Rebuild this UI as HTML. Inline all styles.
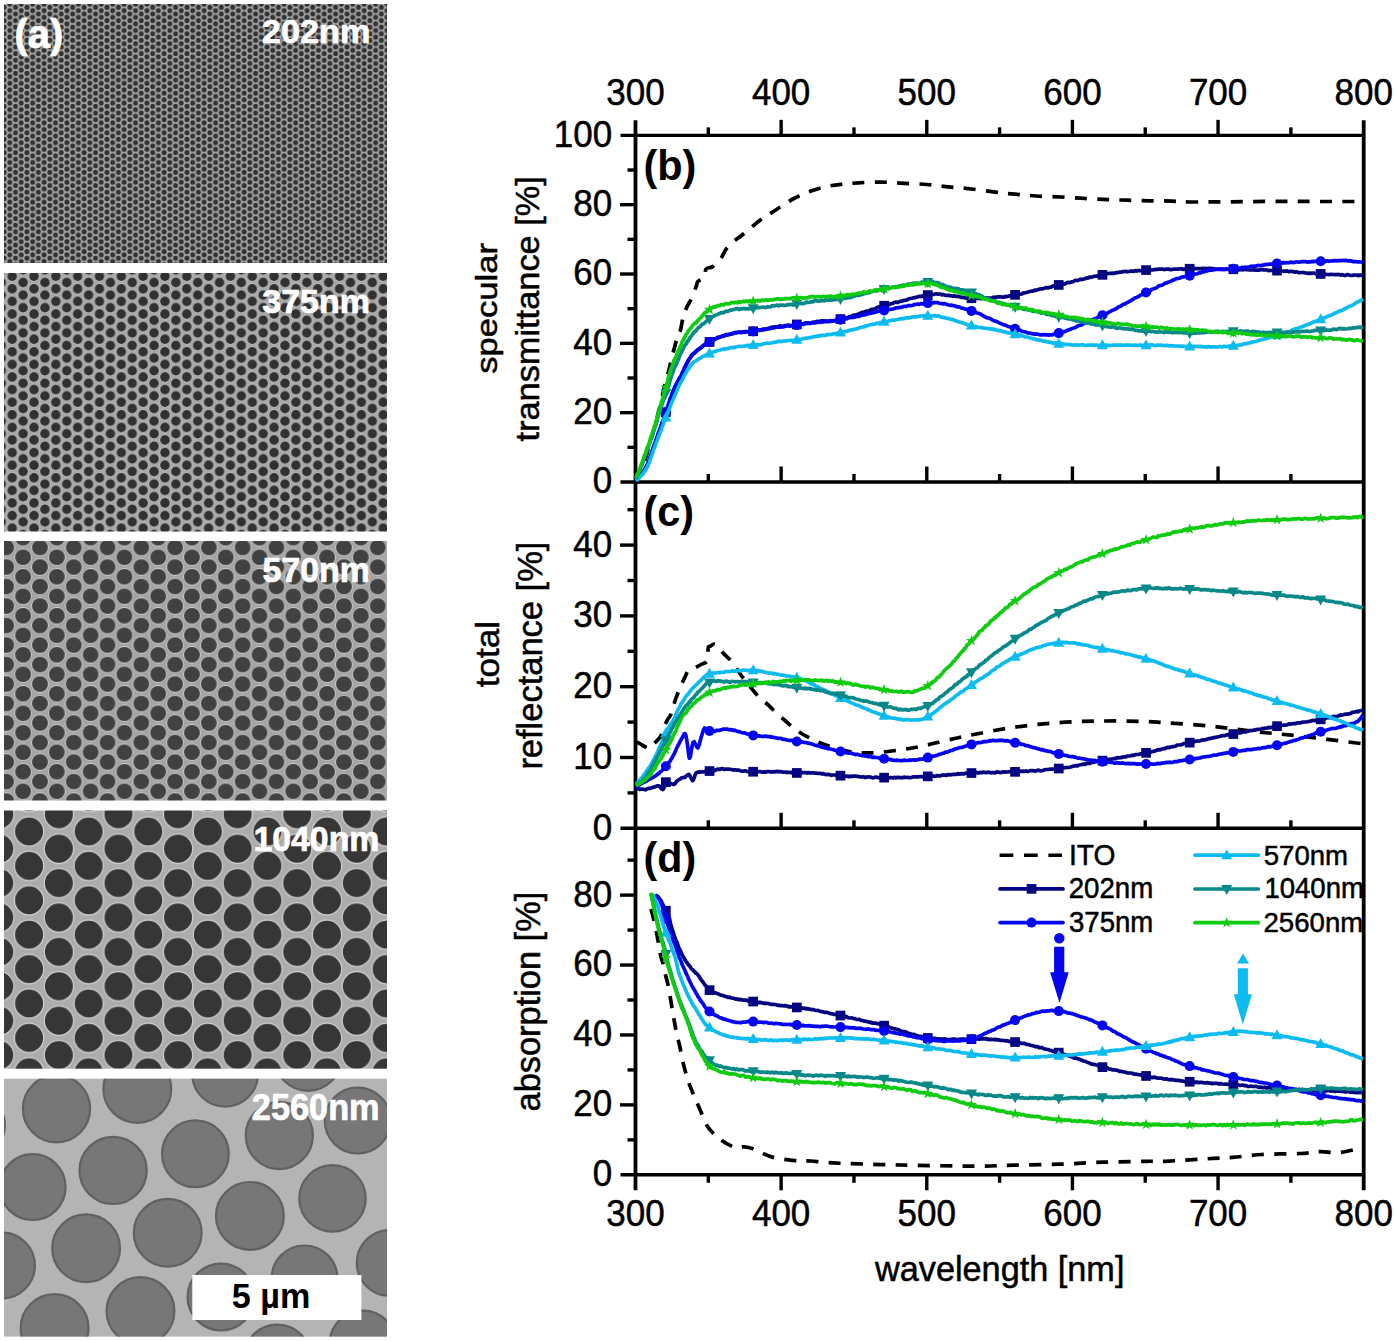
<!DOCTYPE html><html><head><meta charset="utf-8"><style>
html,body{margin:0;padding:0;background:#fff;overflow:hidden;}
svg{display:block;}
</style></head><body>
<svg width="1395" height="1341" viewBox="0 0 1395 1341">
<defs><pattern id="p0" patternUnits="userSpaceOnUse" x="9.80" y="10.70" width="11.432" height="6.600"><rect width="11.432" height="6.600" fill="#a6a6a6"/><circle cx="0.00" cy="0.00" r="2.5" fill="#323232"/><circle cx="0.00" cy="6.60" r="2.5" fill="#323232"/><circle cx="11.43" cy="0.00" r="2.5" fill="#323232"/><circle cx="11.43" cy="6.60" r="2.5" fill="#323232"/><circle cx="5.72" cy="3.30" r="2.5" fill="#323232"/></pattern><pattern id="p1" patternUnits="userSpaceOnUse" x="12.20" y="276.20" width="21.824" height="12.600"><rect width="21.824" height="12.600" fill="#a8a8a8"/><circle cx="0.00" cy="0.00" r="5.02" fill="none" stroke="#d2d2d2" stroke-width="0.6"/><circle cx="0.00" cy="12.60" r="5.02" fill="none" stroke="#d2d2d2" stroke-width="0.6"/><circle cx="21.82" cy="0.00" r="5.02" fill="none" stroke="#d2d2d2" stroke-width="0.6"/><circle cx="21.82" cy="12.60" r="5.02" fill="none" stroke="#d2d2d2" stroke-width="0.6"/><circle cx="10.91" cy="6.30" r="5.02" fill="none" stroke="#d2d2d2" stroke-width="0.6"/><circle cx="0.00" cy="0.00" r="4.75" fill="#313131"/><circle cx="0.00" cy="12.60" r="4.75" fill="#313131"/><circle cx="21.82" cy="0.00" r="4.75" fill="#313131"/><circle cx="21.82" cy="12.60" r="4.75" fill="#313131"/><circle cx="10.91" cy="6.30" r="4.75" fill="#313131"/></pattern><pattern id="p2" patternUnits="userSpaceOnUse" x="23.10" y="557.30" width="33.775" height="19.500"><rect width="33.775" height="19.500" fill="#a4a4a4"/><circle cx="0.00" cy="0.00" r="8.30" fill="none" stroke="#d2d2d2" stroke-width="0.9"/><circle cx="0.00" cy="19.50" r="8.30" fill="none" stroke="#d2d2d2" stroke-width="0.9"/><circle cx="33.77" cy="0.00" r="8.30" fill="none" stroke="#d2d2d2" stroke-width="0.9"/><circle cx="33.77" cy="19.50" r="8.30" fill="none" stroke="#d2d2d2" stroke-width="0.9"/><circle cx="16.89" cy="9.75" r="8.30" fill="none" stroke="#d2d2d2" stroke-width="0.9"/><circle cx="0.00" cy="0.00" r="7.9" fill="#414141"/><circle cx="0.00" cy="19.50" r="7.9" fill="#414141"/><circle cx="33.77" cy="0.00" r="7.9" fill="#414141"/><circle cx="33.77" cy="19.50" r="7.9" fill="#414141"/><circle cx="16.89" cy="9.75" r="7.9" fill="#414141"/></pattern><pattern id="p3" patternUnits="userSpaceOnUse" x="29.10" y="831.50" width="59.583" height="34.400"><rect width="59.583" height="34.400" fill="#acacac"/><circle cx="0.00" cy="0.00" r="14.54" fill="none" stroke="#d2d2d2" stroke-width="1.2"/><circle cx="0.00" cy="34.40" r="14.54" fill="none" stroke="#d2d2d2" stroke-width="1.2"/><circle cx="59.58" cy="0.00" r="14.54" fill="none" stroke="#d2d2d2" stroke-width="1.2"/><circle cx="59.58" cy="34.40" r="14.54" fill="none" stroke="#d2d2d2" stroke-width="1.2"/><circle cx="29.79" cy="17.20" r="14.54" fill="none" stroke="#d2d2d2" stroke-width="1.2"/><circle cx="0.00" cy="0.00" r="14.0" fill="#363636"/><circle cx="0.00" cy="34.40" r="14.0" fill="#363636"/><circle cx="59.58" cy="0.00" r="14.0" fill="#363636"/><circle cx="59.58" cy="34.40" r="14.0" fill="#363636"/><circle cx="29.79" cy="17.20" r="14.0" fill="#363636"/></pattern><clipPath id="c5"><rect x="4" y="1078.7" width="383" height="257.89999999999986"/></clipPath></defs>
<rect width="1395" height="1341" fill="#fff"/>
<rect x="4" y="4" width="383" height="259" fill="url(#p0)"/><rect x="4" y="273" width="383" height="258.5" fill="url(#p1)"/><rect x="4" y="541" width="383" height="259.5" fill="url(#p2)"/><rect x="4" y="810.5" width="383" height="258.20000000000005" fill="url(#p3)"/><rect x="4" y="1078.7" width="383" height="257.89999999999986" fill="#b4b4b4"/><g clip-path="url(#c5)" fill="#777777" stroke="#616161" stroke-width="2.2"><circle cx="56.5" cy="1108.7" r="33.6"/><circle cx="137.3" cy="1088.9" r="33.9"/><circle cx="195.4" cy="1153.8" r="33.4"/><circle cx="32.7" cy="1187.1" r="32.9"/><circle cx="113.1" cy="1170.4" r="33.6"/><circle cx="167.7" cy="1232.7" r="33.9"/><circle cx="2" cy="1265.5" r="32.9"/><circle cx="86.1" cy="1248.2" r="33.9"/><circle cx="54.6" cy="1328" r="33.9"/><circle cx="140.5" cy="1311.1" r="33.9"/><circle cx="221" cy="1297" r="33.4"/><circle cx="225.1" cy="1073.7" r="32.9"/><circle cx="308" cy="1057.4" r="33.4"/><circle cx="357.7" cy="1120.6" r="32.9"/><circle cx="279.3" cy="1135.5" r="33.6"/><circle cx="332.5" cy="1198.4" r="33.199999999999996"/><circle cx="249.9" cy="1215.9" r="33.9"/><circle cx="389.7" cy="1262.9" r="32.9"/><circle cx="304.5" cy="1278.4" r="32.9"/><circle cx="363" cy="1344" r="33.4"/><circle cx="277.3" cy="1358" r="33.4"/><circle cx="-28" cy="1125" r="32.9"/></g><text transform="matrix(0.39911,0,0,0.40319,14.50,47.93)" font-family="'Liberation Sans', sans-serif" font-weight="bold" font-size="100" fill="#fff" stroke="#fff" stroke-width="1.75" stroke-linejoin="round">(a)</text><text transform="matrix(0.34221,0,0,0.32817,261.97,43.27)" font-family="'Liberation Sans', sans-serif" font-weight="bold" font-size="100" fill="#fff" stroke="#fff" stroke-width="2.05" stroke-linejoin="round">202nm</text><text transform="matrix(0.33948,0,0,0.34085,262.32,312.76)" font-family="'Liberation Sans', sans-serif" font-weight="bold" font-size="100" fill="#fff" stroke="#fff" stroke-width="2.06" stroke-linejoin="round">375nm</text><text transform="matrix(0.33896,0,0,0.35352,262.58,582.25)" font-family="'Liberation Sans', sans-serif" font-weight="bold" font-size="100" fill="#fff" stroke="#fff" stroke-width="2.07" stroke-linejoin="round">570nm</text><text transform="matrix(0.33750,0,0,0.35493,253.57,850.65)" font-family="'Liberation Sans', sans-serif" font-weight="bold" font-size="100" fill="#fff" stroke="#fff" stroke-width="2.07" stroke-linejoin="round">1040nm</text><text transform="matrix(0.34298,0,0,0.36479,251.87,1119.64)" font-family="'Liberation Sans', sans-serif" font-weight="bold" font-size="100" fill="#fff" stroke="#fff" stroke-width="2.04" stroke-linejoin="round">2560nm</text><rect x="192.3" y="1275" width="169.1" height="45" fill="#fff"/><text transform="matrix(0.34208,0,0,0.34333,231.67,1307.89)" font-family="'Liberation Sans', sans-serif" font-weight="bold" font-size="100" fill="#000">5 µm</text><line x1="620.50" y1="135.35" x2="1363.70" y2="135.35" stroke="#000" stroke-width="3.4"/><line x1="635.50" y1="120.35" x2="635.50" y2="1190.30" stroke="#000" stroke-width="3.8"/><line x1="1363.70" y1="120.35" x2="1363.70" y2="1190.30" stroke="#000" stroke-width="3.8"/><line x1="620.50" y1="482.00" x2="1363.70" y2="482.00" stroke="#000" stroke-width="3.4"/><line x1="620.50" y1="828.30" x2="1363.70" y2="828.30" stroke="#000" stroke-width="3.4"/><line x1="620.50" y1="1174.80" x2="1363.70" y2="1174.80" stroke="#000" stroke-width="3.4"/><line x1="708.32" y1="135.35" x2="708.32" y2="127.35" stroke="#000" stroke-width="3.4"/><line x1="708.32" y1="1174.80" x2="708.32" y2="1182.80" stroke="#000" stroke-width="3.4"/><line x1="708.32" y1="482.00" x2="708.32" y2="474.00" stroke="#000" stroke-width="3.4"/><line x1="708.32" y1="828.30" x2="708.32" y2="820.30" stroke="#000" stroke-width="3.4"/><line x1="781.14" y1="135.35" x2="781.14" y2="119.85" stroke="#000" stroke-width="3.4"/><line x1="781.14" y1="1174.80" x2="781.14" y2="1190.30" stroke="#000" stroke-width="3.4"/><line x1="781.14" y1="482.00" x2="781.14" y2="466.50" stroke="#000" stroke-width="3.4"/><line x1="781.14" y1="828.30" x2="781.14" y2="812.80" stroke="#000" stroke-width="3.4"/><line x1="853.96" y1="135.35" x2="853.96" y2="127.35" stroke="#000" stroke-width="3.4"/><line x1="853.96" y1="1174.80" x2="853.96" y2="1182.80" stroke="#000" stroke-width="3.4"/><line x1="853.96" y1="482.00" x2="853.96" y2="474.00" stroke="#000" stroke-width="3.4"/><line x1="853.96" y1="828.30" x2="853.96" y2="820.30" stroke="#000" stroke-width="3.4"/><line x1="926.78" y1="135.35" x2="926.78" y2="119.85" stroke="#000" stroke-width="3.4"/><line x1="926.78" y1="1174.80" x2="926.78" y2="1190.30" stroke="#000" stroke-width="3.4"/><line x1="926.78" y1="482.00" x2="926.78" y2="466.50" stroke="#000" stroke-width="3.4"/><line x1="926.78" y1="828.30" x2="926.78" y2="812.80" stroke="#000" stroke-width="3.4"/><line x1="999.60" y1="135.35" x2="999.60" y2="127.35" stroke="#000" stroke-width="3.4"/><line x1="999.60" y1="1174.80" x2="999.60" y2="1182.80" stroke="#000" stroke-width="3.4"/><line x1="999.60" y1="482.00" x2="999.60" y2="474.00" stroke="#000" stroke-width="3.4"/><line x1="999.60" y1="828.30" x2="999.60" y2="820.30" stroke="#000" stroke-width="3.4"/><line x1="1072.42" y1="135.35" x2="1072.42" y2="119.85" stroke="#000" stroke-width="3.4"/><line x1="1072.42" y1="1174.80" x2="1072.42" y2="1190.30" stroke="#000" stroke-width="3.4"/><line x1="1072.42" y1="482.00" x2="1072.42" y2="466.50" stroke="#000" stroke-width="3.4"/><line x1="1072.42" y1="828.30" x2="1072.42" y2="812.80" stroke="#000" stroke-width="3.4"/><line x1="1145.24" y1="135.35" x2="1145.24" y2="127.35" stroke="#000" stroke-width="3.4"/><line x1="1145.24" y1="1174.80" x2="1145.24" y2="1182.80" stroke="#000" stroke-width="3.4"/><line x1="1145.24" y1="482.00" x2="1145.24" y2="474.00" stroke="#000" stroke-width="3.4"/><line x1="1145.24" y1="828.30" x2="1145.24" y2="820.30" stroke="#000" stroke-width="3.4"/><line x1="1218.06" y1="135.35" x2="1218.06" y2="119.85" stroke="#000" stroke-width="3.4"/><line x1="1218.06" y1="1174.80" x2="1218.06" y2="1190.30" stroke="#000" stroke-width="3.4"/><line x1="1218.06" y1="482.00" x2="1218.06" y2="466.50" stroke="#000" stroke-width="3.4"/><line x1="1218.06" y1="828.30" x2="1218.06" y2="812.80" stroke="#000" stroke-width="3.4"/><line x1="1290.88" y1="135.35" x2="1290.88" y2="127.35" stroke="#000" stroke-width="3.4"/><line x1="1290.88" y1="1174.80" x2="1290.88" y2="1182.80" stroke="#000" stroke-width="3.4"/><line x1="1290.88" y1="482.00" x2="1290.88" y2="474.00" stroke="#000" stroke-width="3.4"/><line x1="1290.88" y1="828.30" x2="1290.88" y2="820.30" stroke="#000" stroke-width="3.4"/><line x1="627.50" y1="447.33" x2="635.50" y2="447.33" stroke="#000" stroke-width="3.4"/><line x1="620.00" y1="412.67" x2="635.50" y2="412.67" stroke="#000" stroke-width="3.4"/><line x1="627.50" y1="378.00" x2="635.50" y2="378.00" stroke="#000" stroke-width="3.4"/><line x1="620.00" y1="343.34" x2="635.50" y2="343.34" stroke="#000" stroke-width="3.4"/><line x1="627.50" y1="308.68" x2="635.50" y2="308.68" stroke="#000" stroke-width="3.4"/><line x1="620.00" y1="274.01" x2="635.50" y2="274.01" stroke="#000" stroke-width="3.4"/><line x1="627.50" y1="239.34" x2="635.50" y2="239.34" stroke="#000" stroke-width="3.4"/><line x1="620.00" y1="204.68" x2="635.50" y2="204.68" stroke="#000" stroke-width="3.4"/><line x1="627.50" y1="170.01" x2="635.50" y2="170.01" stroke="#000" stroke-width="3.4"/><line x1="627.50" y1="792.90" x2="635.50" y2="792.90" stroke="#000" stroke-width="3.4"/><line x1="620.00" y1="757.50" x2="635.50" y2="757.50" stroke="#000" stroke-width="3.4"/><line x1="627.50" y1="722.10" x2="635.50" y2="722.10" stroke="#000" stroke-width="3.4"/><line x1="620.00" y1="686.70" x2="635.50" y2="686.70" stroke="#000" stroke-width="3.4"/><line x1="627.50" y1="651.30" x2="635.50" y2="651.30" stroke="#000" stroke-width="3.4"/><line x1="620.00" y1="615.90" x2="635.50" y2="615.90" stroke="#000" stroke-width="3.4"/><line x1="627.50" y1="580.50" x2="635.50" y2="580.50" stroke="#000" stroke-width="3.4"/><line x1="620.00" y1="545.10" x2="635.50" y2="545.10" stroke="#000" stroke-width="3.4"/><line x1="627.50" y1="509.70" x2="635.50" y2="509.70" stroke="#000" stroke-width="3.4"/><line x1="627.50" y1="1139.84" x2="635.50" y2="1139.84" stroke="#000" stroke-width="3.4"/><line x1="620.00" y1="1104.88" x2="635.50" y2="1104.88" stroke="#000" stroke-width="3.4"/><line x1="627.50" y1="1069.92" x2="635.50" y2="1069.92" stroke="#000" stroke-width="3.4"/><line x1="620.00" y1="1034.96" x2="635.50" y2="1034.96" stroke="#000" stroke-width="3.4"/><line x1="627.50" y1="1000.00" x2="635.50" y2="1000.00" stroke="#000" stroke-width="3.4"/><line x1="620.00" y1="965.04" x2="635.50" y2="965.04" stroke="#000" stroke-width="3.4"/><line x1="627.50" y1="930.08" x2="635.50" y2="930.08" stroke="#000" stroke-width="3.4"/><line x1="620.00" y1="895.12" x2="635.50" y2="895.12" stroke="#000" stroke-width="3.4"/><line x1="627.50" y1="860.16" x2="635.50" y2="860.16" stroke="#000" stroke-width="3.4"/><text transform="matrix(0.35,0,0,0.377,635.50,105.20)" text-anchor="middle" font-family="'Liberation Sans', sans-serif" font-size="100" stroke="#000" stroke-width="1.4">300</text><text transform="matrix(0.35,0,0,0.377,635.50,1225.90)" text-anchor="middle" font-family="'Liberation Sans', sans-serif" font-size="100" stroke="#000" stroke-width="1.4">300</text><text transform="matrix(0.35,0,0,0.377,781.14,105.20)" text-anchor="middle" font-family="'Liberation Sans', sans-serif" font-size="100" stroke="#000" stroke-width="1.4">400</text><text transform="matrix(0.35,0,0,0.377,781.14,1225.90)" text-anchor="middle" font-family="'Liberation Sans', sans-serif" font-size="100" stroke="#000" stroke-width="1.4">400</text><text transform="matrix(0.35,0,0,0.377,926.78,105.20)" text-anchor="middle" font-family="'Liberation Sans', sans-serif" font-size="100" stroke="#000" stroke-width="1.4">500</text><text transform="matrix(0.35,0,0,0.377,926.78,1225.90)" text-anchor="middle" font-family="'Liberation Sans', sans-serif" font-size="100" stroke="#000" stroke-width="1.4">500</text><text transform="matrix(0.35,0,0,0.377,1072.42,105.20)" text-anchor="middle" font-family="'Liberation Sans', sans-serif" font-size="100" stroke="#000" stroke-width="1.4">600</text><text transform="matrix(0.35,0,0,0.377,1072.42,1225.90)" text-anchor="middle" font-family="'Liberation Sans', sans-serif" font-size="100" stroke="#000" stroke-width="1.4">600</text><text transform="matrix(0.35,0,0,0.377,1218.06,105.20)" text-anchor="middle" font-family="'Liberation Sans', sans-serif" font-size="100" stroke="#000" stroke-width="1.4">700</text><text transform="matrix(0.35,0,0,0.377,1218.06,1225.90)" text-anchor="middle" font-family="'Liberation Sans', sans-serif" font-size="100" stroke="#000" stroke-width="1.4">700</text><text transform="matrix(0.35,0,0,0.377,1363.70,105.20)" text-anchor="middle" font-family="'Liberation Sans', sans-serif" font-size="100" stroke="#000" stroke-width="1.4">800</text><text transform="matrix(0.35,0,0,0.377,1363.70,1225.90)" text-anchor="middle" font-family="'Liberation Sans', sans-serif" font-size="100" stroke="#000" stroke-width="1.4">800</text><text transform="matrix(0.35,0,0,0.377,612.20,493.40)" text-anchor="end" font-family="'Liberation Sans', sans-serif" font-size="100" stroke="#000" stroke-width="1.4">0</text><text transform="matrix(0.35,0,0,0.377,612.20,424.07)" text-anchor="end" font-family="'Liberation Sans', sans-serif" font-size="100" stroke="#000" stroke-width="1.4">20</text><text transform="matrix(0.35,0,0,0.377,612.20,354.74)" text-anchor="end" font-family="'Liberation Sans', sans-serif" font-size="100" stroke="#000" stroke-width="1.4">40</text><text transform="matrix(0.35,0,0,0.377,612.20,285.41)" text-anchor="end" font-family="'Liberation Sans', sans-serif" font-size="100" stroke="#000" stroke-width="1.4">60</text><text transform="matrix(0.35,0,0,0.377,612.20,216.08)" text-anchor="end" font-family="'Liberation Sans', sans-serif" font-size="100" stroke="#000" stroke-width="1.4">80</text><text transform="matrix(0.35,0,0,0.377,612.20,146.75)" text-anchor="end" font-family="'Liberation Sans', sans-serif" font-size="100" stroke="#000" stroke-width="1.4">100</text><text transform="matrix(0.35,0,0,0.377,612.20,839.70)" text-anchor="end" font-family="'Liberation Sans', sans-serif" font-size="100" stroke="#000" stroke-width="1.4">0</text><text transform="matrix(0.35,0,0,0.377,612.20,768.90)" text-anchor="end" font-family="'Liberation Sans', sans-serif" font-size="100" stroke="#000" stroke-width="1.4">10</text><text transform="matrix(0.35,0,0,0.377,612.20,698.10)" text-anchor="end" font-family="'Liberation Sans', sans-serif" font-size="100" stroke="#000" stroke-width="1.4">20</text><text transform="matrix(0.35,0,0,0.377,612.20,627.30)" text-anchor="end" font-family="'Liberation Sans', sans-serif" font-size="100" stroke="#000" stroke-width="1.4">30</text><text transform="matrix(0.35,0,0,0.377,612.20,556.50)" text-anchor="end" font-family="'Liberation Sans', sans-serif" font-size="100" stroke="#000" stroke-width="1.4">40</text><text transform="matrix(0.35,0,0,0.377,612.20,1186.20)" text-anchor="end" font-family="'Liberation Sans', sans-serif" font-size="100" stroke="#000" stroke-width="1.4">0</text><text transform="matrix(0.35,0,0,0.377,612.20,1116.28)" text-anchor="end" font-family="'Liberation Sans', sans-serif" font-size="100" stroke="#000" stroke-width="1.4">20</text><text transform="matrix(0.35,0,0,0.377,612.20,1046.36)" text-anchor="end" font-family="'Liberation Sans', sans-serif" font-size="100" stroke="#000" stroke-width="1.4">40</text><text transform="matrix(0.35,0,0,0.377,612.20,976.44)" text-anchor="end" font-family="'Liberation Sans', sans-serif" font-size="100" stroke="#000" stroke-width="1.4">60</text><text transform="matrix(0.35,0,0,0.377,612.20,906.52)" text-anchor="end" font-family="'Liberation Sans', sans-serif" font-size="100" stroke="#000" stroke-width="1.4">80</text><text transform="matrix(0.41441,0,0,0.41596,643.43,179.66)" font-family="'Liberation Sans', sans-serif" font-weight="bold" font-size="100" fill="#000">(b)</text><text transform="matrix(0.41429,0,0,0.42128,643.43,526.05)" font-family="'Liberation Sans', sans-serif" font-weight="bold" font-size="100" fill="#000">(c)</text><text transform="matrix(0.41271,0,0,0.42128,643.44,872.05)" font-family="'Liberation Sans', sans-serif" font-weight="bold" font-size="100" fill="#000">(d)</text><text transform="matrix(0,-0.34665,0.28617,0,497.29,373.84)" font-family="'Liberation Sans', sans-serif" font-weight="normal" font-size="100" fill="#000" stroke="#000" stroke-width="1.75">specular</text><text transform="matrix(0,-0.34377,0.33830,0,539.40,441.59)" font-family="'Liberation Sans', sans-serif" font-weight="normal" font-size="100" fill="#000" stroke="#000" stroke-width="1.48">transmittance [%]</text><text transform="matrix(0,-0.35056,0.33649,0,498.96,687.30)" font-family="'Liberation Sans', sans-serif" font-weight="normal" font-size="100" fill="#000" stroke="#000" stroke-width="1.49">total</text><text transform="matrix(0,-0.34482,0.34468,0,542.46,769.61)" font-family="'Liberation Sans', sans-serif" font-weight="normal" font-size="100" fill="#000" stroke="#000" stroke-width="1.45">reflectance [%]</text><text transform="matrix(0,-0.34395,0.34362,0,540.48,1111.48)" font-family="'Liberation Sans', sans-serif" font-weight="normal" font-size="100" fill="#000" stroke="#000" stroke-width="1.46">absorption [%]</text><text transform="matrix(0.34258,0,0,0.34255,875.00,1281.01)" font-family="'Liberation Sans', sans-serif" font-weight="normal" font-size="100" fill="#000" stroke="#000" stroke-width="1.46">wavelength [nm]</text><text transform="matrix(0.28146,0,0,0.29718,1068.97,865.20)" font-family="'Liberation Sans', sans-serif" font-weight="normal" font-size="100" fill="#000" stroke="#000" stroke-width="1.78">ITO</text><text transform="matrix(0.27653,0,0,0.28873,1068.72,898.31)" font-family="'Liberation Sans', sans-serif" font-weight="normal" font-size="100" fill="#000" stroke="#000" stroke-width="1.81">202nm</text><text transform="matrix(0.27559,0,0,0.28873,1069.00,932.31)" font-family="'Liberation Sans', sans-serif" font-weight="normal" font-size="100" fill="#000" stroke="#000" stroke-width="1.81">375nm</text><text transform="matrix(0.27559,0,0,0.28451,1263.80,864.82)" font-family="'Liberation Sans', sans-serif" font-weight="normal" font-size="100" fill="#000" stroke="#000" stroke-width="1.81">570nm</text><text transform="matrix(0.27550,0,0,0.28592,1264.40,898.41)" font-family="'Liberation Sans', sans-serif" font-weight="normal" font-size="100" fill="#000" stroke="#000" stroke-width="1.81">1040nm</text><text transform="matrix(0.27600,0,0,0.28451,1263.52,932.32)" font-family="'Liberation Sans', sans-serif" font-weight="normal" font-size="100" fill="#000" stroke="#000" stroke-width="1.81">2560nm</text><path d="M636.0,481.0 C636.8,479.3 639.5,474.5 641.0,471.0 C642.5,467.5 643.5,464.7 645.0,460.0 C646.5,455.3 648.4,448.5 650.0,443.0 C651.6,437.5 653.3,431.8 654.6,427.0 C655.9,422.2 656.9,418.5 658.0,414.0 C659.1,409.5 660.3,405.2 661.5,400.0 C662.7,394.8 664.0,388.0 665.2,383.0 C666.5,378.0 667.9,374.1 669.0,369.8 C670.1,365.5 670.9,361.1 671.9,357.1 C672.9,353.1 674.0,349.2 674.9,345.9 C675.8,342.5 676.6,339.6 677.5,337.0 C678.4,334.4 679.6,333.3 680.5,330.0 C681.4,326.7 682.2,320.5 683.1,317.0 C684.0,313.5 685.1,311.2 686.0,309.0 C686.9,306.8 687.6,305.7 688.5,304.0 C689.4,302.3 690.3,301.0 691.2,299.0 C692.1,297.0 693.1,294.3 694.0,292.0 C694.9,289.7 695.9,287.2 696.6,285.4 C697.3,283.6 696.6,282.7 698.0,281.4 C699.4,280.1 703.4,279.5 704.7,277.4 C706.0,275.3 704.7,270.8 706.0,269.0 C707.3,267.2 710.2,268.3 712.7,266.6 C715.2,264.9 718.6,261.5 720.8,258.6 C723.0,255.7 723.9,252.1 726.1,249.2 C728.3,246.3 731.5,243.5 734.2,241.1 C736.9,238.7 738.0,238.4 742.2,235.0 C746.5,231.6 754.0,224.8 759.7,220.5 C765.4,216.2 770.8,213.2 776.5,209.5 C782.2,205.8 788.2,201.6 794.0,198.5 C799.8,195.4 805.5,193.0 811.0,191.0 C816.5,189.0 821.8,187.6 826.8,186.5 C831.8,185.4 835.8,184.9 841.1,184.3 C846.4,183.7 851.9,183.2 858.6,182.8 C865.3,182.4 873.8,182.0 881.4,182.1 C889.0,182.2 896.6,182.9 904.2,183.3 C911.8,183.7 919.6,183.9 927.0,184.5 C934.4,185.1 941.1,186.1 948.5,186.8 C955.9,187.6 963.5,188.1 971.3,189.0 C979.1,189.9 988.2,191.3 995.5,192.2 C1002.8,193.1 1008.2,193.6 1015.1,194.2 C1022.0,194.8 1029.0,195.5 1036.6,196.0 C1044.2,196.5 1052.8,196.6 1060.8,197.0 C1068.8,197.4 1077.1,198.1 1084.9,198.5 C1092.7,198.9 1100.6,199.3 1107.8,199.6 C1115.0,199.9 1120.8,200.0 1127.9,200.2 C1135.1,200.4 1143.3,200.7 1150.7,200.8 C1158.1,201.0 1165.8,200.9 1172.2,201.1 C1178.6,201.3 1179.4,201.9 1189.0,202.0 C1198.6,202.1 1215.0,201.9 1230.0,201.8 C1245.0,201.7 1264.0,201.4 1279.0,201.3 C1294.0,201.2 1306.0,201.5 1320.0,201.5 C1334.0,201.5 1355.8,201.5 1363.0,201.5" fill="none" stroke="#000000" stroke-width="3.7" stroke-linejoin="round" stroke-dasharray="12 10.3"/><path d="M636.0,480.0 636.6,479.2 637.3,478.2 638.1,477.8 639.1,476.2 640.1,475.5 641.2,474.1 642.3,472.5 643.4,471.6 644.4,469.7 645.4,468.5 646.3,466.6 646.9,465.4 647.5,464.5 648.0,463.5 648.6,461.5 649.1,460.2 649.6,459.1 650.1,457.9 650.6,456.1 651.1,454.4 651.6,453.3 652.2,450.9 652.7,450.1 653.2,448.0 653.7,446.3 654.3,444.7 654.8,443.4 655.3,442.5 655.9,440.4 656.4,439.3 656.9,437.8 657.5,436.1 658.0,434.7 658.6,432.7 659.2,431.2 659.7,429.8 660.3,428.7 660.8,427.0 661.3,425.4 661.8,424.2 662.3,422.7 662.8,421.2 663.3,420.3 663.9,418.6 664.4,416.6 664.9,415.3 665.4,413.7 665.9,412.5 666.4,410.9 666.9,409.1 667.4,408.3 667.8,406.1 668.3,405.0 668.7,404.0 669.2,402.1 669.6,401.2 670.0,399.6 670.6,398.4 671.2,396.8 671.7,395.1 672.2,394.0 672.7,392.1 673.3,391.1 673.8,389.7 674.3,388.4 674.9,387.0 675.6,385.8 676.3,384.5 677.1,382.7 677.9,381.5 678.7,379.6 679.4,378.9 680.2,377.5 680.9,376.4 681.6,374.9 682.3,373.0 682.9,371.7 683.6,370.5 684.2,368.5 684.8,367.6 685.5,366.0 686.1,364.7 686.8,363.2 687.6,362.4 688.3,360.5 689.0,359.3 689.8,358.2 690.5,357.4 691.3,355.6 692.2,354.8 693.1,354.0 694.1,353.4 695.1,352.5 696.1,351.7 697.3,350.2 698.4,349.4 699.6,348.4 700.9,347.9 702.2,346.9 703.5,345.2 704.9,344.3 706.2,343.5 707.5,342.6 708.9,342.1 710.2,341.4 711.6,340.3 713.0,339.4 714.4,339.1 715.9,338.4 717.2,338.0 718.6,337.8 720.0,337.1 721.4,336.4 722.8,336.1 724.3,335.7 725.7,334.7 727.1,335.1 728.5,334.6 729.8,334.4 731.1,334.0 732.5,333.3 733.8,333.1 735.2,332.6 736.7,332.8 738.3,332.1 739.6,332.0 740.9,332.0 742.3,331.9 743.6,332.0 745.0,331.6 746.5,331.5 748.0,331.5 749.7,331.4 751.4,331.4 753.2,330.9 754.5,331.4 755.8,331.0 757.2,330.3 758.7,330.1 760.2,329.9 761.7,329.6 763.3,329.1 764.9,329.4 766.5,329.2 768.1,328.4 769.7,328.1 771.2,327.4 772.8,327.2 774.3,327.1 775.8,326.8 777.4,327.1 779.0,326.2 780.5,325.9 782.1,326.5 783.7,326.0 785.2,325.5 786.8,325.6 788.3,325.0 789.9,325.3 791.4,325.5 792.9,325.3 794.4,324.9 795.9,324.4 797.3,324.3 798.9,323.9 800.5,324.2 802.0,323.8 803.5,323.8 805.0,323.1 806.5,322.8 808.0,323.1 809.5,323.0 811.0,322.7 812.6,322.4 814.3,322.2 816.1,321.9 817.5,321.3 818.8,321.5 820.1,321.2 821.5,320.9 822.8,320.8 824.2,321.0 825.6,320.9 827.1,321.2 828.5,321.3 830.1,320.7 831.7,321.0 833.4,320.9 835.2,320.6 837.0,319.7 839.0,319.2 841.1,318.8 842.3,318.4 843.6,318.1 844.8,318.2 846.2,318.0 847.5,317.6 848.9,316.9 850.3,316.6 851.8,316.3 853.3,315.2 854.8,315.2 856.3,314.9 857.8,314.3 859.4,313.8 860.9,313.0 862.5,312.3 864.1,312.3 865.7,311.3 867.3,311.2 868.9,310.9 870.5,309.8 872.2,309.3 873.8,309.3 875.4,308.6 876.9,307.6 878.5,307.1 880.1,306.6 881.6,306.8 883.2,306.3 884.7,305.3 886.2,305.5 887.8,305.2 889.3,304.5 890.9,303.8 892.5,303.5 894.1,302.7 895.7,302.1 897.4,302.6 899.0,301.8 900.6,301.3 902.3,301.2 903.9,300.3 905.5,300.3 907.1,299.9 908.7,298.9 910.3,298.5 911.9,298.2 913.4,297.8 915.0,297.7 916.5,297.1 918.0,296.9 919.4,296.3 920.8,296.7 922.2,295.9 923.5,295.7 924.8,295.6 926.1,295.7 927.3,295.0 928.4,295.3 930.6,294.6 932.6,294.4 934.4,294.3 936.1,293.8 937.7,294.2 939.1,294.0 940.4,294.0 941.7,294.8 943.0,294.4 944.3,294.9 945.6,295.3 946.9,295.3 948.3,295.3 949.8,295.6 951.4,295.8 952.9,296.2 954.5,295.8 956.1,296.4 957.6,296.3 959.2,296.6 960.8,297.3 962.4,297.3 964.0,297.6 965.6,298.0 967.2,298.3 968.8,298.0 970.4,298.3 972.0,298.3 973.5,298.4 975.0,298.6 976.6,298.4 978.1,298.4 979.7,298.3 981.2,298.7 982.8,298.4 984.4,298.5 985.9,298.5 987.5,297.8 989.0,298.0 990.5,298.2 992.0,298.0 993.5,297.3 995.0,297.2 996.5,297.3 997.9,296.9 999.2,296.9 1000.4,296.7 1001.7,297.1 1002.9,297.1 1004.1,297.1 1005.4,296.3 1006.8,296.6 1008.3,296.3 1009.9,295.6 1011.7,295.9 1013.6,295.6 1015.8,294.5 1017.0,295.0 1018.2,294.2 1019.5,294.0 1020.8,294.2 1022.2,293.8 1023.6,292.8 1025.1,292.8 1026.6,292.5 1028.1,292.0 1029.7,291.5 1031.3,291.2 1032.9,291.2 1034.5,290.2 1036.2,290.3 1037.8,289.8 1039.5,289.0 1041.2,288.9 1042.9,288.8 1044.6,288.3 1046.3,287.5 1048.0,287.9 1049.6,287.3 1051.3,287.1 1053.0,285.9 1054.6,285.7 1056.2,285.1 1057.8,285.4 1059.4,284.6 1060.9,284.1 1062.4,284.0 1063.9,284.1 1065.4,283.7 1066.9,282.8 1068.4,282.3 1069.9,282.6 1071.5,281.9 1073.0,281.7 1074.5,280.7 1076.0,280.3 1077.5,280.5 1079.0,279.9 1080.5,279.2 1082.0,279.6 1083.5,279.0 1085.0,278.8 1086.5,277.8 1088.0,278.1 1089.5,277.0 1091.0,277.4 1092.6,276.7 1094.1,276.3 1095.6,276.2 1097.1,276.2 1098.6,275.3 1100.1,274.9 1101.6,275.0 1103.1,274.5 1104.7,274.1 1106.3,273.9 1107.9,273.5 1109.5,273.4 1111.1,273.3 1112.7,273.1 1114.4,273.3 1116.0,272.7 1117.7,272.6 1119.3,272.2 1121.0,272.1 1122.6,271.7 1124.2,271.7 1125.9,271.3 1127.5,271.8 1129.1,271.5 1130.7,271.0 1132.3,271.1 1133.8,271.4 1135.4,270.5 1136.9,271.1 1138.4,270.6 1139.8,270.5 1141.3,270.7 1142.7,270.2 1144.1,270.2 1145.4,270.3 1146.7,270.4 1148.7,269.7 1150.6,270.0 1152.5,269.8 1154.3,269.7 1156.0,269.4 1157.7,269.3 1159.4,269.0 1161.0,269.1 1162.6,269.0 1164.1,269.6 1165.6,269.2 1167.1,269.1 1168.5,269.0 1169.9,269.7 1171.2,269.7 1172.5,269.5 1173.8,269.1 1175.0,269.1 1176.9,269.0 1178.5,269.1 1179.7,268.8 1180.7,268.9 1181.7,268.7 1182.8,269.3 1184.1,269.2 1185.7,268.8 1187.8,268.5 1190.4,269.1 1191.5,268.5 1192.6,268.6 1193.9,268.3 1195.1,268.6 1196.5,268.7 1197.9,268.7 1199.3,268.5 1200.8,268.8 1202.3,268.3 1203.9,268.6 1205.5,268.4 1207.1,268.7 1208.8,268.4 1210.4,268.4 1212.1,268.7 1213.8,268.7 1215.6,269.0 1217.3,269.0 1219.0,269.2 1220.7,269.2 1222.4,269.3 1224.1,269.4 1225.8,269.0 1227.5,269.0 1229.2,269.6 1230.8,268.9 1232.4,269.5 1234.0,269.4 1235.6,268.9 1237.1,269.7 1238.7,269.8 1240.2,269.6 1241.8,269.7 1243.3,269.8 1244.9,269.2 1246.5,269.6 1248.0,269.6 1249.6,270.0 1251.1,270.0 1252.7,270.0 1254.2,269.9 1255.8,270.2 1257.4,270.0 1258.9,270.1 1260.5,269.7 1262.0,269.6 1263.6,269.8 1265.1,270.0 1266.7,269.8 1268.3,270.6 1269.8,270.4 1271.4,270.5 1272.9,270.6 1274.5,270.7 1276.0,270.6 1277.6,270.3 1279.2,271.1 1280.7,271.1 1282.3,271.0 1283.8,271.1 1285.4,271.3 1287.0,270.9 1288.5,271.6 1290.1,271.3 1291.7,271.3 1293.2,271.6 1294.8,272.2 1296.4,271.8 1297.9,272.4 1299.5,272.8 1301.1,272.5 1302.6,272.5 1304.2,272.7 1305.8,273.0 1307.3,273.3 1308.9,273.2 1310.4,273.4 1312.0,273.0 1313.5,273.2 1315.1,273.4 1316.6,273.9 1318.1,273.6 1319.7,274.0 1321.2,273.6 1322.8,273.7 1324.5,274.0 1326.2,274.4 1327.9,274.5 1329.6,274.6 1331.4,274.3 1333.2,274.5 1335.0,274.6 1336.8,274.6 1338.6,274.4 1340.4,275.1 1342.2,274.6 1344.0,275.3 1345.7,275.3 1347.4,274.5 1349.0,275.0 1350.7,275.4 1352.2,275.5 1353.7,275.1 1355.2,275.0 1356.6,275.0 1357.9,275.7 1359.1,275.0 1360.2,275.4 1361.2,275.0 1362.2,275.4 1363.0,275.4" fill="none" stroke="#050582" stroke-width="3.7" stroke-linejoin="round"/><rect x="661.0" y="407.4" width="9.7" height="9.7" fill="#050582"/><rect x="704.7" y="337.1" width="9.7" height="9.7" fill="#050582"/><rect x="748.3" y="326.4" width="9.7" height="9.7" fill="#050582"/><rect x="792.0" y="319.6" width="9.7" height="9.7" fill="#050582"/><rect x="835.6" y="314.2" width="9.7" height="9.7" fill="#050582"/><rect x="879.3" y="300.9" width="9.7" height="9.7" fill="#050582"/><rect x="922.9" y="290.2" width="9.7" height="9.7" fill="#050582"/><rect x="966.6" y="293.4" width="9.7" height="9.7" fill="#050582"/><rect x="1010.2" y="290.0" width="9.7" height="9.7" fill="#050582"/><rect x="1053.9" y="280.1" width="9.7" height="9.7" fill="#050582"/><rect x="1097.6" y="270.0" width="9.7" height="9.7" fill="#050582"/><rect x="1141.2" y="265.2" width="9.7" height="9.7" fill="#050582"/><rect x="1184.8" y="263.9" width="9.7" height="9.7" fill="#050582"/><rect x="1228.5" y="264.4" width="9.7" height="9.7" fill="#050582"/><rect x="1272.2" y="265.8" width="9.7" height="9.7" fill="#050582"/><rect x="1315.8" y="269.1" width="9.7" height="9.7" fill="#050582"/><path d="M636.0,480.0 636.6,479.7 637.3,478.3 638.1,477.9 639.1,476.6 640.1,475.7 641.2,474.4 642.3,472.7 643.4,471.8 644.4,470.1 645.4,468.2 646.3,466.7 646.9,465.8 647.5,464.5 648.0,463.1 648.6,461.6 649.1,460.3 649.6,458.9 650.1,457.7 650.6,455.6 651.1,454.6 651.6,453.1 652.2,451.1 652.7,450.0 653.2,448.3 653.7,446.9 654.3,444.9 654.8,443.5 655.3,442.1 655.9,441.1 656.4,439.3 656.9,437.6 657.5,436.1 658.0,434.5 658.6,432.8 659.2,431.3 659.7,430.3 660.3,428.4 660.8,427.4 661.3,425.4 661.8,424.0 662.3,422.7 662.8,421.1 663.3,419.9 663.9,418.7 664.4,417.1 664.9,415.5 665.4,413.8 665.9,412.5 666.4,411.0 666.9,409.3 667.4,408.0 667.8,406.1 668.3,405.2 668.7,403.7 669.2,402.6 669.6,401.3 670.0,399.9 670.6,397.9 671.2,396.9 671.7,394.8 672.2,393.6 672.7,392.1 673.3,390.8 673.8,389.8 674.3,388.7 674.9,386.8 675.6,385.6 676.3,384.0 677.1,382.8 677.9,381.3 678.7,379.8 679.4,378.5 680.2,377.2 680.9,376.3 681.6,374.6 682.3,373.0 682.9,372.1 683.6,370.7 684.2,368.9 684.8,367.4 685.5,366.1 686.1,364.7 686.8,363.5 687.6,361.9 688.3,360.6 689.0,359.3 689.8,358.3 690.5,357.4 691.3,356.2 692.2,354.8 693.1,353.9 694.1,353.1 695.1,352.1 696.1,351.2 697.3,350.1 698.4,349.3 699.6,348.8 700.9,347.3 702.2,346.5 703.5,345.6 704.9,344.8 706.2,343.5 707.5,342.7 708.9,341.9 710.2,341.2 711.6,340.5 713.0,340.2 714.4,339.4 715.9,338.8 717.2,337.6 718.6,337.1 720.0,337.0 721.4,336.7 722.8,335.9 724.3,335.6 725.7,334.7 727.1,334.6 728.5,334.6 729.8,334.2 731.1,334.0 732.5,333.8 733.8,333.0 735.2,332.7 736.7,332.5 738.3,332.5 739.6,332.5 740.9,332.6 742.3,332.4 743.6,332.3 745.0,332.3 746.5,332.0 748.0,332.0 749.7,331.6 751.4,331.9 753.2,331.3 754.5,331.6 755.8,331.2 757.2,330.7 758.7,330.3 760.2,330.2 761.7,330.1 763.3,329.9 764.9,329.2 766.5,328.8 768.1,328.9 769.7,328.6 771.2,328.2 772.8,327.8 774.3,327.8 775.8,327.2 777.4,327.1 779.0,327.0 780.5,327.2 782.1,326.8 783.7,326.8 785.2,326.3 786.8,326.0 788.3,325.8 789.9,326.2 791.4,325.8 792.9,325.4 794.4,325.0 795.9,325.2 797.3,325.1 798.9,324.7 800.5,324.4 802.0,324.5 803.5,324.5 805.0,323.8 806.5,323.4 808.0,323.4 809.5,323.3 811.0,323.3 812.6,322.7 814.3,322.9 816.1,322.7 817.5,322.3 818.8,322.0 820.1,322.4 821.5,321.8 822.8,322.1 824.2,321.6 825.6,321.5 827.1,321.7 828.5,321.3 830.1,321.6 831.7,321.1 833.4,320.7 835.2,320.4 837.0,320.3 839.0,320.2 841.1,320.0 842.3,319.2 843.6,319.2 845.0,318.8 846.4,319.0 847.8,318.1 849.2,317.8 850.7,317.5 852.2,317.4 853.7,317.4 855.3,317.0 856.9,316.5 858.5,316.4 860.1,316.0 861.7,315.2 863.4,314.7 865.0,314.8 866.7,314.3 868.4,313.4 870.0,313.5 871.7,312.9 873.4,312.6 875.0,312.2 876.7,311.7 878.3,311.2 879.9,311.1 881.5,310.8 883.1,310.9 884.7,310.0 886.3,310.3 887.9,309.5 889.5,309.3 891.1,309.3 892.8,309.0 894.5,308.4 896.1,307.8 897.8,307.8 899.5,307.4 901.2,307.5 902.9,306.6 904.6,306.4 906.3,306.5 907.9,305.6 909.6,305.6 911.2,305.6 912.8,305.3 914.4,304.5 916.0,304.3 917.5,304.0 919.0,304.4 920.5,303.7 921.9,303.9 923.3,303.8 924.7,303.3 926.0,303.1 927.2,303.4 928.4,303.1 930.6,302.7 932.6,302.9 934.4,302.6 936.1,302.6 937.7,302.5 939.1,303.2 940.4,303.5 941.7,303.5 943.0,303.9 944.3,303.5 945.6,304.0 946.9,304.4 948.3,305.0 949.8,305.3 951.3,305.2 952.8,305.4 954.3,305.9 955.9,306.3 957.4,307.0 959.0,306.9 960.6,307.7 962.1,308.1 963.7,308.6 965.2,309.0 966.6,309.4 968.1,309.6 969.4,310.0 970.8,310.5 972.0,311.2 973.8,311.3 975.4,312.0 977.0,313.0 978.4,313.3 979.8,313.8 981.2,314.4 982.4,315.4 983.7,315.8 984.8,316.8 986.0,317.3 987.4,318.0 988.6,318.0 989.6,318.3 990.6,318.8 991.7,319.6 993.1,320.4 995.0,321.0 996.1,321.3 997.4,321.9 998.7,322.6 1000.1,323.2 1001.6,323.9 1003.2,324.6 1004.7,325.1 1006.4,325.4 1008.0,326.5 1009.6,326.8 1011.2,327.5 1012.8,328.0 1014.3,328.8 1015.8,328.9 1017.3,329.4 1018.8,329.9 1020.3,330.3 1021.7,331.3 1023.2,331.5 1024.6,331.8 1026.1,332.2 1027.5,333.0 1029.0,333.0 1030.5,333.1 1032.1,333.8 1033.7,333.9 1035.3,334.3 1036.6,333.9 1038.0,334.3 1039.3,334.7 1040.5,334.8 1041.8,335.0 1043.1,334.5 1044.5,334.8 1045.8,334.7 1047.3,334.8 1048.7,335.3 1050.3,334.9 1051.9,335.0 1053.6,334.3 1055.4,334.3 1057.3,333.6 1059.4,332.9 1060.6,333.0 1061.7,332.7 1063.0,331.7 1064.2,331.7 1065.6,331.2 1066.9,330.5 1068.3,330.1 1069.7,329.4 1071.1,328.9 1072.5,328.3 1074.0,328.0 1075.5,327.4 1077.0,326.5 1078.5,325.7 1080.0,325.3 1081.6,324.9 1083.1,323.9 1084.7,323.3 1086.2,322.5 1087.8,322.2 1089.4,321.4 1090.9,320.3 1092.5,319.6 1094.1,319.1 1095.6,318.5 1097.1,317.9 1098.6,316.8 1100.1,316.1 1101.6,315.8 1103.1,314.9 1104.5,314.2 1105.9,313.5 1107.4,313.2 1108.8,312.1 1110.3,311.5 1111.8,310.6 1113.3,309.9 1114.7,309.4 1116.2,308.7 1117.7,307.5 1119.2,306.6 1120.7,306.2 1122.2,305.0 1123.7,304.1 1125.1,303.9 1126.6,302.8 1128.1,302.2 1129.5,301.2 1130.9,300.7 1132.4,299.6 1133.8,298.7 1135.2,297.8 1136.5,297.4 1137.9,296.8 1139.2,296.2 1140.5,295.0 1141.8,294.7 1143.1,293.8 1144.3,293.3 1145.5,292.4 1146.7,291.9 1148.5,291.2 1150.2,290.7 1151.9,289.3 1153.5,288.8 1155.2,288.2 1156.7,287.6 1158.2,286.3 1159.7,285.6 1161.2,285.5 1162.6,284.9 1164.0,283.9 1165.3,283.0 1166.7,283.1 1167.9,282.2 1169.2,282.0 1170.4,281.3 1171.6,281.0 1172.8,280.0 1173.9,280.0 1175.0,279.2 1177.0,278.6 1178.8,278.3 1180.4,277.9 1181.8,277.1 1183.1,276.8 1184.4,276.7 1185.7,276.5 1187.1,276.2 1188.7,275.7 1190.4,275.3 1191.7,275.3 1193.1,275.0 1194.6,274.0 1196.1,274.0 1197.6,273.7 1199.1,272.7 1200.7,272.8 1202.3,271.9 1203.9,271.8 1205.5,271.3 1207.1,271.0 1208.6,270.4 1210.2,270.2 1211.8,270.1 1213.3,269.7 1214.7,269.7 1216.1,269.5 1217.5,269.4 1218.8,269.1 1220.1,269.4 1221.5,269.3 1222.9,269.1 1224.5,269.5 1226.1,269.4 1227.8,269.1 1229.7,268.8 1231.8,268.9 1234.0,268.4 1235.2,268.3 1236.5,268.4 1237.8,268.0 1239.1,268.1 1240.5,267.9 1241.9,267.4 1243.4,267.7 1244.9,267.1 1246.4,267.3 1248.0,267.1 1249.6,266.7 1251.2,266.2 1252.8,266.3 1254.5,266.0 1256.1,266.1 1257.8,265.3 1259.5,265.6 1261.2,265.5 1262.8,265.1 1264.5,264.9 1266.2,264.3 1267.9,264.6 1269.5,264.1 1271.2,264.2 1272.8,264.0 1274.4,263.4 1276.0,263.6 1277.6,263.6 1279.2,262.9 1280.8,262.9 1282.4,263.1 1284.0,262.6 1285.6,263.0 1287.3,262.5 1288.9,262.8 1290.6,262.2 1292.3,262.4 1293.9,262.6 1295.6,262.0 1297.3,262.0 1298.9,262.1 1300.6,261.9 1302.2,261.6 1303.8,261.7 1305.4,261.6 1307.0,262.1 1308.6,261.9 1310.1,262.0 1311.6,261.4 1313.1,261.8 1314.5,261.3 1316.0,261.5 1317.3,261.5 1318.7,261.3 1320.0,261.6 1321.2,261.3 1323.3,261.3 1325.3,261.4 1327.1,260.8 1328.9,261.3 1330.6,261.0 1332.2,260.7 1333.8,261.0 1335.3,260.5 1336.7,261.0 1338.1,260.7 1339.5,260.5 1340.8,260.7 1342.1,260.5 1343.4,260.3 1344.7,260.7 1346.0,260.3 1347.9,260.9 1349.8,260.7 1351.7,261.1 1353.5,261.6 1355.2,261.5 1356.9,261.8 1358.4,261.8 1359.8,261.8 1361.0,262.0 1362.1,262.2 1363.0,262.6" fill="none" stroke="#0505f0" stroke-width="3.7" stroke-linejoin="round"/><circle cx="665.9" cy="412.2" r="5.0" fill="#0505f0"/><circle cx="709.5" cy="341.9" r="5.0" fill="#0505f0"/><circle cx="753.2" cy="331.5" r="5.0" fill="#0505f0"/><circle cx="796.8" cy="325.1" r="5.0" fill="#0505f0"/><circle cx="840.5" cy="319.8" r="5.0" fill="#0505f0"/><circle cx="884.1" cy="310.4" r="5.0" fill="#0505f0"/><circle cx="927.8" cy="303.1" r="5.0" fill="#0505f0"/><circle cx="971.5" cy="310.9" r="5.0" fill="#0505f0"/><circle cx="1015.1" cy="328.8" r="5.0" fill="#0505f0"/><circle cx="1058.8" cy="333.1" r="5.0" fill="#0505f0"/><circle cx="1102.4" cy="315.3" r="5.0" fill="#0505f0"/><circle cx="1146.0" cy="292.4" r="5.0" fill="#0505f0"/><circle cx="1189.7" cy="275.7" r="5.0" fill="#0505f0"/><circle cx="1233.3" cy="268.7" r="5.0" fill="#0505f0"/><circle cx="1277.0" cy="263.4" r="5.0" fill="#0505f0"/><circle cx="1320.7" cy="261.3" r="5.0" fill="#0505f0"/><path d="M636.0,481.0 636.6,480.4 637.4,479.5 638.4,478.6 639.5,477.8 640.6,476.1 641.9,474.8 643.1,473.7 644.2,471.8 645.3,470.3 646.3,468.9 646.9,467.6 647.5,466.6 648.0,465.2 648.6,464.2 649.1,462.8 649.6,461.2 650.1,460.1 650.6,458.5 651.1,456.8 651.6,455.9 652.2,453.9 652.7,452.3 653.2,450.7 653.7,449.6 654.3,448.3 654.8,446.9 655.3,445.2 655.8,443.8 656.3,442.2 656.9,441.2 657.4,439.8 657.9,438.2 658.5,436.9 659.0,435.4 659.5,434.3 660.1,432.7 660.6,430.9 661.2,429.9 661.7,427.9 662.2,426.8 662.8,425.3 663.3,423.8 663.9,422.2 664.5,421.2 665.0,419.2 665.6,418.0 666.2,416.7 666.8,414.7 667.4,413.2 668.0,412.0 668.6,410.4 669.2,409.0 669.8,407.7 670.3,405.9 670.9,404.6 671.4,403.3 671.9,401.9 672.4,401.3 673.1,399.4 673.8,397.8 674.4,395.8 675.0,395.0 675.6,393.6 676.2,392.2 676.7,391.1 677.3,389.7 677.9,388.2 678.6,386.7 679.2,385.5 679.9,384.0 680.6,382.8 681.2,381.7 681.9,380.3 682.6,379.1 683.3,377.6 684.0,376.0 684.7,374.9 685.4,373.6 686.1,372.7 687.0,371.0 687.9,369.4 688.8,368.4 689.6,367.4 690.5,365.6 691.5,364.9 692.5,363.2 693.6,362.3 694.7,361.4 695.8,360.9 697.0,360.2 698.3,359.3 699.6,358.2 700.9,357.9 702.2,356.8 703.4,356.1 704.7,355.9 706.1,355.0 707.4,354.4 708.7,353.8 710.1,353.4 711.4,352.5 712.8,352.2 714.3,351.6 715.9,351.3 717.2,350.6 718.6,350.4 720.1,350.0 721.6,349.5 723.1,349.1 724.7,349.2 726.2,348.5 727.8,348.8 729.3,348.0 730.8,347.7 732.3,347.5 733.8,347.8 735.3,347.1 736.8,346.8 738.3,346.5 739.9,346.3 741.4,346.5 742.8,346.3 744.3,346.1 745.8,346.0 747.4,345.3 749.0,345.5 750.5,345.2 752.1,345.4 753.6,345.3 755.2,345.3 756.8,344.5 758.4,344.9 760.0,344.8 761.5,344.6 763.0,343.8 764.4,343.6 765.9,343.3 767.4,343.0 769.0,343.3 770.6,343.0 772.2,342.6 774.0,342.5 775.8,342.1 777.2,341.7 778.6,341.4 780.1,341.2 781.6,341.6 783.2,341.0 784.8,341.0 786.4,340.9 788.0,340.5 789.6,340.5 791.2,340.4 792.8,340.5 794.3,340.1 795.8,339.9 797.3,340.1 798.9,339.6 800.5,339.6 802.0,339.1 803.5,338.4 805.0,338.4 806.5,338.2 808.0,338.1 809.5,337.5 811.0,337.5 812.6,337.0 814.3,336.5 816.1,336.7 817.5,335.9 818.8,336.2 820.1,335.6 821.5,335.3 822.8,335.2 824.2,335.5 825.6,335.4 827.1,334.6 828.5,334.7 830.1,334.5 831.7,334.5 833.4,333.8 835.2,333.7 837.0,333.2 839.0,333.2 841.1,332.3 842.3,332.5 843.6,331.8 844.8,331.4 846.2,331.5 847.5,331.0 848.9,330.4 850.3,330.4 851.8,329.6 853.3,329.7 854.8,329.2 856.3,328.9 857.8,328.4 859.4,327.8 860.9,327.4 862.5,326.9 864.1,326.9 865.7,325.9 867.3,326.0 868.9,325.0 870.5,324.7 872.2,324.4 873.8,324.4 875.4,323.7 876.9,323.3 878.5,323.3 880.1,322.5 881.6,322.3 883.2,322.0 884.7,321.9 886.3,321.6 887.9,321.2 889.5,320.7 891.1,320.4 892.8,320.0 894.5,320.2 896.1,319.8 897.8,319.5 899.5,318.9 901.2,318.8 902.9,318.7 904.6,318.4 906.3,317.8 907.9,317.8 909.6,317.9 911.2,317.2 912.8,316.9 914.4,316.8 916.0,316.9 917.5,316.8 919.0,316.2 920.5,316.0 921.9,316.0 923.3,315.9 924.7,315.9 926.0,315.6 927.2,315.6 928.4,315.5 930.6,316.0 932.6,315.8 934.4,315.5 936.1,316.2 937.7,315.8 939.1,316.2 940.4,316.9 941.7,317.1 943.0,317.4 944.3,317.6 945.6,317.8 946.9,318.5 948.3,318.5 949.8,318.9 951.3,319.4 952.7,319.5 954.2,320.2 955.6,320.9 957.1,321.3 958.6,321.7 960.1,322.3 961.5,322.6 963.0,322.9 964.5,323.7 966.0,324.1 967.5,324.8 969.0,325.3 970.5,325.4 972.0,325.9 973.5,326.3 975.0,326.4 976.6,326.6 978.1,327.2 979.7,327.5 981.2,327.7 982.8,327.9 984.4,328.2 985.9,328.3 987.5,328.5 989.0,328.6 990.5,328.8 992.0,329.3 993.5,329.1 995.0,329.6 996.5,330.2 997.9,330.4 999.2,330.7 1000.4,330.7 1001.7,331.1 1002.9,331.4 1004.1,331.8 1005.4,332.0 1006.8,332.5 1008.3,333.0 1009.9,332.8 1011.7,333.6 1013.6,334.1 1015.8,334.3 1017.0,334.7 1018.2,335.3 1019.5,334.9 1020.8,335.6 1022.2,335.7 1023.6,336.4 1025.1,336.9 1026.6,337.0 1028.1,337.1 1029.7,337.8 1031.3,338.2 1032.9,338.7 1034.5,338.9 1036.2,339.4 1037.8,339.9 1039.5,340.1 1041.2,340.4 1042.9,341.2 1044.6,341.0 1046.3,341.7 1048.0,341.8 1049.6,342.4 1051.3,342.3 1053.0,343.2 1054.6,343.0 1056.2,343.1 1057.8,343.4 1059.4,343.7 1061.0,343.6 1062.5,344.1 1064.1,344.2 1065.6,344.6 1067.2,344.4 1068.8,344.5 1070.3,344.6 1071.9,345.0 1073.4,345.2 1075.0,345.0 1076.6,344.8 1078.1,345.2 1079.7,345.0 1081.2,344.9 1082.8,344.8 1084.4,345.3 1085.9,345.3 1087.5,345.2 1089.1,345.1 1090.6,345.2 1092.2,344.9 1093.7,345.5 1095.3,345.0 1096.9,345.2 1098.4,345.4 1100.0,345.4 1101.5,345.2 1103.1,345.1 1104.7,345.3 1106.3,345.0 1107.9,345.5 1109.5,345.2 1111.1,345.5 1112.7,345.1 1114.4,345.2 1116.0,345.1 1117.7,345.2 1119.3,345.1 1121.0,344.9 1122.6,345.4 1124.2,345.1 1125.9,345.1 1127.5,345.1 1129.1,345.2 1130.7,345.2 1132.3,345.3 1133.8,345.3 1135.4,345.1 1136.9,345.5 1138.4,345.4 1139.8,344.9 1141.3,345.4 1142.7,345.5 1144.1,345.4 1145.4,344.9 1146.7,345.4 1148.7,345.3 1150.6,344.9 1152.5,344.9 1154.3,345.6 1156.0,345.4 1157.7,345.2 1159.4,345.1 1161.0,345.2 1162.6,345.3 1164.1,345.7 1165.6,345.4 1167.1,345.3 1168.5,345.9 1169.9,345.9 1171.2,345.5 1172.5,346.0 1173.8,345.8 1175.0,346.0 1176.9,346.0 1178.5,346.2 1179.7,346.2 1180.7,346.4 1181.7,346.0 1182.8,346.5 1184.1,346.4 1185.7,346.6 1187.8,346.4 1190.4,346.8 1191.5,346.5 1192.6,346.4 1193.9,346.3 1195.1,346.3 1196.5,346.6 1197.9,346.3 1199.3,346.6 1200.8,346.4 1202.3,346.7 1203.9,346.8 1205.5,346.8 1207.1,347.1 1208.8,346.5 1210.4,347.1 1212.1,346.8 1213.8,346.9 1215.6,347.0 1217.3,347.1 1219.0,346.7 1220.7,346.7 1222.4,347.0 1224.1,346.3 1225.8,346.6 1227.5,346.5 1229.2,346.0 1230.8,346.2 1232.4,346.1 1234.0,346.1 1235.5,345.5 1237.1,345.7 1238.6,345.1 1240.2,344.8 1241.8,344.8 1243.4,343.9 1245.0,344.0 1246.6,343.6 1248.3,343.0 1249.9,343.0 1251.5,342.2 1253.2,341.9 1254.8,341.5 1256.4,341.3 1258.0,340.5 1259.6,340.2 1261.1,339.7 1262.7,339.4 1264.2,339.2 1265.7,338.4 1267.2,338.3 1268.6,337.6 1270.0,337.3 1271.4,336.7 1272.7,336.5 1274.0,336.5 1275.3,335.9 1276.5,335.6 1277.6,335.0 1279.7,334.4 1281.6,333.8 1283.3,333.5 1284.9,333.0 1286.3,332.6 1287.7,331.6 1289.0,331.7 1290.2,331.3 1291.4,330.6 1292.6,329.8 1293.8,329.5 1295.0,328.9 1296.3,328.5 1297.6,328.5 1299.0,327.8 1300.5,327.3 1301.9,326.8 1303.3,326.4 1304.8,325.6 1306.2,325.1 1307.7,324.5 1309.2,324.0 1310.6,323.3 1312.1,322.8 1313.6,321.9 1315.1,321.6 1316.6,320.9 1318.1,320.5 1319.6,319.4 1321.2,318.8 1322.6,318.1 1324.0,318.0 1325.5,317.5 1327.0,316.7 1328.5,315.9 1330.1,315.5 1331.6,314.9 1333.2,314.1 1334.7,313.2 1336.2,312.6 1337.7,312.0 1339.2,311.3 1340.6,310.7 1342.1,310.2 1343.4,309.8 1344.7,308.6 1346.0,308.3 1347.6,307.2 1349.2,306.4 1350.8,306.1 1352.4,305.1 1353.9,304.5 1355.3,303.3 1356.7,302.2 1358.1,301.8 1359.3,301.2 1360.4,300.8 1361.4,300.2 1362.3,299.4 1363.0,299.0" fill="none" stroke="#0cbcf0" stroke-width="3.7" stroke-linejoin="round"/><path d="M665.9,411.4 L671.4,421.4 L660.4,421.4Z" fill="#0cbcf0"/><path d="M709.5,347.6 L715.0,357.6 L704.0,357.6Z" fill="#0cbcf0"/><path d="M753.2,339.1 L758.7,349.1 L747.7,349.1Z" fill="#0cbcf0"/><path d="M796.8,333.8 L802.3,343.8 L791.3,343.8Z" fill="#0cbcf0"/><path d="M840.5,326.6 L846.0,336.6 L835.0,336.6Z" fill="#0cbcf0"/><path d="M884.1,315.8 L889.6,325.8 L878.6,325.8Z" fill="#0cbcf0"/><path d="M927.8,309.8 L933.3,319.8 L922.3,319.8Z" fill="#0cbcf0"/><path d="M971.5,319.6 L977.0,329.6 L966.0,329.6Z" fill="#0cbcf0"/><path d="M1015.1,328.2 L1020.6,338.2 L1009.6,338.2Z" fill="#0cbcf0"/><path d="M1058.8,337.7 L1064.2,347.7 L1053.2,347.7Z" fill="#0cbcf0"/><path d="M1102.4,339.2 L1107.9,349.2 L1096.9,349.2Z" fill="#0cbcf0"/><path d="M1146.0,339.2 L1151.5,349.2 L1140.5,349.2Z" fill="#0cbcf0"/><path d="M1189.7,340.5 L1195.2,350.5 L1184.2,350.5Z" fill="#0cbcf0"/><path d="M1233.3,339.8 L1238.8,349.8 L1227.8,349.8Z" fill="#0cbcf0"/><path d="M1277.0,329.2 L1282.5,339.2 L1271.5,339.2Z" fill="#0cbcf0"/><path d="M1320.7,313.2 L1326.2,323.2 L1315.2,323.2Z" fill="#0cbcf0"/><path d="M636.0,479.0 636.3,478.1 636.8,476.7 637.3,476.1 637.9,474.3 638.5,472.8 639.1,471.1 639.8,469.5 640.5,468.5 641.2,466.2 641.8,465.5 642.3,463.3 642.8,462.8 643.3,460.6 643.8,459.0 644.3,458.3 644.9,456.3 645.4,455.4 645.9,453.3 646.5,451.6 647.0,450.9 647.5,449.3 648.1,447.9 648.6,446.3 649.1,444.1 649.6,443.3 650.1,442.0 650.6,440.3 651.1,439.4 651.6,437.2 652.1,436.5 652.6,434.8 653.1,432.6 653.5,431.1 654.0,430.4 654.5,429.2 655.0,426.9 655.4,425.8 655.9,424.8 656.3,422.6 656.8,421.9 657.2,420.0 657.6,418.0 658.0,416.9 658.5,415.7 658.9,414.0 659.3,412.9 659.7,410.8 660.1,410.1 660.6,408.2 661.0,407.2 661.5,405.7 662.0,404.0 662.5,402.5 663.0,401.5 663.5,400.3 664.0,398.7 664.5,397.1 665.0,395.4 665.5,393.7 666.0,393.3 666.5,391.6 667.0,390.4 667.5,388.4 668.0,387.2 668.4,386.2 668.9,384.5 669.4,382.8 669.8,381.0 670.3,379.7 670.7,378.7 671.2,376.8 671.6,375.7 672.1,374.4 672.5,373.4 673.1,371.8 673.6,369.7 674.2,368.0 674.8,367.0 675.3,365.9 675.9,364.8 676.4,363.9 677.0,362.7 677.5,360.5 678.1,360.0 678.7,358.5 679.2,357.2 679.8,355.6 680.4,353.9 681.0,353.2 681.7,351.8 682.4,350.2 683.1,349.1 683.9,347.2 684.7,345.5 685.5,344.6 686.4,343.5 687.2,341.5 688.1,340.8 689.0,339.7 689.8,337.7 690.7,336.8 691.6,335.7 692.5,334.3 693.5,332.9 694.4,331.9 695.3,331.4 696.3,330.4 697.3,329.0 698.4,327.5 699.5,327.3 700.6,326.2 701.7,324.6 702.9,324.0 704.0,323.5 705.1,322.6 706.2,321.3 707.5,320.2 708.7,319.4 709.9,318.1 711.1,317.3 712.3,316.5 713.7,316.3 715.0,315.3 716.3,315.0 717.6,314.3 719.0,313.9 720.5,313.0 721.9,312.4 723.4,312.9 724.7,311.8 726.1,311.1 727.5,311.3 728.9,311.0 730.3,310.0 731.8,310.1 733.2,309.5 734.6,309.4 736.0,308.7 737.3,308.5 738.7,309.5 740.0,309.3 741.4,308.8 742.8,308.8 744.3,308.4 745.8,308.9 747.2,308.4 748.7,309.0 750.3,308.7 751.8,308.7 753.4,308.8 755.0,308.0 756.7,307.7 758.3,307.7 760.0,307.5 761.5,307.3 763.0,307.0 764.5,307.4 766.0,307.5 767.5,306.7 769.1,307.0 770.7,306.7 772.3,305.5 774.0,305.9 775.8,305.5 777.2,305.0 778.7,305.9 780.2,305.0 781.7,305.2 783.3,305.2 784.8,305.5 786.4,305.1 788.0,304.7 789.6,304.7 791.3,304.3 792.9,305.0 794.4,304.9 796.0,303.9 797.5,303.5 799.0,303.5 800.5,303.4 802.0,303.8 803.5,303.5 805.0,303.1 806.5,302.0 808.0,302.5 809.6,302.2 811.1,301.9 812.7,302.0 814.4,300.7 816.1,300.6 817.5,301.1 818.9,301.2 820.2,300.9 821.6,300.4 822.9,300.7 824.3,300.8 825.7,300.0 827.1,300.2 828.6,300.1 830.1,299.9 831.7,300.2 833.4,299.7 835.2,299.6 837.1,299.2 839.0,299.5 841.1,298.5 842.3,299.0 843.6,298.2 845.0,297.7 846.4,298.4 847.8,297.3 849.2,297.8 850.7,297.4 852.2,297.1 853.7,295.9 855.3,295.8 856.9,295.1 858.5,295.6 860.1,295.1 861.7,294.5 863.4,293.9 865.0,293.3 866.7,293.4 868.4,292.7 870.0,292.4 871.7,291.5 873.4,291.2 875.0,290.6 876.7,290.9 878.3,290.4 879.9,289.6 881.5,290.0 883.1,289.1 884.7,288.9 886.3,288.3 887.9,288.1 889.5,288.4 891.1,287.6 892.8,287.0 894.5,287.1 896.1,286.5 897.8,286.9 899.5,285.7 901.2,286.3 902.9,285.0 904.6,285.6 906.3,285.0 907.9,284.2 909.6,284.2 911.2,283.7 912.8,283.4 914.4,283.1 916.0,283.1 917.5,283.5 919.0,283.3 920.5,283.1 921.9,282.0 923.3,282.1 924.7,282.6 926.0,281.6 927.2,282.3 928.4,281.8 930.6,282.5 932.6,281.6 934.4,282.7 936.1,282.5 937.7,282.7 939.1,283.0 940.4,284.4 941.7,284.6 943.0,284.7 944.3,285.5 945.6,286.6 946.9,286.3 948.3,287.2 949.8,287.1 951.3,287.5 952.7,288.5 954.2,288.7 955.6,288.4 957.1,288.6 958.6,288.9 960.1,289.8 961.5,289.9 963.0,290.0 964.5,290.2 966.0,291.0 967.5,291.5 969.0,292.0 970.5,292.1 972.0,292.2 973.4,292.5 974.9,293.7 976.3,293.9 977.7,294.8 979.2,294.6 980.7,296.1 982.1,296.2 983.6,297.4 985.0,298.0 986.5,298.2 987.9,298.3 989.4,299.9 990.8,300.0 992.2,300.9 993.6,300.8 995.0,301.2 996.5,302.4 997.9,302.3 999.2,302.4 1000.4,303.0 1001.7,303.6 1002.9,303.3 1004.1,304.2 1005.4,304.4 1006.8,304.8 1008.3,304.7 1009.9,305.7 1011.7,306.3 1013.6,306.8 1015.8,306.7 1017.0,307.4 1018.2,307.3 1019.5,308.1 1020.8,307.6 1022.2,308.8 1023.6,309.3 1025.1,309.1 1026.6,309.5 1028.1,309.9 1029.7,310.3 1031.3,310.1 1032.9,311.5 1034.5,311.1 1036.2,311.4 1037.8,311.7 1039.5,312.2 1041.2,313.3 1042.9,312.8 1044.6,313.2 1046.3,314.3 1048.0,314.1 1049.6,314.3 1051.3,315.3 1053.0,315.7 1054.6,316.0 1056.2,316.5 1057.8,316.2 1059.4,317.4 1061.0,317.6 1062.5,317.2 1064.1,317.6 1065.6,318.3 1067.2,318.7 1068.8,318.8 1070.3,318.9 1071.9,319.6 1073.4,319.6 1075.0,320.4 1076.6,321.1 1078.1,320.6 1079.7,321.4 1081.2,321.9 1082.8,321.6 1084.4,322.6 1085.9,323.1 1087.5,322.8 1089.1,323.1 1090.6,323.9 1092.2,323.8 1093.7,324.0 1095.3,324.8 1096.9,324.9 1098.4,324.7 1100.0,324.9 1101.5,325.3 1103.1,325.6 1104.7,326.5 1106.3,326.5 1107.9,326.9 1109.5,327.0 1111.1,327.3 1112.7,326.7 1114.4,327.4 1116.0,328.1 1117.7,328.3 1119.3,327.8 1121.0,328.2 1122.6,328.6 1124.2,328.5 1125.9,328.9 1127.5,328.6 1129.1,329.2 1130.7,329.4 1132.3,329.1 1133.8,329.4 1135.4,330.5 1136.9,330.4 1138.4,330.8 1139.8,330.6 1141.3,330.9 1142.7,331.1 1144.1,331.3 1145.4,330.5 1146.7,331.3 1148.7,331.0 1150.6,331.6 1152.5,331.3 1154.3,331.7 1156.0,332.2 1157.7,332.0 1159.4,331.7 1161.0,332.0 1162.6,332.0 1164.1,332.6 1165.6,331.9 1167.1,331.9 1168.5,332.4 1169.9,331.8 1171.2,332.4 1172.5,332.8 1173.8,332.4 1175.0,332.1 1176.9,332.5 1178.5,332.7 1179.7,332.3 1180.7,332.4 1181.7,332.5 1182.8,332.8 1184.1,333.0 1185.7,332.9 1187.8,332.9 1190.4,332.6 1191.5,333.1 1192.6,333.4 1193.9,333.1 1195.1,333.0 1196.5,333.1 1197.9,332.5 1199.3,333.0 1200.8,332.6 1202.3,332.7 1203.9,332.6 1205.5,332.4 1207.1,332.1 1208.8,332.0 1210.4,331.9 1212.1,332.1 1213.8,331.9 1215.6,332.0 1217.3,331.3 1219.0,331.6 1220.7,332.1 1222.4,331.3 1224.1,331.6 1225.8,331.5 1227.5,331.2 1229.2,331.9 1230.8,331.1 1232.4,331.6 1234.0,330.9 1235.6,330.8 1237.1,331.7 1238.7,331.2 1240.2,330.9 1241.8,331.2 1243.3,331.3 1244.9,331.7 1246.5,331.1 1248.0,331.2 1249.6,332.1 1251.1,331.9 1252.7,331.4 1254.2,331.6 1255.8,331.7 1257.4,332.1 1258.9,332.1 1260.5,332.4 1262.0,332.5 1263.6,332.2 1265.1,332.5 1266.7,332.5 1268.3,332.6 1269.8,332.3 1271.4,332.7 1272.9,332.6 1274.5,332.9 1276.0,332.0 1277.6,332.8 1279.2,331.8 1280.7,332.6 1282.3,332.4 1283.8,332.3 1285.4,332.8 1287.0,332.3 1288.5,332.1 1290.1,332.4 1291.7,332.4 1293.2,332.1 1294.8,331.8 1296.4,331.8 1297.9,331.7 1299.5,331.9 1301.1,331.4 1302.6,331.4 1304.2,331.5 1305.8,331.2 1307.3,331.1 1308.9,331.5 1310.4,331.5 1312.0,331.0 1313.5,330.8 1315.1,330.4 1316.6,330.5 1318.1,330.2 1319.7,330.6 1321.2,330.5 1322.8,329.8 1324.5,330.6 1326.2,329.9 1327.9,330.3 1329.6,330.2 1331.4,330.2 1333.2,329.2 1335.0,329.3 1336.8,329.7 1338.6,328.6 1340.4,328.4 1342.2,328.9 1344.0,328.6 1345.7,329.0 1347.4,328.7 1349.0,328.3 1350.7,328.6 1352.2,328.0 1353.7,327.8 1355.2,327.9 1356.6,327.4 1357.9,327.3 1359.1,327.4 1360.2,327.1 1361.2,327.6 1362.2,327.3 1363.0,327.0" fill="none" stroke="#088888" stroke-width="3.7" stroke-linejoin="round"/><path d="M665.9,399.1 L671.4,389.1 L660.4,389.1Z" fill="#088888"/><path d="M709.5,325.0 L715.0,315.0 L704.0,315.0Z" fill="#088888"/><path d="M753.2,314.2 L758.7,304.2 L747.7,304.2Z" fill="#088888"/><path d="M796.8,310.1 L802.3,300.1 L791.3,300.1Z" fill="#088888"/><path d="M840.5,305.0 L846.0,295.0 L835.0,295.0Z" fill="#088888"/><path d="M884.1,295.1 L889.6,285.1 L878.6,285.1Z" fill="#088888"/><path d="M927.8,288.1 L933.3,278.1 L922.3,278.1Z" fill="#088888"/><path d="M971.5,298.4 L977.0,288.4 L966.0,288.4Z" fill="#088888"/><path d="M1015.1,312.7 L1020.6,302.7 L1009.6,302.7Z" fill="#088888"/><path d="M1058.8,322.8 L1064.2,312.8 L1053.2,312.8Z" fill="#088888"/><path d="M1102.4,331.6 L1107.9,321.6 L1096.9,321.6Z" fill="#088888"/><path d="M1146.0,337.0 L1151.5,327.0 L1140.5,327.0Z" fill="#088888"/><path d="M1189.7,339.1 L1195.2,329.1 L1184.2,329.1Z" fill="#088888"/><path d="M1233.3,337.3 L1238.8,327.3 L1227.8,327.3Z" fill="#088888"/><path d="M1277.0,338.4 L1282.5,328.4 L1271.5,328.4Z" fill="#088888"/><path d="M1320.7,336.4 L1326.2,326.4 L1315.2,326.4Z" fill="#088888"/><path d="M636.0,478.0 636.3,477.3 636.7,475.7 637.1,474.9 637.6,473.7 638.2,472.5 638.8,471.0 639.4,469.9 640.0,468.4 640.6,466.2 641.2,464.5 641.8,463.2 642.3,462.4 642.8,460.1 643.3,459.0 643.8,457.9 644.3,455.6 644.9,454.3 645.4,453.8 645.9,452.1 646.5,450.1 647.0,448.0 647.5,447.6 648.1,445.8 648.6,444.4 649.1,443.3 649.6,441.7 650.1,439.6 650.6,437.7 651.1,436.5 651.6,435.3 652.1,433.8 652.6,431.9 653.1,430.4 653.5,429.5 654.0,428.0 654.5,426.2 655.0,425.6 655.4,423.7 655.9,421.3 656.3,420.3 656.8,419.3 657.2,417.1 657.7,416.1 658.1,413.6 658.5,412.5 658.9,411.8 659.4,409.9 659.8,408.5 660.2,406.4 660.6,405.4 661.0,404.1 661.4,402.2 661.9,401.2 662.3,399.7 662.7,398.9 663.1,396.9 663.5,395.3 663.9,393.5 664.3,392.2 664.8,391.7 665.2,389.3 665.6,387.9 666.0,386.5 666.4,385.6 666.8,384.7 667.2,382.9 667.6,381.7 667.9,379.2 668.3,377.7 668.7,377.3 669.1,375.2 669.5,374.3 669.9,372.4 670.4,370.7 670.8,369.5 671.2,367.9 671.7,367.6 672.2,365.7 672.8,363.9 673.3,362.7 673.8,361.2 674.4,359.4 674.9,359.3 675.5,357.5 676.1,356.7 676.6,354.7 677.2,353.6 677.8,351.7 678.4,350.0 679.0,349.8 679.6,348.3 680.2,346.1 680.8,345.6 681.4,344.1 682.0,342.0 682.6,341.1 683.3,340.4 683.9,338.5 684.7,337.7 685.5,335.3 686.3,334.2 687.1,333.4 687.9,331.5 688.7,330.4 689.6,330.0 690.4,328.4 691.3,327.7 692.3,325.8 693.3,324.6 694.3,323.8 695.3,322.6 696.3,322.8 697.4,320.8 698.4,320.2 699.5,318.6 700.6,318.0 701.6,316.6 702.7,315.4 703.8,313.7 704.9,312.6 706.1,312.4 707.3,310.7 708.5,309.6 709.8,308.8 711.1,308.2 712.4,307.5 713.7,306.7 715.1,307.1 716.6,306.2 718.1,305.5 719.7,305.8 721.0,304.6 722.4,304.5 723.9,304.9 725.4,303.6 726.9,303.7 728.4,304.0 730.0,303.6 731.5,302.5 733.1,302.5 734.6,302.8 736.1,302.1 737.5,302.8 738.9,301.6 740.2,302.6 741.6,301.8 743.1,301.4 744.6,301.6 746.2,301.0 748.0,301.7 750.0,301.0 751.3,301.8 752.6,301.2 754.0,300.8 755.5,300.6 757.0,301.0 758.6,300.3 760.2,301.1 761.8,299.9 763.4,300.4 765.1,300.3 766.7,299.8 768.3,300.4 769.9,299.7 771.4,300.0 773.0,299.8 774.4,299.3 775.8,299.3 777.5,298.8 779.2,298.8 780.8,299.7 782.4,298.8 784.0,299.2 785.5,298.3 787.0,298.9 788.5,298.5 790.0,298.6 791.5,298.2 793.0,297.8 794.5,298.0 796.0,297.8 797.5,297.6 799.0,298.3 800.5,297.6 802.0,297.6 803.5,298.2 805.0,297.9 806.5,297.9 808.0,297.8 809.6,296.7 811.1,296.8 812.7,296.3 814.4,297.1 816.1,297.0 817.5,296.5 819.0,296.6 820.5,296.9 822.0,296.9 823.5,296.3 825.1,297.1 826.7,296.4 828.3,296.7 829.9,296.1 831.5,296.0 833.1,297.0 834.7,296.7 836.3,296.6 837.9,295.6 839.5,295.5 841.0,295.5 842.5,295.4 844.1,295.4 845.7,295.3 847.2,294.6 848.8,294.8 850.4,295.0 851.9,294.1 853.5,294.7 855.0,294.1 856.6,294.0 858.1,293.1 859.6,293.1 861.1,293.2 862.5,292.5 863.9,291.7 865.3,292.7 866.9,292.3 868.5,291.4 870.1,290.8 871.6,291.6 873.1,291.0 874.5,290.0 875.9,290.0 877.4,289.6 878.8,290.3 880.2,289.3 881.7,290.0 883.2,289.5 884.7,288.3 886.1,288.9 887.6,288.3 889.0,288.5 890.5,288.4 891.9,287.3 893.4,286.8 894.9,287.7 896.4,286.8 897.9,287.2 899.4,286.6 900.9,286.5 902.4,286.4 903.9,285.9 905.5,285.4 907.0,284.7 908.5,285.4 910.0,284.8 911.5,284.7 913.0,285.0 914.6,283.7 916.1,284.3 917.7,283.1 919.2,283.9 920.8,283.9 922.3,283.1 923.9,283.4 925.4,284.0 926.9,283.6 928.4,283.6 930.0,283.4 931.5,283.4 933.1,284.1 934.6,284.6 936.1,284.8 937.6,285.5 939.1,285.8 940.7,287.1 942.2,287.6 943.7,287.6 945.2,288.2 946.7,289.1 948.3,289.5 949.8,290.6 951.3,290.2 952.7,290.5 954.2,291.7 955.6,291.0 957.1,292.0 958.6,292.0 960.1,293.1 961.5,293.1 963.0,293.7 964.5,293.2 966.0,294.3 967.5,294.6 969.0,294.8 970.5,295.6 972.0,296.1 973.5,295.5 975.0,296.1 976.6,296.7 978.1,296.9 979.7,297.1 981.2,297.9 982.8,298.2 984.4,299.3 985.9,299.4 987.5,299.4 989.0,300.1 990.5,300.8 992.0,301.0 993.5,301.2 995.0,301.4 996.5,301.7 997.9,303.4 999.2,303.4 1000.4,302.8 1001.7,304.0 1002.9,304.7 1004.1,304.4 1005.4,304.1 1006.8,305.0 1008.3,305.2 1009.9,305.2 1011.7,306.1 1013.6,305.8 1015.8,307.5 1017.0,307.3 1018.2,307.6 1019.5,308.2 1020.8,308.1 1022.2,307.8 1023.6,308.1 1025.1,308.2 1026.6,308.3 1028.1,309.7 1029.7,310.1 1031.3,309.6 1032.9,309.7 1034.5,310.7 1036.2,311.3 1037.8,311.7 1039.5,311.0 1041.2,312.1 1042.9,312.5 1044.6,312.7 1046.3,312.4 1048.0,312.5 1049.6,313.7 1051.3,313.3 1053.0,313.7 1054.6,314.2 1056.2,314.3 1057.8,315.2 1059.4,314.6 1061.0,314.6 1062.5,315.6 1064.1,316.0 1065.6,316.6 1067.2,316.7 1068.8,317.2 1070.3,317.6 1071.9,317.2 1073.4,317.5 1075.0,317.3 1076.6,317.8 1078.1,318.5 1079.7,318.0 1081.2,319.2 1082.8,318.7 1084.4,319.4 1085.9,320.4 1087.5,319.4 1089.1,319.6 1090.6,320.4 1092.2,320.3 1093.7,321.3 1095.3,320.5 1096.9,321.9 1098.4,322.2 1100.0,322.3 1101.5,322.0 1103.1,322.0 1104.7,322.7 1106.3,322.7 1107.9,322.8 1109.5,322.8 1111.1,323.2 1112.7,323.6 1114.4,324.0 1116.0,324.3 1117.7,323.4 1119.3,323.8 1121.0,324.1 1122.6,324.4 1124.2,324.3 1125.9,324.2 1127.5,324.2 1129.1,324.7 1130.7,325.0 1132.3,325.8 1133.8,325.9 1135.4,325.9 1136.9,326.2 1138.4,326.3 1139.8,326.0 1141.3,326.4 1142.7,325.4 1144.1,326.4 1145.4,326.4 1146.7,326.1 1148.7,326.7 1150.6,327.4 1152.5,326.9 1154.3,327.3 1156.0,327.0 1157.7,327.3 1159.4,328.2 1161.0,327.2 1162.6,327.5 1164.1,328.4 1165.6,328.2 1167.1,327.8 1168.5,328.8 1169.9,328.5 1171.2,328.9 1172.5,328.8 1173.8,329.0 1175.0,329.2 1176.9,329.1 1178.5,328.8 1179.7,328.9 1180.7,329.9 1181.7,329.4 1182.8,328.8 1184.1,329.9 1185.7,329.1 1187.8,329.0 1190.4,329.7 1191.5,329.4 1192.6,329.8 1193.9,330.0 1195.1,329.7 1196.5,330.2 1197.9,329.7 1199.3,330.4 1200.8,330.6 1202.3,330.0 1203.9,330.6 1205.5,330.3 1207.1,330.9 1208.8,331.6 1210.4,331.3 1212.1,331.7 1213.8,331.9 1215.6,331.1 1217.3,332.5 1219.0,332.3 1220.7,331.5 1222.4,332.7 1224.1,332.2 1225.8,332.0 1227.5,333.3 1229.2,332.8 1230.8,333.3 1232.4,332.5 1234.0,333.5 1235.6,332.6 1237.1,332.9 1238.7,333.2 1240.2,332.8 1241.8,333.8 1243.3,333.3 1244.9,333.6 1246.5,334.2 1248.0,333.9 1249.6,334.7 1251.1,334.4 1252.7,334.9 1254.2,334.5 1255.8,335.1 1257.4,335.2 1258.9,334.3 1260.5,335.2 1262.0,334.7 1263.6,335.4 1265.1,335.4 1266.7,335.6 1268.3,334.8 1269.8,335.2 1271.4,335.8 1272.9,336.2 1274.5,335.9 1276.0,335.1 1277.6,335.9 1279.2,335.3 1280.7,336.0 1282.3,336.5 1283.8,335.6 1285.4,336.8 1287.0,336.5 1288.5,336.0 1290.1,336.0 1291.7,336.4 1293.2,337.0 1294.8,336.7 1296.4,336.1 1297.9,336.0 1299.5,336.2 1301.1,337.3 1302.6,336.5 1304.2,337.0 1305.8,336.7 1307.3,337.4 1308.9,337.0 1310.4,336.7 1312.0,337.8 1313.5,337.4 1315.1,337.7 1316.6,338.0 1318.1,338.3 1319.7,337.0 1321.2,337.6 1322.8,337.4 1324.5,338.0 1326.2,338.6 1327.9,338.7 1329.6,337.7 1331.4,338.0 1333.2,339.1 1335.0,339.0 1336.8,338.7 1338.6,339.0 1340.4,338.7 1342.2,339.8 1344.0,339.3 1345.7,340.1 1347.4,339.9 1349.0,339.3 1350.7,339.8 1352.2,339.7 1353.7,340.8 1355.2,340.5 1356.6,339.8 1357.9,340.1 1359.1,340.5 1360.2,340.7 1361.2,341.0 1362.2,340.8 1363.0,341.0" fill="none" stroke="#10cc10" stroke-width="3.7" stroke-linejoin="round"/><path d="M665.9,381.5 L667.3,385.5 L671.4,385.5 L668.1,388.1 L669.3,392.0 L665.9,389.6 L662.5,392.0 L663.7,388.1 L660.4,385.5 L664.5,385.5Z" fill="#10cc10"/><path d="M709.5,303.8 L710.9,307.7 L715.1,307.8 L711.7,310.3 L713.0,314.3 L709.5,311.9 L706.1,314.3 L707.4,310.3 L704.0,307.8 L708.2,307.7Z" fill="#10cc10"/><path d="M753.2,295.3 L754.6,299.2 L758.7,299.3 L755.4,301.8 L756.6,305.8 L753.2,303.4 L749.8,305.8 L751.0,301.8 L747.7,299.3 L751.8,299.2Z" fill="#10cc10"/><path d="M796.8,292.3 L798.2,296.3 L802.4,296.3 L799.0,298.9 L800.3,302.8 L796.8,300.4 L793.4,302.8 L794.7,298.9 L791.3,296.3 L795.5,296.3Z" fill="#10cc10"/><path d="M840.5,290.2 L841.9,294.2 L846.0,294.2 L842.7,296.7 L843.9,300.7 L840.5,298.3 L837.1,300.7 L838.3,296.7 L835.0,294.2 L839.1,294.2Z" fill="#10cc10"/><path d="M884.1,283.2 L885.5,287.1 L889.7,287.2 L886.3,289.7 L887.6,293.7 L884.1,291.3 L880.7,293.7 L882.0,289.7 L878.6,287.2 L882.8,287.1Z" fill="#10cc10"/><path d="M927.8,277.8 L929.2,281.7 L933.3,281.8 L930.0,284.3 L931.2,288.2 L927.8,285.9 L924.4,288.2 L925.6,284.3 L922.3,281.8 L926.4,281.7Z" fill="#10cc10"/><path d="M971.5,289.7 L972.8,293.6 L977.0,293.7 L973.6,296.2 L974.9,300.2 L971.5,297.8 L968.0,300.2 L969.3,296.2 L965.9,293.7 L970.1,293.6Z" fill="#10cc10"/><path d="M1015.1,300.9 L1016.5,304.9 L1020.6,304.9 L1017.3,307.4 L1018.5,311.4 L1015.1,309.0 L1011.7,311.4 L1012.9,307.4 L1009.6,304.9 L1013.7,304.9Z" fill="#10cc10"/><path d="M1058.8,309.1 L1060.1,313.0 L1064.3,313.1 L1060.9,315.6 L1062.2,319.6 L1058.8,317.2 L1055.3,319.6 L1056.6,315.6 L1053.2,313.1 L1057.4,313.0Z" fill="#10cc10"/><path d="M1102.4,316.4 L1103.8,320.3 L1107.9,320.4 L1104.6,322.9 L1105.8,326.9 L1102.4,324.5 L1099.0,326.9 L1100.2,322.9 L1096.9,320.4 L1101.0,320.3Z" fill="#10cc10"/><path d="M1146.0,320.5 L1147.4,324.5 L1151.6,324.5 L1148.2,327.0 L1149.5,331.0 L1146.0,328.6 L1142.6,331.0 L1143.9,327.0 L1140.5,324.5 L1144.7,324.5Z" fill="#10cc10"/><path d="M1189.7,323.9 L1191.1,327.8 L1195.2,327.9 L1191.9,330.4 L1193.1,334.4 L1189.7,332.0 L1186.3,334.4 L1187.5,330.4 L1184.2,327.9 L1188.3,327.8Z" fill="#10cc10"/><path d="M1233.3,327.2 L1234.7,331.2 L1238.9,331.3 L1235.5,333.8 L1236.8,337.7 L1233.3,335.3 L1229.9,337.7 L1231.2,333.8 L1227.8,331.3 L1232.0,331.2Z" fill="#10cc10"/><path d="M1277.0,330.0 L1278.4,333.9 L1282.5,334.0 L1279.2,336.5 L1280.4,340.5 L1277.0,338.1 L1273.6,340.5 L1274.8,336.5 L1271.5,334.0 L1275.6,333.9Z" fill="#10cc10"/><path d="M1320.7,332.0 L1322.0,335.9 L1326.2,336.0 L1322.8,338.5 L1324.1,342.5 L1320.7,340.1 L1317.2,342.5 L1318.5,338.5 L1315.1,336.0 L1319.3,335.9Z" fill="#10cc10"/><path d="M636.0,742.0 C636.8,742.3 639.1,743.2 640.5,744.0 C641.9,744.8 643.1,745.8 644.5,746.5 C645.9,747.2 647.5,748.6 648.7,748.5 C650.0,748.4 651.0,746.9 652.0,746.0 C653.0,745.1 653.6,744.4 654.6,743.3 C655.6,742.2 656.9,740.9 658.0,739.5 C659.1,738.1 660.1,737.5 661.3,735.0 C662.5,732.5 664.0,727.3 665.1,724.6 C666.2,721.9 667.0,720.7 668.0,719.0 C669.0,717.3 669.8,717.4 671.0,714.2 C672.2,711.0 673.8,704.4 675.3,700.0 C676.8,695.6 678.4,691.7 680.0,688.0 C681.6,684.3 683.2,680.7 684.7,677.7 C686.2,674.7 686.9,671.7 688.7,670.0 C690.5,668.3 693.2,668.5 695.4,667.5 C697.6,666.5 700.0,665.2 702.0,664.0 C704.0,662.8 706.5,663.0 707.5,660.3 C708.5,657.6 707.8,650.4 708.2,648.0 C708.7,645.6 709.2,646.8 710.2,646.2 C711.2,645.6 712.9,644.1 714.2,644.2 C715.5,644.3 716.4,645.4 718.0,647.0 C719.6,648.6 721.3,651.2 723.6,653.6 C725.9,656.0 728.7,658.0 731.6,661.6 C734.5,665.2 737.9,670.8 741.0,675.0 C744.1,679.2 747.5,683.5 750.4,687.1 C753.3,690.7 755.4,693.4 758.5,696.5 C761.6,699.6 766.3,703.2 769.2,705.9 C772.1,708.6 773.0,709.9 775.9,712.6 C778.8,715.3 783.6,719.3 786.7,722.0 C789.8,724.7 791.8,726.5 794.7,728.7 C797.6,730.9 801.1,733.2 804.1,735.0 C807.1,736.8 809.5,737.9 813.0,739.5 C816.5,741.1 819.1,742.8 825.1,744.8 C831.1,746.8 841.5,750.1 849.3,751.5 C857.1,752.9 864.0,753.1 872.1,752.9 C880.2,752.7 889.3,751.3 897.6,750.2 C905.9,749.1 914.0,747.8 921.8,746.2 C929.6,744.6 936.7,742.6 944.6,740.8 C952.5,739.0 957.6,737.7 969.4,735.4 C981.2,733.1 1000.4,729.2 1015.3,727.1 C1030.2,725.0 1044.4,723.6 1058.9,722.6 C1073.4,721.6 1088.0,721.2 1102.5,721.0 C1117.0,720.8 1135.6,721.2 1146.1,721.5 C1156.5,721.8 1154.6,722.0 1165.2,722.8 C1175.8,723.5 1194.8,724.5 1209.7,726.0 C1224.6,727.5 1239.6,729.8 1254.5,731.5 C1269.4,733.2 1281.1,734.0 1299.2,736.0 C1317.3,738.0 1352.4,742.5 1363.0,743.8" fill="none" stroke="#000000" stroke-width="3.7" stroke-linejoin="round" stroke-dasharray="12 10.3"/><path d="M636.0,788.7 636.9,788.7 638.2,788.5 639.6,789.3 641.2,789.2 642.8,789.1 644.2,789.5 645.7,789.8 647.2,788.7 648.7,788.4 650.1,788.5 651.6,787.8 653.2,787.3 654.8,786.9 656.4,786.1 657.8,785.9 659.1,785.8 660.3,787.0 661.2,788.5 662.0,788.9 662.8,789.6 663.3,789.0 663.9,787.9 664.4,786.2 665.0,784.3 665.5,782.7 666.1,781.2 666.6,780.3 667.7,780.8 668.8,782.2 670.0,783.4 671.3,783.9 672.7,784.1 674.0,784.5 675.0,783.7 675.9,782.2 677.0,781.1 678.0,780.1 679.2,779.6 680.4,778.8 681.5,777.9 682.7,777.7 683.8,777.3 685.0,777.4 686.3,776.0 687.6,774.7 688.9,774.4 689.7,775.2 690.4,776.9 691.2,778.4 691.9,779.6 692.7,780.8 693.3,779.9 693.8,778.8 694.3,777.3 694.9,775.4 695.6,773.8 696.4,772.7 697.6,772.2 699.0,771.9 700.5,772.1 702.1,771.8 703.8,772.0 705.2,771.3 706.7,771.7 708.3,771.3 709.9,770.7 711.4,770.7 713.0,770.9 714.3,770.9 715.3,770.0 716.2,769.9 717.5,769.2 719.4,769.4 722.2,768.6 723.3,769.0 724.4,769.5 725.7,769.0 727.1,769.1 728.6,769.0 730.1,769.3 731.7,769.5 733.4,770.1 735.1,769.8 736.8,770.1 738.5,770.1 740.3,770.7 742.0,771.1 743.7,771.1 745.4,770.8 747.1,771.5 748.7,771.8 750.2,771.6 751.7,771.2 753.1,772.0 754.9,772.1 756.6,771.7 758.2,771.5 759.8,771.6 761.4,771.9 762.9,772.2 764.4,771.9 765.9,772.2 767.3,771.5 768.7,771.5 770.2,771.9 771.6,771.8 773.0,771.6 774.5,771.8 775.9,771.6 777.5,771.4 779.0,771.8 780.5,771.5 782.1,772.1 783.6,772.0 785.1,772.2 786.6,772.4 788.1,772.2 789.5,772.5 791.0,772.2 792.4,773.2 793.9,772.9 795.3,773.4 796.7,772.6 798.3,773.1 799.8,773.2 801.3,772.9 802.7,772.6 804.1,772.6 805.6,772.6 807.0,773.1 808.5,772.5 810.0,773.1 811.6,772.8 813.2,772.9 815.0,773.1 816.3,773.1 817.6,773.3 818.8,773.4 820.1,773.3 821.4,773.8 822.7,773.6 824.1,774.1 825.5,774.4 826.9,774.6 828.4,774.3 829.9,774.9 831.5,775.3 833.1,775.0 834.9,775.0 836.7,775.4 838.6,776.0 840.6,775.4 841.9,775.3 843.2,775.9 844.6,776.1 846.0,776.3 847.4,776.0 848.9,776.7 850.4,776.1 851.9,776.6 853.5,776.1 855.1,776.2 856.7,776.4 858.4,776.4 860.0,776.9 861.7,777.0 863.3,776.7 865.0,777.5 866.7,777.1 868.4,776.9 870.1,777.0 871.8,777.6 873.5,777.8 875.2,777.2 876.8,777.1 878.5,777.8 880.1,777.4 881.7,778.1 883.3,777.7 884.9,777.8 886.5,777.6 888.1,778.0 889.7,777.7 891.3,777.5 892.9,778.1 894.5,777.3 896.1,777.9 897.7,777.2 899.3,777.7 900.8,777.5 902.4,777.8 904.0,777.1 905.6,777.5 907.1,777.3 908.7,777.7 910.3,777.6 911.9,777.3 913.4,776.9 915.0,776.8 916.6,776.8 918.2,776.8 919.8,776.6 921.4,776.5 923.0,776.9 924.6,776.7 926.2,776.3 927.8,776.8 929.4,776.1 930.9,776.3 932.5,775.8 934.1,776.3 935.6,776.2 937.2,775.6 938.8,775.9 940.4,775.8 942.0,775.2 943.6,775.1 945.2,775.1 946.7,775.3 948.3,774.5 949.9,774.9 951.5,774.6 953.1,774.4 954.7,774.3 956.3,774.5 957.9,773.7 959.5,774.2 961.1,773.6 962.7,773.9 964.2,773.8 965.8,773.1 967.4,773.6 969.0,773.6 970.5,772.9 972.1,772.6 973.7,772.6 975.2,773.3 976.8,772.3 978.3,773.1 979.9,772.4 981.4,772.8 983.0,772.2 984.5,772.3 986.1,772.7 987.6,772.1 989.1,772.3 990.7,772.8 992.2,772.6 993.7,772.7 995.3,772.8 996.8,771.9 998.4,772.1 999.9,772.6 1001.4,772.4 1003.0,771.8 1004.5,772.2 1006.0,771.9 1007.6,772.0 1009.1,771.7 1010.7,771.6 1012.2,772.4 1013.8,771.7 1015.3,772.1 1016.9,771.4 1018.4,771.6 1020.0,771.2 1021.5,771.4 1023.1,771.1 1024.6,771.5 1026.2,770.9 1027.7,771.4 1029.3,771.1 1030.8,770.6 1032.4,770.7 1034.0,770.8 1035.5,771.1 1037.1,770.4 1038.6,770.2 1040.2,770.8 1041.8,770.6 1043.3,770.3 1044.9,769.8 1046.4,769.5 1048.0,769.5 1049.5,769.2 1051.1,769.0 1052.7,769.2 1054.2,769.0 1055.8,768.9 1057.3,768.6 1058.9,768.1 1060.5,768.5 1062.0,768.2 1063.6,767.9 1065.1,767.7 1066.7,767.5 1068.2,767.5 1069.8,767.2 1071.4,766.8 1072.9,766.2 1074.5,765.9 1076.0,765.7 1077.6,765.9 1079.1,765.0 1080.7,764.7 1082.3,764.4 1083.8,763.9 1085.4,764.4 1086.9,763.2 1088.5,763.4 1090.0,763.4 1091.6,762.5 1093.2,762.5 1094.7,762.0 1096.3,761.5 1097.8,761.2 1099.4,760.8 1100.9,761.2 1102.5,760.9 1104.1,760.7 1105.7,759.6 1107.3,759.9 1108.9,759.3 1110.6,759.3 1112.3,758.9 1114.0,758.4 1115.7,758.7 1117.4,757.5 1119.1,757.9 1120.8,757.7 1122.5,757.1 1124.2,756.9 1125.8,756.9 1127.5,756.0 1129.1,756.0 1130.8,755.8 1132.4,755.2 1133.9,755.3 1135.4,754.7 1136.9,754.5 1138.4,754.4 1139.8,754.2 1141.2,753.6 1142.5,753.6 1143.7,753.3 1145.0,752.8 1146.1,752.9 1148.3,752.1 1150.3,752.3 1152.0,751.5 1153.5,751.4 1154.9,750.9 1156.1,750.5 1157.3,750.0 1158.4,749.6 1159.6,750.0 1160.8,749.4 1162.0,749.0 1163.4,748.7 1165.0,748.6 1166.3,747.8 1167.7,747.4 1169.0,747.7 1170.3,747.0 1171.6,746.9 1172.9,746.7 1174.3,746.5 1175.7,746.1 1177.1,745.0 1178.6,745.0 1180.2,745.0 1181.9,744.6 1183.7,743.6 1185.5,743.3 1187.5,742.9 1189.6,742.3 1190.8,742.3 1192.1,742.5 1193.4,741.9 1194.8,741.6 1196.1,741.0 1197.6,741.0 1199.0,741.2 1200.5,740.6 1202.1,740.1 1203.6,739.8 1205.2,739.8 1206.8,739.4 1208.4,738.6 1210.0,738.7 1211.6,738.1 1213.3,737.9 1214.9,737.3 1216.6,737.1 1218.3,736.8 1219.9,736.5 1221.6,735.8 1223.2,735.7 1224.9,735.7 1226.5,734.9 1228.1,734.7 1229.7,734.9 1231.3,734.2 1232.9,733.9 1234.4,733.6 1236.0,733.8 1237.6,732.8 1239.1,733.0 1240.7,732.9 1242.3,732.1 1243.8,732.0 1245.4,732.0 1246.9,731.6 1248.5,731.1 1250.1,730.5 1251.6,730.6 1253.2,730.2 1254.7,730.2 1256.3,729.6 1257.8,729.4 1259.4,729.3 1260.9,729.2 1262.5,728.5 1264.0,728.3 1265.6,728.2 1267.1,728.2 1268.7,727.3 1270.2,727.7 1271.8,727.2 1273.3,726.7 1274.9,726.7 1276.4,726.1 1278.0,725.6 1279.6,726.0 1281.1,725.4 1282.7,725.3 1284.2,725.0 1285.8,725.1 1287.4,724.7 1289.0,723.9 1290.5,724.1 1292.1,723.8 1293.7,723.5 1295.2,723.7 1296.8,723.0 1298.4,722.9 1299.9,723.0 1301.5,722.4 1303.1,722.2 1304.6,722.0 1306.2,722.0 1307.7,721.7 1309.3,721.5 1310.9,720.9 1312.4,720.4 1313.9,720.7 1315.5,720.3 1317.0,720.3 1318.6,720.0 1320.1,719.1 1321.6,718.9 1323.2,718.5 1324.8,718.9 1326.5,717.9 1328.2,717.5 1330.0,717.8 1331.7,717.3 1333.5,716.4 1335.3,716.6 1337.1,716.2 1338.9,715.7 1340.7,714.9 1342.4,715.1 1344.2,714.4 1345.9,714.2 1347.6,714.2 1349.2,713.7 1350.8,713.4 1352.3,712.4 1353.8,712.2 1355.3,712.0 1356.6,711.3 1357.9,711.9 1359.1,711.0 1360.2,710.7 1361.3,710.5 1362.2,710.3 1363.0,710.3" fill="none" stroke="#050582" stroke-width="3.7" stroke-linejoin="round"/><rect x="661.0" y="777.3" width="9.7" height="9.7" fill="#050582"/><rect x="704.7" y="766.2" width="9.7" height="9.7" fill="#050582"/><rect x="748.3" y="766.9" width="9.7" height="9.7" fill="#050582"/><rect x="792.0" y="768.1" width="9.7" height="9.7" fill="#050582"/><rect x="835.6" y="770.8" width="9.7" height="9.7" fill="#050582"/><rect x="879.3" y="772.8" width="9.7" height="9.7" fill="#050582"/><rect x="922.9" y="771.5" width="9.7" height="9.7" fill="#050582"/><rect x="966.6" y="768.2" width="9.7" height="9.7" fill="#050582"/><rect x="1010.2" y="767.0" width="9.7" height="9.7" fill="#050582"/><rect x="1053.9" y="763.7" width="9.7" height="9.7" fill="#050582"/><rect x="1097.6" y="755.8" width="9.7" height="9.7" fill="#050582"/><rect x="1141.2" y="748.0" width="9.7" height="9.7" fill="#050582"/><rect x="1184.8" y="737.8" width="9.7" height="9.7" fill="#050582"/><rect x="1228.5" y="729.2" width="9.7" height="9.7" fill="#050582"/><rect x="1272.2" y="721.3" width="9.7" height="9.7" fill="#050582"/><rect x="1315.8" y="714.5" width="9.7" height="9.7" fill="#050582"/><path d="M636.0,787.2 636.7,787.0 637.8,786.1 639.0,785.3 640.3,784.3 641.7,783.2 643.0,782.6 644.2,782.3 645.5,781.5 646.7,781.0 647.9,780.0 649.2,779.4 650.4,778.7 651.6,778.3 652.8,777.5 654.1,776.7 655.3,775.9 656.6,775.1 657.8,774.0 659.1,773.3 660.2,771.9 661.3,771.4 662.4,770.1 663.5,768.6 664.6,767.7 665.6,766.7 666.6,765.5 667.6,764.5 668.5,763.2 669.3,762.0 670.1,761.2 670.9,759.6 671.8,758.3 672.4,757.3 673.1,755.8 673.8,754.4 674.5,753.3 675.1,751.5 675.8,750.4 676.5,748.4 677.1,747.3 677.7,746.3 678.5,744.3 679.3,743.3 680.0,741.3 680.7,740.4 681.4,738.9 682.0,738.3 682.9,736.3 683.7,734.8 684.5,733.5 685.2,733.7 685.5,734.4 685.8,735.2 686.1,736.4 686.4,738.4 686.7,739.7 687.0,741.9 687.2,743.2 687.5,744.7 687.7,746.3 688.0,748.6 688.2,750.7 688.4,752.3 688.6,754.4 688.9,755.8 689.1,757.5 689.4,758.2 689.7,758.0 690.0,757.4 690.3,756.9 690.6,754.9 690.9,753.7 691.2,751.3 691.6,749.2 691.9,747.4 692.3,745.3 692.7,743.9 693.0,742.3 693.4,742.1 694.3,741.7 695.2,743.6 696.1,745.3 697.0,747.5 697.9,748.0 698.4,747.0 698.9,745.5 699.4,744.3 699.8,742.7 700.3,740.5 700.7,738.9 701.2,736.9 701.6,735.8 702.1,734.3 702.6,732.5 703.0,731.3 703.5,729.6 704.0,729.1 704.6,728.0 705.7,728.6 707.0,729.5 708.3,730.6 709.5,731.0 710.3,731.2 711.0,731.3 713.0,731.5 714.0,731.2 715.0,731.3 716.2,730.4 717.6,730.4 719.0,730.4 720.5,729.9 722.1,729.6 723.7,729.1 725.4,729.0 727.2,729.1 729.0,729.7 730.3,729.8 731.7,729.6 733.1,730.4 734.6,730.1 736.2,730.9 737.8,731.6 739.4,731.6 741.0,732.5 742.7,732.8 744.3,732.8 745.9,733.5 747.4,734.0 749.0,734.3 750.4,735.0 751.8,734.9 753.1,735.6 754.8,735.5 756.4,735.6 757.8,736.1 759.1,735.8 760.3,736.2 761.6,736.4 762.8,736.3 764.2,736.3 765.7,736.1 767.3,736.6 769.2,736.5 770.5,737.1 771.9,736.9 773.3,737.5 774.9,737.6 776.5,737.9 778.2,738.4 780.0,738.3 781.7,738.6 783.4,739.5 785.2,739.4 786.9,740.0 788.5,740.3 790.1,740.4 791.7,740.4 793.1,740.6 794.4,741.4 795.6,741.1 796.7,741.5 799.2,741.9 800.8,741.8 801.9,742.1 802.8,742.0 803.7,742.3 805.0,742.5 806.2,742.7 807.3,742.8 808.3,743.2 809.5,743.4 811.0,743.7 812.7,744.2 815.0,745.3 816.1,745.3 817.2,745.8 818.3,745.6 819.6,746.5 820.8,746.6 822.1,747.2 823.5,747.4 824.9,747.9 826.4,748.0 827.9,748.7 829.6,748.7 831.2,749.2 833.0,749.5 834.8,750.2 836.6,750.7 838.6,750.9 840.6,751.8 841.8,751.5 843.1,752.1 844.5,752.1 845.9,752.6 847.4,753.0 848.9,753.2 850.5,753.0 852.1,753.5 853.7,754.0 855.4,754.6 857.1,754.2 858.8,754.9 860.5,755.2 862.2,755.6 863.9,755.6 865.6,756.2 867.3,756.2 869.0,756.8 870.6,756.4 872.3,757.3 873.9,757.2 875.4,757.4 876.9,757.5 878.4,757.8 879.8,758.3 881.2,758.5 882.5,758.3 883.7,758.6 884.9,758.6 887.1,759.0 889.1,759.3 890.9,759.6 892.5,760.2 894.0,760.4 895.4,760.3 896.7,760.2 897.9,760.3 899.1,760.5 900.3,760.7 901.6,760.6 902.9,760.5 904.2,760.1 905.7,760.4 907.2,760.5 908.6,760.4 909.9,759.9 911.3,760.3 912.6,760.0 913.9,759.8 915.3,760.2 916.7,759.8 918.2,759.7 919.8,759.0 921.6,759.2 923.5,758.9 925.5,758.4 927.8,757.8 929.0,757.5 930.2,757.2 931.6,756.7 932.9,756.2 934.4,756.0 935.8,755.6 937.4,755.2 938.9,754.3 940.5,754.2 942.2,753.4 943.8,753.2 945.5,752.1 947.2,752.1 948.9,751.4 950.6,750.5 952.3,750.4 954.0,749.4 955.7,748.8 957.4,748.5 959.0,747.8 960.6,747.5 962.2,747.3 963.8,746.7 965.3,746.2 966.8,745.6 968.2,745.4 969.6,745.1 970.9,744.6 972.1,744.5 974.2,743.9 976.2,743.2 978.1,742.5 979.9,742.6 981.7,742.4 983.3,741.7 984.9,741.7 986.4,741.6 987.9,741.4 989.3,740.7 990.7,740.9 992.0,740.4 993.4,740.4 994.7,740.8 996.1,740.5 997.4,740.6 999.1,740.4 1000.5,740.3 1001.8,740.2 1003.0,740.4 1004.1,740.8 1005.2,740.8 1006.4,740.7 1007.7,740.8 1009.2,741.2 1010.9,741.9 1012.9,742.1 1015.3,742.8 1016.4,743.2 1017.5,742.9 1018.7,743.6 1020.0,743.5 1021.3,744.4 1022.6,744.3 1024.0,744.7 1025.5,745.6 1026.9,745.5 1028.4,745.8 1030.0,746.7 1031.5,746.9 1033.1,747.6 1034.7,747.7 1036.3,748.2 1037.9,748.9 1039.6,749.1 1041.2,749.8 1042.9,749.7 1044.5,750.6 1046.2,750.6 1047.8,751.3 1049.4,751.3 1051.1,751.8 1052.7,752.8 1054.3,752.8 1055.8,753.4 1057.4,753.4 1058.9,753.8 1060.5,754.0 1062.0,754.6 1063.6,755.2 1065.1,755.3 1066.7,755.5 1068.2,756.2 1069.8,756.5 1071.4,756.7 1072.9,756.6 1074.5,757.2 1076.0,757.4 1077.6,758.1 1079.1,758.0 1080.7,758.5 1082.3,758.7 1083.8,758.8 1085.4,759.2 1086.9,759.6 1088.5,760.0 1090.0,760.0 1091.6,760.1 1093.2,760.8 1094.7,760.4 1096.3,761.1 1097.8,761.2 1099.4,761.4 1100.9,761.5 1102.5,761.9 1104.1,762.1 1105.7,762.2 1107.3,762.4 1108.9,762.0 1110.6,762.4 1112.3,762.4 1114.0,763.1 1115.7,763.1 1117.4,762.7 1119.1,763.1 1120.8,763.2 1122.5,762.9 1124.2,763.3 1125.8,763.6 1127.5,763.6 1129.1,763.4 1130.8,763.8 1132.4,763.5 1133.9,763.7 1135.4,763.7 1136.9,764.1 1138.4,763.9 1139.8,764.1 1141.2,764.0 1142.5,763.8 1143.7,764.3 1145.0,764.1 1146.1,764.1 1148.5,763.9 1150.6,763.8 1152.4,764.1 1154.0,764.2 1155.4,764.1 1156.7,763.7 1158.0,763.4 1159.2,763.6 1160.5,763.7 1161.8,763.0 1163.3,763.2 1165.0,762.7 1166.3,762.6 1167.7,762.3 1169.0,762.3 1170.3,762.2 1171.6,762.5 1172.9,762.3 1174.3,761.6 1175.7,761.5 1177.1,761.7 1178.6,761.0 1180.2,760.8 1181.9,760.7 1183.7,760.2 1185.5,760.0 1187.5,759.8 1189.6,759.4 1190.8,759.6 1192.1,758.9 1193.4,758.7 1194.8,758.9 1196.1,758.4 1197.6,758.4 1199.0,758.0 1200.5,757.8 1202.1,757.2 1203.6,756.8 1205.2,757.0 1206.8,756.5 1208.4,756.3 1210.0,756.1 1211.6,755.8 1213.3,755.2 1214.9,755.0 1216.6,755.1 1218.3,754.5 1219.9,754.0 1221.6,754.0 1223.2,753.4 1224.9,753.5 1226.5,752.7 1228.1,753.0 1229.7,752.5 1231.3,752.1 1232.9,752.3 1234.4,751.5 1236.0,751.3 1237.6,750.9 1239.1,751.0 1240.7,750.9 1242.3,750.7 1243.8,750.3 1245.4,750.3 1246.9,749.6 1248.5,749.6 1250.1,749.6 1251.6,749.6 1253.2,749.2 1254.7,749.0 1256.3,748.9 1257.8,748.4 1259.4,748.6 1260.9,748.2 1262.5,747.7 1264.0,747.5 1265.6,747.6 1267.1,747.0 1268.7,746.6 1270.2,746.9 1271.8,746.3 1273.3,746.0 1274.9,745.8 1276.4,745.6 1278.0,744.7 1279.5,744.5 1281.1,744.0 1282.6,743.8 1284.2,743.4 1285.8,743.2 1287.4,742.6 1289.0,742.1 1290.6,741.5 1292.2,741.1 1293.9,740.4 1295.5,740.3 1297.1,739.7 1298.7,739.2 1300.3,738.2 1301.9,738.0 1303.5,737.6 1305.1,736.9 1306.6,736.6 1308.1,736.1 1309.6,735.5 1311.1,735.1 1312.5,734.5 1314.0,734.2 1315.3,733.2 1316.7,733.2 1318.0,732.7 1319.2,732.3 1320.4,731.7 1321.6,731.2 1323.7,731.0 1325.7,730.6 1327.6,729.7 1329.3,729.2 1331.0,728.8 1332.5,728.4 1334.0,728.5 1335.4,728.4 1336.7,728.0 1338.0,727.4 1339.2,727.3 1340.4,726.6 1341.6,726.9 1342.8,726.2 1344.0,725.7 1345.9,725.6 1347.7,724.7 1349.4,724.3 1351.0,723.7 1352.5,723.6 1353.8,723.2 1355.1,722.8 1356.3,721.8 1357.4,721.7 1358.8,720.2 1360.1,719.0 1361.0,718.0 1361.8,716.5 1362.5,715.4 1363.0,714.8" fill="none" stroke="#0505f0" stroke-width="3.7" stroke-linejoin="round"/><circle cx="665.9" cy="766.3" r="5.0" fill="#0505f0"/><circle cx="709.5" cy="731.0" r="5.0" fill="#0505f0"/><circle cx="753.2" cy="735.4" r="5.0" fill="#0505f0"/><circle cx="796.8" cy="741.5" r="5.0" fill="#0505f0"/><circle cx="840.5" cy="751.5" r="5.0" fill="#0505f0"/><circle cx="884.1" cy="758.8" r="5.0" fill="#0505f0"/><circle cx="927.8" cy="757.6" r="5.0" fill="#0505f0"/><circle cx="971.5" cy="744.4" r="5.0" fill="#0505f0"/><circle cx="1015.1" cy="742.7" r="5.0" fill="#0505f0"/><circle cx="1058.8" cy="753.9" r="5.0" fill="#0505f0"/><circle cx="1102.4" cy="761.7" r="5.0" fill="#0505f0"/><circle cx="1146.0" cy="764.0" r="5.0" fill="#0505f0"/><circle cx="1189.7" cy="759.5" r="5.0" fill="#0505f0"/><circle cx="1233.3" cy="751.9" r="5.0" fill="#0505f0"/><circle cx="1277.0" cy="745.2" r="5.0" fill="#0505f0"/><circle cx="1320.7" cy="731.8" r="5.0" fill="#0505f0"/><path d="M636.0,784.3 636.6,783.6 637.5,782.4 638.5,781.6 639.6,779.9 640.8,779.0 642.0,777.6 643.2,776.0 644.2,774.3 645.1,773.6 645.9,772.0 646.7,771.1 647.5,769.9 648.3,768.4 649.2,767.6 650.0,766.3 650.8,764.9 651.6,763.3 652.3,762.2 653.0,761.0 653.6,759.5 654.3,758.6 655.0,757.4 655.7,755.8 656.4,754.6 657.1,752.7 657.7,751.7 658.4,749.7 659.1,748.5 659.7,746.9 660.4,745.7 661.0,744.4 661.6,742.9 662.2,741.2 662.9,739.7 663.5,738.0 664.1,736.7 664.7,735.2 665.4,733.7 666.0,732.7 666.6,731.3 667.4,729.8 668.1,728.2 668.9,727.3 669.7,725.6 670.4,724.4 671.2,723.4 671.9,722.3 672.7,721.3 673.3,720.0 674.0,718.9 674.8,717.4 675.5,715.8 676.1,714.3 676.8,712.4 677.4,711.1 678.0,709.6 678.6,709.0 679.2,707.7 680.0,706.2 680.6,704.7 681.3,703.6 682.0,702.3 682.8,701.5 683.7,700.3 684.5,698.7 685.3,697.3 686.2,696.2 687.2,695.0 688.2,694.1 689.2,692.7 690.3,691.1 691.4,689.5 692.4,688.5 693.4,687.4 694.5,686.7 695.6,685.3 696.8,684.5 697.9,683.3 699.0,682.1 700.1,680.9 701.2,680.2 702.1,678.8 703.5,677.6 704.6,676.8 705.7,675.8 706.8,674.8 708.0,674.1 709.5,673.4 710.8,673.6 712.3,673.2 713.8,673.2 715.5,673.1 717.1,672.6 718.8,672.7 720.5,672.4 722.2,672.5 723.6,672.4 725.1,671.7 726.5,671.5 727.9,671.5 729.4,671.6 730.9,671.3 732.4,670.9 734.0,671.3 735.7,671.2 737.1,670.9 738.6,670.5 740.2,670.9 741.8,670.6 743.4,670.1 745.1,670.2 746.7,670.4 748.3,670.5 750.0,670.2 751.6,670.3 753.1,670.1 754.6,670.2 756.0,670.8 757.3,670.7 758.6,670.7 759.9,671.2 761.2,671.2 762.6,671.5 764.0,672.0 765.6,672.4 767.3,672.8 769.2,673.1 770.5,673.2 771.8,673.1 773.3,673.8 774.8,673.6 776.4,674.1 778.0,674.3 779.7,674.8 781.4,675.1 783.1,675.0 784.8,675.6 786.5,675.9 788.2,676.0 789.8,676.0 791.3,676.9 792.8,676.9 794.2,676.8 795.5,677.2 796.7,678.0 798.7,678.0 800.3,678.6 801.5,679.3 802.6,679.7 803.7,680.0 804.8,680.7 806.2,680.8 807.8,681.7 810.0,683.3 811.0,683.7 812.1,683.7 813.2,684.2 814.3,684.9 815.5,686.0 816.7,686.1 818.0,687.0 819.3,687.9 820.6,688.3 822.0,689.2 823.4,689.5 824.8,690.1 826.2,690.8 827.7,692.0 829.3,692.3 830.8,693.7 832.4,694.3 834.0,694.6 835.6,695.8 837.2,696.2 838.9,697.2 840.6,697.6 841.9,698.7 843.2,699.3 844.6,699.9 846.0,699.9 847.4,701.1 848.9,701.6 850.3,702.4 851.9,702.9 853.4,703.6 855.0,704.3 856.6,705.1 858.1,705.3 859.7,706.0 861.3,707.0 862.9,707.5 864.5,708.2 866.1,708.6 867.7,709.8 869.3,709.9 870.9,711.1 872.4,711.7 873.9,712.1 875.4,712.4 876.9,713.3 878.3,713.6 879.7,714.2 881.1,714.5 882.4,715.5 883.7,715.6 884.9,715.9 886.9,716.3 888.8,717.3 890.6,717.8 892.4,718.2 894.1,718.1 895.8,718.6 897.4,718.8 898.9,719.3 900.5,719.1 901.9,719.6 903.4,720.0 904.8,719.9 906.1,719.5 907.4,719.6 908.7,719.7 910.0,720.1 911.2,720.1 912.4,720.0 914.4,720.0 916.2,719.9 917.8,719.9 919.3,719.8 920.7,719.7 922.0,719.2 923.4,718.8 924.7,718.3 926.2,717.6 927.8,716.8 928.9,715.7 930.0,715.5 931.1,714.9 932.2,713.8 933.3,713.3 934.5,712.0 935.6,711.6 936.8,710.3 938.0,709.6 939.2,708.3 940.4,707.3 941.7,706.3 943.1,705.2 944.5,704.0 945.9,703.2 947.0,702.7 948.1,701.7 949.3,701.0 950.6,700.0 951.8,699.1 953.2,698.3 954.5,697.2 955.8,695.8 957.2,694.8 958.6,694.0 960.0,692.7 961.3,691.9 962.7,691.4 964.0,690.5 965.3,689.1 966.5,688.6 967.7,687.7 968.9,687.0 970.0,686.1 971.0,685.2 972.0,684.2 973.8,683.5 975.2,682.2 976.3,681.6 977.3,680.8 978.2,680.3 979.2,680.0 980.2,678.8 981.5,678.3 983.1,677.4 985.0,676.0 986.0,675.7 987.0,674.6 988.0,674.3 989.1,673.3 990.2,672.7 991.3,671.3 992.5,670.5 993.7,669.7 995.0,669.2 996.3,667.7 997.6,666.9 998.9,666.3 1000.3,665.6 1001.7,664.1 1003.1,663.3 1004.5,662.6 1006.0,661.7 1007.5,660.8 1009.0,660.0 1010.6,658.8 1012.1,658.0 1013.7,657.0 1015.3,656.7 1016.6,655.8 1017.9,655.3 1019.3,655.2 1020.6,654.3 1022.0,653.7 1023.5,653.1 1024.9,652.5 1026.4,652.0 1027.8,651.1 1029.4,650.3 1030.9,649.7 1032.4,649.1 1033.9,648.8 1035.5,648.1 1037.1,647.5 1038.6,647.3 1040.2,647.1 1041.8,646.4 1043.3,645.6 1044.9,645.5 1046.5,644.7 1048.1,644.3 1049.7,644.0 1051.2,643.8 1052.8,643.7 1054.3,643.2 1055.9,643.2 1057.4,642.6 1058.9,643.0 1060.5,642.5 1062.0,642.7 1063.6,642.2 1065.1,642.7 1066.7,642.3 1068.2,642.9 1069.8,642.9 1071.4,643.0 1072.9,642.9 1074.5,642.9 1076.0,643.2 1077.6,644.0 1079.1,643.7 1080.7,644.4 1082.3,644.6 1083.8,645.0 1085.4,645.0 1086.9,645.3 1088.5,645.6 1090.0,646.5 1091.6,646.5 1093.2,647.0 1094.7,647.3 1096.3,647.4 1097.8,647.6 1099.4,647.9 1100.9,648.8 1102.5,648.5 1104.1,649.4 1105.7,649.3 1107.3,649.9 1108.9,649.8 1110.6,650.6 1112.3,650.6 1114.0,651.0 1115.7,651.5 1117.4,651.6 1119.1,652.0 1120.8,652.8 1122.5,652.8 1124.2,653.3 1125.8,653.9 1127.5,654.0 1129.1,654.3 1130.8,654.7 1132.4,655.2 1133.9,655.6 1135.4,656.2 1136.9,656.4 1138.4,657.1 1139.8,656.8 1141.2,657.6 1142.5,658.1 1143.7,658.0 1145.0,658.2 1146.1,658.8 1148.3,659.2 1150.3,660.0 1152.0,660.7 1153.5,660.8 1154.9,661.3 1156.1,662.0 1157.3,662.3 1158.4,662.8 1159.6,663.4 1160.8,663.7 1162.0,664.1 1163.4,664.9 1165.0,665.5 1166.3,666.2 1167.5,666.4 1168.7,666.4 1170.0,666.9 1171.2,667.7 1172.4,668.0 1173.7,668.6 1175.0,669.1 1176.4,669.4 1177.7,669.3 1179.2,670.4 1180.7,670.6 1182.3,670.9 1184.0,671.4 1185.7,672.4 1187.6,672.6 1189.6,673.1 1190.8,673.6 1192.0,674.5 1193.3,674.6 1194.6,675.2 1195.9,675.1 1197.3,675.9 1198.7,676.2 1200.1,676.6 1201.6,677.4 1203.1,677.7 1204.6,678.0 1206.1,679.1 1207.7,679.3 1209.2,679.6 1210.8,680.0 1212.4,680.9 1214.0,681.4 1215.6,681.5 1217.2,682.4 1218.8,683.1 1220.4,683.4 1222.0,683.8 1223.6,684.5 1225.2,685.0 1226.8,685.6 1228.3,685.7 1229.9,686.7 1231.4,687.3 1232.9,687.6 1234.4,688.2 1235.9,688.3 1237.4,689.1 1239.0,689.1 1240.5,689.6 1242.0,690.3 1243.5,691.0 1245.0,690.9 1246.5,691.5 1248.0,691.8 1249.5,692.6 1251.0,692.8 1252.5,693.3 1254.0,694.2 1255.5,694.5 1257.0,695.2 1258.5,695.3 1260.0,696.0 1261.5,696.0 1263.0,697.1 1264.5,697.0 1266.0,697.6 1267.5,698.1 1269.0,698.9 1270.5,699.0 1272.0,699.8 1273.5,700.0 1275.0,700.2 1276.5,701.1 1278.0,701.1 1279.5,702.1 1281.1,702.2 1282.6,702.5 1284.2,703.5 1285.8,703.5 1287.4,704.0 1289.0,704.5 1290.6,705.2 1292.2,705.2 1293.9,705.9 1295.5,706.2 1297.1,707.2 1298.7,707.1 1300.3,708.0 1301.9,708.2 1303.5,708.8 1305.1,709.3 1306.6,709.9 1308.1,709.9 1309.6,710.4 1311.1,710.8 1312.5,711.8 1314.0,711.7 1315.3,712.1 1316.7,712.8 1318.0,713.2 1319.2,713.8 1320.4,713.6 1321.6,714.1 1323.7,714.8 1325.7,715.7 1327.5,716.2 1329.2,716.8 1330.8,717.7 1332.2,718.1 1333.7,718.8 1335.0,719.4 1336.3,719.4 1337.6,720.4 1338.8,720.5 1340.1,720.7 1341.3,721.8 1342.6,721.8 1344.0,722.3 1345.6,723.1 1347.3,723.8 1349.0,724.9 1350.7,725.6 1352.4,725.9 1354.1,726.7 1355.7,727.6 1357.2,728.2 1358.7,728.7 1360.0,729.2 1361.2,729.4 1362.2,729.9 1363.0,730.4" fill="none" stroke="#0cbcf0" stroke-width="3.7" stroke-linejoin="round"/><path d="M665.9,726.9 L671.4,736.9 L660.4,736.9Z" fill="#0cbcf0"/><path d="M709.5,667.7 L715.0,677.7 L704.0,677.7Z" fill="#0cbcf0"/><path d="M753.2,664.3 L758.7,674.3 L747.7,674.3Z" fill="#0cbcf0"/><path d="M796.8,671.8 L802.3,681.8 L791.3,681.8Z" fill="#0cbcf0"/><path d="M840.5,691.9 L846.0,701.9 L835.0,701.9Z" fill="#0cbcf0"/><path d="M884.1,709.7 L889.6,719.7 L878.6,719.7Z" fill="#0cbcf0"/><path d="M927.8,710.6 L933.3,720.6 L922.3,720.6Z" fill="#0cbcf0"/><path d="M971.5,678.9 L977.0,688.9 L966.0,688.9Z" fill="#0cbcf0"/><path d="M1015.1,650.7 L1020.6,660.7 L1009.6,660.7Z" fill="#0cbcf0"/><path d="M1058.8,636.7 L1064.2,646.7 L1053.2,646.7Z" fill="#0cbcf0"/><path d="M1102.4,642.8 L1107.9,652.8 L1096.9,652.8Z" fill="#0cbcf0"/><path d="M1146.0,652.8 L1151.5,662.8 L1140.5,662.8Z" fill="#0cbcf0"/><path d="M1189.7,667.4 L1195.2,677.4 L1184.2,677.4Z" fill="#0cbcf0"/><path d="M1233.3,681.6 L1238.8,691.6 L1227.8,691.6Z" fill="#0cbcf0"/><path d="M1277.0,695.0 L1282.5,705.0 L1271.5,705.0Z" fill="#0cbcf0"/><path d="M1320.7,708.0 L1326.2,718.0 L1315.2,718.0Z" fill="#0cbcf0"/><path d="M636.0,785.0 636.7,784.7 637.8,784.0 639.0,783.5 640.3,782.7 641.7,781.8 643.0,779.9 644.2,778.5 645.0,778.5 645.8,777.1 646.6,775.6 647.3,775.0 648.1,773.3 648.9,772.0 649.7,770.7 650.6,769.3 651.6,767.7 652.2,765.9 652.9,765.4 653.6,764.1 654.3,762.6 655.1,761.4 655.8,760.1 656.6,757.8 657.4,756.9 658.1,755.6 658.9,754.1 659.7,752.5 660.5,750.5 661.3,749.9 662.0,748.2 662.8,746.2 663.5,745.1 664.2,744.3 664.9,742.1 665.7,740.9 666.4,740.0 667.1,738.5 667.9,736.4 668.6,735.5 669.3,733.7 670.0,732.6 670.7,731.4 671.4,729.4 672.1,728.2 672.8,727.0 673.4,725.9 674.0,724.5 674.9,722.9 675.9,721.6 676.8,720.2 677.6,718.4 678.5,717.6 679.2,716.8 680.0,715.2 680.7,713.9 681.4,713.2 682.0,711.9 683.0,710.1 683.6,709.3 684.2,707.9 684.9,707.6 686.0,705.6 686.8,704.9 687.6,704.5 688.6,703.1 689.5,702.0 690.6,700.6 691.7,699.3 692.9,698.1 694.1,697.0 695.4,694.9 696.4,694.5 697.4,692.8 698.5,691.6 699.6,691.0 700.7,689.5 701.8,688.6 703.0,687.4 704.2,685.9 705.5,684.5 706.8,683.3 708.1,683.1 709.5,682.6 710.8,681.7 712.2,681.1 713.5,680.8 715.0,680.9 716.4,681.4 717.9,680.6 719.4,680.9 720.9,681.1 722.5,681.6 724.1,682.1 725.7,681.1 727.3,681.3 729.0,682.2 730.4,682.2 731.8,681.3 733.3,681.5 734.7,681.8 736.2,681.6 737.8,681.7 739.3,681.8 740.8,681.6 742.4,681.4 744.0,681.5 745.5,681.7 747.1,681.7 748.6,682.3 750.1,682.5 751.6,682.1 753.1,682.7 754.7,682.7 756.2,682.4 757.8,682.7 759.3,682.5 760.9,683.4 762.4,683.1 763.9,682.7 765.5,682.9 767.0,683.6 768.5,683.5 770.0,684.0 771.5,683.6 773.0,684.4 774.4,684.6 775.9,684.0 777.5,684.7 779.0,684.5 780.5,685.3 782.1,685.7 783.6,685.9 785.1,685.6 786.6,685.7 788.1,686.6 789.5,686.7 791.0,686.5 792.4,686.8 793.9,687.5 795.3,687.2 796.7,687.9 798.3,687.7 799.8,687.9 801.3,688.2 802.7,688.4 804.1,688.7 805.6,688.0 807.0,688.8 808.5,688.4 810.0,688.6 811.6,689.2 813.2,689.4 815.0,689.6 816.3,690.2 817.6,689.6 818.8,690.0 820.1,690.6 821.4,690.5 822.7,690.6 824.1,691.0 825.5,691.9 826.9,692.3 828.4,692.5 829.9,693.2 831.5,693.4 833.1,693.2 834.9,693.6 836.7,694.5 838.6,694.2 840.6,695.3 841.8,695.0 843.1,695.3 844.5,696.1 845.9,696.1 847.4,697.3 848.9,697.6 850.5,697.5 852.1,697.6 853.7,698.0 855.4,698.8 857.1,699.2 858.8,699.5 860.5,700.3 862.2,700.5 863.9,701.2 865.6,700.9 867.3,701.2 869.0,702.0 870.6,702.5 872.3,702.6 873.9,703.5 875.4,703.4 876.9,703.8 878.4,704.4 879.8,705.0 881.2,705.3 882.5,705.2 883.7,705.6 884.9,706.4 887.1,706.9 889.1,707.0 890.9,706.9 892.5,707.7 894.0,708.3 895.4,708.3 896.7,708.3 897.9,709.6 899.1,709.8 900.3,709.1 901.6,709.7 902.9,709.9 904.2,709.7 905.7,709.4 907.1,710.2 908.6,710.1 910.1,709.7 911.6,709.2 913.1,709.4 914.6,708.9 916.2,709.6 917.7,708.4 919.2,708.3 920.7,708.5 922.2,707.4 923.6,707.0 925.0,706.5 926.4,706.1 927.8,705.9 929.1,705.7 930.4,704.3 931.5,703.6 932.7,703.5 933.8,702.3 934.9,701.4 936.0,700.3 937.1,699.5 938.3,699.4 939.4,697.4 940.6,696.6 941.8,696.1 943.1,695.2 944.5,694.1 945.9,692.5 947.0,692.2 948.1,690.9 949.3,689.6 950.6,688.8 951.9,688.1 953.2,687.1 954.5,685.3 955.9,684.3 957.3,684.1 958.6,682.0 960.0,681.7 961.4,680.1 962.7,678.9 964.1,677.9 965.3,677.1 966.6,676.7 967.8,674.8 969.0,674.6 970.1,673.1 971.1,672.1 972.1,672.0 973.7,670.2 975.0,669.0 976.1,668.3 977.0,667.9 977.9,667.2 978.7,666.2 979.6,664.8 980.6,664.8 981.8,663.6 983.2,662.8 985.0,661.5 985.9,660.1 986.9,659.9 987.9,659.1 988.9,657.7 989.9,657.0 991.0,656.2 992.2,655.3 993.3,654.4 994.5,653.2 995.7,652.4 997.0,652.2 998.2,650.7 999.5,650.0 1000.9,649.2 1002.2,648.1 1003.6,646.5 1005.0,646.3 1006.4,645.1 1007.8,644.3 1009.3,643.0 1010.8,642.0 1012.3,641.1 1013.8,639.4 1015.3,638.9 1016.5,637.8 1017.7,637.5 1018.9,636.0 1020.1,635.6 1021.4,634.6 1022.7,634.3 1023.9,633.0 1025.3,632.7 1026.6,631.9 1027.9,631.1 1029.3,629.4 1030.7,629.5 1032.1,628.4 1033.5,627.5 1034.9,626.6 1036.3,625.1 1037.7,625.1 1039.1,623.9 1040.5,623.0 1042.0,622.0 1043.4,621.7 1044.8,620.9 1046.3,620.2 1047.7,618.6 1049.1,618.0 1050.5,617.1 1052.0,616.2 1053.4,615.7 1054.8,614.6 1056.2,614.7 1057.5,613.4 1058.9,612.5 1060.4,611.8 1061.8,611.8 1063.3,610.5 1064.7,610.1 1066.2,609.3 1067.6,609.1 1069.1,608.6 1070.5,607.2 1072.0,606.8 1073.4,606.5 1074.9,605.4 1076.3,605.2 1077.8,604.4 1079.2,603.3 1080.7,603.3 1082.2,602.3 1083.6,601.2 1085.1,601.2 1086.5,600.9 1088.0,600.0 1089.4,599.4 1090.9,598.8 1092.3,598.8 1093.8,598.0 1095.2,597.0 1096.7,596.7 1098.1,596.3 1099.6,596.5 1101.0,595.7 1102.5,594.7 1104.1,595.1 1105.7,593.7 1107.3,594.0 1108.9,593.4 1110.6,593.4 1112.3,592.7 1114.0,592.0 1115.7,592.2 1117.4,592.2 1119.1,591.9 1120.8,591.2 1122.5,590.8 1124.2,591.1 1125.8,591.0 1127.5,590.1 1129.1,590.6 1130.8,590.6 1132.4,589.8 1133.9,589.5 1135.4,589.7 1136.9,589.8 1138.4,588.9 1139.8,588.8 1141.2,588.7 1142.5,589.0 1143.7,588.3 1145.0,588.6 1146.1,588.4 1148.5,588.3 1150.6,587.6 1152.4,588.4 1154.0,588.4 1155.4,588.0 1156.7,588.3 1158.0,587.7 1159.2,588.6 1160.5,588.3 1161.8,588.6 1163.3,588.8 1165.0,588.2 1166.3,588.9 1167.7,588.1 1169.0,587.9 1170.3,588.5 1171.6,588.9 1172.9,588.9 1174.3,589.0 1175.7,588.5 1177.1,589.0 1178.6,588.7 1180.2,588.2 1181.9,588.8 1183.7,589.1 1185.5,588.7 1187.5,589.0 1189.6,588.7 1190.8,588.8 1192.1,589.0 1193.4,589.2 1194.8,589.2 1196.1,588.9 1197.6,588.9 1199.0,589.3 1200.5,589.8 1202.1,589.9 1203.6,589.5 1205.2,589.6 1206.8,590.0 1208.4,589.7 1210.0,590.2 1211.6,590.7 1213.3,590.0 1214.9,590.5 1216.6,590.8 1218.3,590.9 1219.9,591.0 1221.6,591.1 1223.2,590.7 1224.9,591.4 1226.5,591.6 1228.1,590.8 1229.7,591.9 1231.3,591.4 1232.9,591.1 1234.4,591.2 1236.0,592.1 1237.6,592.1 1239.1,591.6 1240.7,592.1 1242.3,592.4 1243.8,592.9 1245.4,592.3 1246.9,592.9 1248.5,592.4 1250.1,592.5 1251.6,592.6 1253.2,593.0 1254.7,593.3 1256.3,593.1 1257.8,593.0 1259.4,593.2 1260.9,593.2 1262.5,593.4 1264.0,593.7 1265.6,594.0 1267.1,593.8 1268.7,594.3 1270.2,594.4 1271.8,595.1 1273.3,594.7 1274.9,595.3 1276.4,594.9 1278.0,594.8 1279.6,595.3 1281.1,595.0 1282.7,595.2 1284.2,595.2 1285.8,596.0 1287.4,596.4 1289.0,596.0 1290.5,596.0 1292.1,596.3 1293.7,596.3 1295.2,596.8 1296.8,596.6 1298.4,596.5 1299.9,597.5 1301.5,597.3 1303.1,596.8 1304.6,597.9 1306.2,597.9 1307.7,597.7 1309.3,598.2 1310.9,598.7 1312.4,598.3 1313.9,598.5 1315.5,598.5 1317.0,599.0 1318.6,599.3 1320.1,599.6 1321.6,600.1 1323.2,599.5 1324.8,600.0 1326.5,600.8 1328.2,601.0 1330.0,601.1 1331.7,601.5 1333.5,601.5 1335.3,602.5 1337.1,602.4 1338.9,602.6 1340.7,602.7 1342.4,603.0 1344.2,604.2 1345.9,604.5 1347.6,604.0 1349.2,604.7 1350.8,605.2 1352.3,605.5 1353.8,605.7 1355.3,606.6 1356.6,606.3 1357.9,606.8 1359.1,607.5 1360.2,607.4 1361.3,607.4 1362.2,607.5 1363.0,607.8" fill="none" stroke="#088888" stroke-width="3.7" stroke-linejoin="round"/><path d="M665.9,746.5 L671.4,736.5 L660.4,736.5Z" fill="#088888"/><path d="M709.5,688.4 L715.0,678.4 L704.0,678.4Z" fill="#088888"/><path d="M753.2,688.4 L758.7,678.4 L747.7,678.4Z" fill="#088888"/><path d="M796.8,693.8 L802.3,683.8 L791.3,683.8Z" fill="#088888"/><path d="M840.5,701.2 L846.0,691.2 L835.0,691.2Z" fill="#088888"/><path d="M884.1,711.7 L889.6,701.7 L878.6,701.7Z" fill="#088888"/><path d="M927.8,711.9 L933.3,701.9 L922.3,701.9Z" fill="#088888"/><path d="M971.5,678.2 L977.0,668.2 L966.0,668.2Z" fill="#088888"/><path d="M1015.1,644.8 L1020.6,634.8 L1009.6,634.8Z" fill="#088888"/><path d="M1058.8,619.1 L1064.2,609.1 L1053.2,609.1Z" fill="#088888"/><path d="M1102.4,601.1 L1107.9,591.1 L1096.9,591.1Z" fill="#088888"/><path d="M1146.0,594.4 L1151.5,584.4 L1140.5,584.4Z" fill="#088888"/><path d="M1189.7,595.0 L1195.2,585.0 L1184.2,585.0Z" fill="#088888"/><path d="M1233.3,597.6 L1238.8,587.6 L1227.8,587.6Z" fill="#088888"/><path d="M1277.0,601.0 L1282.5,591.0 L1271.5,591.0Z" fill="#088888"/><path d="M1320.7,605.5 L1326.2,595.5 L1315.2,595.5Z" fill="#088888"/><path d="M636.0,785.8 636.7,785.2 637.8,784.9 639.0,784.4 640.3,782.9 641.7,782.1 643.0,781.3 644.2,780.3 645.3,780.2 646.4,778.7 647.4,777.4 648.5,776.5 649.5,776.1 650.5,773.9 651.6,773.4 652.4,771.3 653.3,770.3 654.1,768.8 654.9,768.5 655.8,766.2 656.6,764.9 657.4,763.3 658.3,762.2 659.1,761.4 659.8,760.2 660.6,759.2 661.3,758.1 662.1,756.3 662.8,755.6 663.5,753.2 664.3,753.1 665.1,751.1 665.8,749.5 666.6,748.8 667.3,747.7 668.1,745.7 668.8,743.9 669.6,743.6 670.4,742.0 671.1,740.3 671.9,739.4 672.7,736.6 673.4,735.2 674.1,733.9 674.8,732.3 675.5,731.9 676.1,730.3 676.7,728.2 677.3,726.8 677.9,725.4 678.5,724.5 679.1,723.2 679.7,722.3 680.3,720.2 680.9,719.8 681.5,717.9 682.4,716.4 683.3,714.9 684.3,713.7 685.2,713.7 686.2,712.7 687.1,711.3 688.0,709.5 688.9,708.6 690.0,707.2 691.1,706.3 692.1,705.7 693.1,703.6 694.2,703.2 695.4,702.3 696.5,700.4 697.7,699.9 699.0,699.4 700.3,698.1 701.5,697.0 702.7,696.8 703.8,695.6 704.9,694.5 705.6,694.0 706.4,694.3 707.5,693.7 709.5,693.1 710.5,692.2 711.7,691.3 713.0,690.9 714.3,690.8 715.8,690.8 717.3,689.4 718.9,690.0 720.5,689.5 722.2,688.7 723.9,687.6 725.6,688.3 727.3,687.3 729.0,687.3 730.4,686.9 731.8,686.9 733.3,686.2 734.7,686.7 736.2,686.5 737.8,686.3 739.3,685.6 740.8,685.0 742.4,684.9 744.0,684.5 745.5,685.2 747.1,684.9 748.6,684.7 750.1,684.6 751.6,684.7 753.1,684.1 754.7,683.4 756.2,683.8 757.8,683.0 759.3,683.3 760.9,682.5 762.4,683.3 763.9,682.7 765.5,682.2 767.0,683.0 768.5,681.7 770.0,682.8 771.5,682.4 773.0,681.4 774.4,682.2 775.9,681.8 777.5,682.2 779.0,681.6 780.5,681.3 782.1,681.9 783.6,680.6 785.1,681.4 786.6,680.4 788.1,680.5 789.5,680.2 791.0,681.2 792.4,680.5 793.9,680.8 795.3,680.1 796.7,680.7 798.3,680.5 799.8,679.7 801.3,680.2 802.7,680.4 804.1,679.6 805.6,680.2 807.0,679.6 808.5,679.7 810.0,680.5 811.6,680.5 813.2,680.6 815.0,679.9 816.3,680.2 817.6,680.6 818.8,680.6 820.1,680.2 821.4,680.9 822.7,680.3 824.1,681.2 825.5,680.6 826.9,680.2 828.4,681.3 829.9,680.6 831.5,681.5 833.1,680.8 834.9,682.3 836.7,681.9 838.6,682.5 840.6,681.9 841.8,682.8 843.1,682.6 844.5,682.6 845.9,683.6 847.4,682.8 848.9,683.7 850.5,683.4 852.1,684.7 853.7,685.1 855.4,684.1 857.1,685.0 858.8,685.3 860.5,686.0 862.2,686.3 863.9,686.1 865.6,687.2 867.3,686.4 869.0,686.7 870.6,687.9 872.3,687.2 873.9,687.6 875.4,688.3 876.9,688.3 878.4,688.3 879.8,689.6 881.2,689.2 882.5,689.8 883.7,689.3 884.9,690.4 887.1,689.7 889.2,691.0 891.1,690.8 892.9,691.5 894.5,691.4 896.1,691.4 897.5,691.4 898.8,691.9 900.1,691.4 901.3,691.0 902.4,692.2 903.5,692.1 904.6,692.0 905.7,692.1 907.9,691.5 909.6,691.9 910.9,692.4 912.1,692.4 913.5,692.1 915.1,690.6 916.3,691.0 917.6,690.5 918.9,689.9 920.2,689.2 921.6,688.6 923.0,688.5 924.6,687.8 926.1,686.6 927.8,685.6 928.8,685.2 929.7,684.8 930.7,683.8 931.8,682.4 932.8,682.6 933.8,681.0 934.9,680.9 936.0,679.9 937.1,677.8 938.3,677.3 939.5,676.7 940.7,674.8 941.9,673.8 943.2,672.2 944.5,670.4 945.9,669.3 946.8,668.2 947.8,667.4 948.8,666.9 949.8,665.6 950.8,665.0 951.9,663.4 953.0,661.7 954.1,661.3 955.3,659.5 956.4,658.1 957.6,657.2 958.7,655.6 959.9,653.9 961.1,652.9 962.2,651.1 963.3,650.8 964.4,648.5 965.5,648.2 966.6,645.7 967.6,644.5 968.6,644.1 969.5,642.6 970.4,642.0 971.3,640.5 972.1,640.6 973.6,638.7 974.8,637.4 975.9,636.6 976.7,635.7 977.5,634.4 978.3,633.6 979.1,631.9 979.9,631.1 980.9,630.7 982.0,630.4 983.4,628.2 985.0,627.1 985.8,625.5 986.7,625.3 987.6,625.1 988.6,623.8 989.5,623.2 990.5,621.2 991.6,620.5 992.6,619.5 993.7,619.4 994.8,617.4 995.9,617.5 997.1,615.5 998.2,615.3 999.4,613.7 1000.6,612.4 1001.9,612.2 1003.1,610.3 1004.4,609.6 1005.7,607.6 1007.0,607.6 1008.4,606.7 1009.7,604.4 1011.1,604.2 1012.5,602.5 1013.9,601.3 1015.3,600.5 1016.4,600.1 1017.6,599.7 1018.8,598.9 1020.0,598.0 1021.2,596.6 1022.4,595.8 1023.7,594.2 1024.9,594.1 1026.2,593.0 1027.5,591.9 1028.8,591.7 1030.2,589.9 1031.5,588.9 1032.9,588.0 1034.2,587.1 1035.6,586.8 1037.0,586.2 1038.3,584.4 1039.7,584.0 1041.1,583.3 1042.5,582.4 1043.9,581.3 1045.3,580.6 1046.6,579.1 1048.0,578.3 1049.4,578.0 1050.8,576.9 1052.2,576.8 1053.5,575.3 1054.9,575.4 1056.2,573.8 1057.6,572.9 1058.9,572.7 1060.4,571.8 1061.8,570.9 1063.3,570.8 1064.7,569.3 1066.2,569.2 1067.6,568.7 1069.1,567.5 1070.5,566.9 1072.0,566.8 1073.4,565.7 1074.9,564.4 1076.3,563.6 1077.8,563.0 1079.2,562.7 1080.7,561.7 1082.2,561.9 1083.6,561.0 1085.1,560.2 1086.5,559.9 1088.0,559.9 1089.4,558.4 1090.9,557.7 1092.3,557.3 1093.8,556.8 1095.2,557.0 1096.7,556.2 1098.1,555.3 1099.6,554.3 1101.0,553.6 1102.5,553.2 1104.0,553.6 1105.6,552.8 1107.1,551.5 1108.7,551.6 1110.3,550.3 1111.9,550.4 1113.6,549.6 1115.2,548.7 1116.9,549.1 1118.5,548.5 1120.1,547.7 1121.8,546.7 1123.4,546.9 1125.0,546.0 1126.6,545.9 1128.2,544.6 1129.8,545.2 1131.4,543.5 1132.9,543.4 1134.4,543.2 1135.9,542.4 1137.3,541.9 1138.7,542.3 1140.0,542.3 1141.4,541.0 1142.6,540.5 1143.8,540.7 1145.0,539.7 1146.1,539.7 1148.3,539.4 1150.3,538.4 1152.0,537.6 1153.5,537.0 1154.9,537.3 1156.1,537.6 1157.3,537.2 1158.4,535.7 1159.6,536.0 1160.8,535.7 1162.0,535.0 1163.4,535.3 1165.0,534.7 1166.3,534.8 1167.7,533.7 1169.0,534.3 1170.3,533.8 1171.6,533.0 1172.9,532.2 1174.3,532.3 1175.7,531.5 1177.1,531.9 1178.6,531.6 1180.2,531.1 1181.9,531.3 1183.7,529.6 1185.5,530.2 1187.5,529.9 1189.6,528.6 1190.8,528.6 1192.1,528.0 1193.4,528.5 1194.8,528.5 1196.1,527.7 1197.6,528.0 1199.0,527.3 1200.5,527.5 1202.1,526.7 1203.6,527.4 1205.2,526.4 1206.8,525.5 1208.4,525.4 1210.0,526.0 1211.6,526.0 1213.3,525.4 1214.9,524.5 1216.6,525.2 1218.3,524.8 1219.9,523.7 1221.6,523.8 1223.2,524.0 1224.9,522.8 1226.5,522.7 1228.1,522.9 1229.7,523.5 1231.3,523.4 1232.9,522.3 1234.4,523.0 1236.0,522.6 1237.6,522.6 1239.1,522.1 1240.7,522.5 1242.3,521.9 1243.8,522.2 1245.4,521.5 1246.9,520.9 1248.5,521.2 1250.1,521.1 1251.6,520.8 1253.2,520.7 1254.7,520.8 1256.3,520.8 1257.8,520.2 1259.4,520.2 1260.9,520.5 1262.5,520.4 1264.0,520.2 1265.6,520.5 1267.1,519.7 1268.7,520.2 1270.2,519.7 1271.8,520.4 1273.3,520.2 1274.9,520.2 1276.4,519.8 1278.0,519.3 1279.6,520.2 1281.1,519.6 1282.7,519.3 1284.2,519.1 1285.8,519.2 1287.4,519.6 1289.0,519.7 1290.5,519.2 1292.1,519.5 1293.7,518.7 1295.2,519.0 1296.8,518.8 1298.4,518.7 1299.9,518.7 1301.5,519.2 1303.1,519.2 1304.6,518.4 1306.2,518.4 1307.7,519.1 1309.3,518.9 1310.9,518.9 1312.4,518.8 1313.9,518.8 1315.5,518.2 1317.0,517.8 1318.6,518.2 1320.1,517.7 1321.6,518.9 1323.3,518.3 1325.0,518.4 1326.7,518.8 1328.5,518.5 1330.3,517.6 1332.2,517.7 1334.0,517.3 1335.9,518.2 1337.7,518.1 1339.6,517.6 1341.4,517.4 1343.2,517.2 1345.0,517.4 1346.8,517.7 1348.5,517.9 1350.2,517.8 1351.8,517.7 1353.4,517.1 1354.9,517.0 1356.3,516.8 1357.7,517.7 1358.9,516.5 1360.1,516.4 1361.2,516.6 1362.1,517.4 1363.0,516.8" fill="none" stroke="#10cc10" stroke-width="3.7" stroke-linejoin="round"/><path d="M665.9,743.9 L667.3,747.8 L671.4,747.9 L668.1,750.4 L669.3,754.4 L665.9,752.0 L662.5,754.4 L663.7,750.4 L660.4,747.9 L664.5,747.8Z" fill="#10cc10"/><path d="M709.5,686.7 L710.9,690.6 L715.1,690.7 L711.7,693.2 L713.0,697.2 L709.5,694.8 L706.1,697.2 L707.4,693.2 L704.0,690.7 L708.2,690.6Z" fill="#10cc10"/><path d="M753.2,678.0 L754.6,681.9 L758.7,682.0 L755.4,684.5 L756.6,688.5 L753.2,686.1 L749.8,688.5 L751.0,684.5 L747.7,682.0 L751.8,681.9Z" fill="#10cc10"/><path d="M796.8,674.6 L798.2,678.5 L802.4,678.6 L799.0,681.1 L800.3,685.1 L796.8,682.7 L793.4,685.1 L794.7,681.1 L791.3,678.6 L795.5,678.5Z" fill="#10cc10"/><path d="M840.5,676.6 L841.9,680.5 L846.0,680.6 L842.7,683.1 L843.9,687.1 L840.5,684.7 L837.1,687.1 L838.3,683.1 L835.0,680.6 L839.1,680.5Z" fill="#10cc10"/><path d="M884.1,683.9 L885.5,687.8 L889.7,687.9 L886.3,690.4 L887.6,694.4 L884.1,692.0 L880.7,694.4 L882.0,690.4 L878.6,687.9 L882.8,687.8Z" fill="#10cc10"/><path d="M927.8,680.0 L929.2,683.9 L933.3,684.0 L930.0,686.5 L931.2,690.5 L927.8,688.1 L924.4,690.5 L925.6,686.5 L922.3,684.0 L926.4,683.9Z" fill="#10cc10"/><path d="M971.5,635.0 L972.8,639.0 L977.0,639.0 L973.6,641.5 L974.9,645.5 L971.5,643.1 L968.0,645.5 L969.3,641.5 L965.9,639.0 L970.1,639.0Z" fill="#10cc10"/><path d="M1015.1,595.1 L1016.5,599.0 L1020.6,599.1 L1017.3,601.6 L1018.5,605.6 L1015.1,603.2 L1011.7,605.6 L1012.9,601.6 L1009.6,599.1 L1013.7,599.0Z" fill="#10cc10"/><path d="M1058.8,567.0 L1060.1,570.9 L1064.3,571.0 L1060.9,573.5 L1062.2,577.5 L1058.8,575.1 L1055.3,577.5 L1056.6,573.5 L1053.2,571.0 L1057.4,570.9Z" fill="#10cc10"/><path d="M1102.4,547.9 L1103.8,551.9 L1107.9,552.0 L1104.6,554.5 L1105.8,558.4 L1102.4,556.0 L1099.0,558.4 L1100.2,554.5 L1096.9,552.0 L1101.0,551.9Z" fill="#10cc10"/><path d="M1146.0,534.0 L1147.4,538.0 L1151.6,538.0 L1148.2,540.5 L1149.5,544.5 L1146.0,542.1 L1142.6,544.5 L1143.9,540.5 L1140.5,538.0 L1144.7,538.0Z" fill="#10cc10"/><path d="M1189.7,523.3 L1191.1,527.2 L1195.2,527.3 L1191.9,529.8 L1193.1,533.8 L1189.7,531.4 L1186.3,533.8 L1187.5,529.8 L1184.2,527.3 L1188.3,527.2Z" fill="#10cc10"/><path d="M1233.3,516.8 L1234.7,520.7 L1238.9,520.8 L1235.5,523.3 L1236.8,527.2 L1233.3,524.9 L1229.9,527.2 L1231.2,523.3 L1227.8,520.8 L1232.0,520.7Z" fill="#10cc10"/><path d="M1277.0,514.0 L1278.4,517.9 L1282.5,518.0 L1279.2,520.5 L1280.4,524.5 L1277.0,522.1 L1273.6,524.5 L1274.8,520.5 L1271.5,518.0 L1275.6,517.9Z" fill="#10cc10"/><path d="M1320.7,512.5 L1322.0,516.5 L1326.2,516.5 L1322.8,519.0 L1324.1,523.0 L1320.7,520.6 L1317.2,523.0 L1318.5,519.0 L1315.1,516.5 L1319.3,516.5Z" fill="#10cc10"/><path d="M651.0,909.0 C651.6,911.5 653.9,919.6 654.9,924.2 C655.9,928.8 656.6,932.8 657.3,936.7 C658.0,940.6 658.5,944.0 659.1,947.4 C659.7,950.8 660.3,954.2 661.0,957.0 C661.7,959.8 662.5,961.0 663.2,964.0 C664.0,967.0 664.6,971.1 665.5,975.0 C666.4,978.9 667.4,981.3 668.6,987.4 C669.8,993.5 671.3,1003.9 672.6,1011.5 C673.9,1019.1 675.4,1027.4 676.5,1033.0 C677.6,1038.6 678.5,1040.5 679.5,1045.0 C680.5,1049.5 681.5,1055.5 682.5,1060.0 C683.5,1064.5 684.5,1068.4 685.5,1072.0 C686.5,1075.6 687.1,1077.8 688.4,1081.6 C689.7,1085.3 691.6,1089.9 693.5,1094.5 C695.4,1099.1 697.6,1104.0 700.0,1109.4 C702.4,1114.8 704.3,1121.8 707.7,1126.8 C711.1,1131.8 716.1,1136.3 720.6,1139.7 C725.1,1143.1 730.9,1146.2 734.8,1147.4 C738.7,1148.6 740.9,1146.6 743.9,1146.8 C746.9,1147.0 748.2,1147.0 752.9,1148.7 C757.6,1150.4 765.6,1155.2 772.3,1157.1 C779.0,1159.0 786.4,1159.6 792.9,1160.3 C799.4,1161.0 804.3,1160.6 811.0,1161.0 C817.7,1161.4 818.1,1162.2 832.9,1162.9 C847.7,1163.6 876.3,1164.5 900.0,1165.0 C923.7,1165.5 956.0,1166.1 975.0,1166.1 C994.0,1166.1 999.8,1165.5 1013.8,1165.2 C1027.8,1164.9 1044.4,1164.7 1059.3,1164.2 C1074.2,1163.7 1088.4,1162.7 1102.9,1162.2 C1117.4,1161.7 1136.2,1161.5 1146.5,1161.3 C1156.8,1161.1 1153.8,1161.8 1165.0,1161.3 C1176.2,1160.8 1202.1,1159.1 1213.4,1158.4 C1224.7,1157.8 1224.7,1158.1 1232.8,1157.4 C1240.9,1156.8 1250.6,1155.2 1261.9,1154.5 C1273.2,1153.8 1291.0,1154.0 1300.7,1153.5 C1310.4,1153.0 1313.5,1151.8 1320.0,1151.6 C1326.5,1151.4 1332.2,1153.3 1339.4,1152.6 C1346.6,1151.9 1359.1,1148.3 1363.0,1147.5" fill="none" stroke="#000000" stroke-width="3.7" stroke-linejoin="round" stroke-dasharray="12 10.3"/><path d="M656.0,895.0 656.7,895.9 657.8,896.4 658.9,898.0 660.0,899.4 660.6,900.0 661.3,901.0 661.9,902.8 662.5,903.9 663.2,905.0 663.9,907.2 664.5,907.9 665.2,909.1 665.9,910.5 666.7,911.5 667.4,912.6 668.0,914.3 668.6,915.7 669.0,916.7 669.4,918.5 669.8,920.3 670.1,921.4 670.5,923.3 670.8,924.8 671.2,925.9 671.6,927.3 672.1,929.4 672.6,930.8 673.1,932.0 673.6,933.4 674.1,935.5 674.7,937.1 675.2,938.0 675.8,939.8 676.3,941.1 676.8,942.2 677.4,943.4 677.9,945.0 678.4,946.7 679.0,948.0 679.5,949.2 680.1,950.1 680.6,951.3 681.3,952.9 682.0,954.3 682.7,955.6 683.4,957.3 684.1,957.8 684.8,959.8 685.5,960.3 686.4,962.2 687.2,962.9 688.1,964.4 689.0,965.5 690.0,966.4 691.0,968.3 691.9,969.3 692.8,969.7 693.7,971.0 694.7,971.6 695.7,973.1 696.8,973.5 698.1,975.2 698.9,976.1 699.7,977.6 700.6,978.9 701.5,980.3 702.5,981.5 703.5,982.7 704.4,984.5 705.4,985.2 706.5,986.7 707.5,988.3 708.5,989.1 709.5,990.5 710.8,990.7 712.2,991.9 713.6,992.4 715.0,992.8 716.4,993.3 717.9,993.8 719.3,994.4 720.7,994.9 722.2,995.4 723.6,995.7 725.1,996.5 726.5,996.7 727.9,997.5 729.4,997.1 730.9,997.8 732.4,998.1 734.0,998.3 735.7,999.1 737.0,998.8 738.3,999.6 739.6,999.4 741.0,999.6 742.4,1000.0 743.8,1000.2 745.3,1000.2 746.8,1000.2 748.3,1001.2 749.8,1000.9 751.4,1000.9 753.1,1001.6 754.5,1001.7 755.9,1001.8 757.3,1002.0 758.8,1002.7 760.3,1002.4 761.9,1002.7 763.5,1003.4 765.0,1003.1 766.6,1003.4 768.2,1003.4 769.8,1004.1 771.3,1004.3 772.9,1004.3 774.4,1004.5 775.9,1004.6 777.5,1005.3 779.1,1005.2 780.7,1005.7 782.3,1005.5 783.8,1006.0 785.4,1005.6 787.0,1005.9 788.5,1006.8 790.1,1006.7 791.6,1006.9 793.1,1006.9 794.5,1007.1 796.0,1007.0 797.4,1007.2 799.0,1007.8 800.5,1008.1 801.9,1007.9 803.2,1008.4 804.6,1008.2 805.9,1008.8 807.3,1008.6 808.6,1009.1 810.1,1009.2 811.6,1009.6 813.2,1009.5 815.0,1010.2 816.3,1010.5 817.6,1010.4 818.9,1010.8 820.2,1011.4 821.5,1011.5 822.9,1011.9 824.3,1012.3 825.7,1012.4 827.2,1012.4 828.7,1012.9 830.3,1013.6 831.9,1013.7 833.6,1014.3 835.4,1014.3 837.3,1014.8 839.2,1015.7 841.2,1016.0 842.4,1016.1 843.7,1015.9 845.0,1016.6 846.3,1016.4 847.7,1017.5 849.1,1017.9 850.6,1018.0 852.0,1017.9 853.5,1018.7 855.0,1018.5 856.5,1019.4 858.1,1019.5 859.6,1019.4 861.2,1020.5 862.8,1020.5 864.4,1021.2 866.0,1021.4 867.6,1021.6 869.2,1022.3 870.8,1022.1 872.4,1023.1 874.0,1023.0 875.6,1023.1 877.2,1023.7 878.8,1023.9 880.3,1024.3 881.9,1025.1 883.4,1025.1 884.9,1025.5 886.4,1026.0 888.0,1026.4 889.5,1027.4 891.1,1027.9 892.6,1028.3 894.1,1028.9 895.6,1028.9 897.2,1029.7 898.7,1029.7 900.2,1030.8 901.7,1031.2 903.3,1031.6 904.8,1031.7 906.3,1032.0 907.8,1033.3 909.4,1033.4 910.9,1033.9 912.4,1034.6 913.9,1034.4 915.5,1035.4 917.0,1035.6 918.5,1036.2 920.1,1036.3 921.6,1036.4 923.1,1037.5 924.7,1037.2 926.2,1037.9 927.8,1038.2 929.4,1037.9 931.0,1038.5 932.6,1038.4 934.3,1038.4 936.0,1038.5 937.8,1039.3 939.5,1038.9 941.3,1039.1 943.0,1039.2 944.8,1038.8 946.6,1039.5 948.3,1039.5 950.1,1039.6 951.8,1039.2 953.5,1039.1 955.2,1039.2 956.9,1039.5 958.5,1039.4 960.1,1039.2 961.7,1039.3 963.2,1038.9 964.7,1039.6 966.1,1039.2 967.4,1039.2 968.7,1039.4 969.9,1038.9 971.0,1039.4 972.1,1039.1 974.8,1039.5 976.7,1038.8 978.1,1038.9 979.0,1039.2 979.8,1038.9 980.5,1038.8 981.5,1038.9 983.0,1038.6 985.0,1038.9 986.1,1038.6 987.3,1039.4 988.5,1039.0 989.8,1039.6 991.1,1039.4 992.5,1039.5 993.9,1039.7 995.4,1039.3 996.9,1040.0 998.4,1039.7 1000.0,1040.3 1001.6,1040.4 1003.3,1040.5 1005.0,1040.8 1006.7,1040.7 1008.4,1041.1 1010.2,1041.6 1012.0,1041.2 1013.9,1041.4 1015.7,1042.0 1017.0,1042.4 1018.3,1042.3 1019.7,1042.6 1021.1,1043.5 1022.5,1043.3 1023.9,1043.4 1025.3,1043.8 1026.8,1044.5 1028.3,1044.5 1029.8,1045.1 1031.3,1045.5 1032.8,1045.7 1034.4,1046.2 1035.9,1046.8 1037.5,1046.5 1039.0,1047.7 1040.6,1047.5 1042.2,1047.7 1043.8,1048.8 1045.3,1049.0 1046.9,1049.4 1048.5,1049.5 1050.1,1050.5 1051.6,1050.5 1053.2,1051.3 1054.7,1051.3 1056.3,1052.0 1057.8,1052.5 1059.3,1052.7 1060.8,1053.2 1062.3,1053.3 1063.8,1054.3 1065.3,1054.8 1066.8,1054.8 1068.3,1055.7 1069.8,1056.4 1071.3,1056.3 1072.8,1057.5 1074.3,1058.1 1075.8,1057.9 1077.3,1058.6 1078.8,1059.0 1080.3,1059.7 1081.9,1060.1 1083.4,1061.0 1084.9,1061.3 1086.4,1061.9 1087.9,1062.5 1089.4,1063.0 1090.9,1063.9 1092.4,1064.3 1093.9,1064.3 1095.4,1064.8 1096.9,1065.1 1098.4,1065.9 1099.9,1066.1 1101.4,1067.1 1102.9,1067.6 1104.5,1068.2 1106.1,1067.9 1107.7,1068.1 1109.3,1069.1 1111.0,1069.2 1112.7,1070.0 1114.4,1069.9 1116.1,1070.2 1117.8,1070.3 1119.5,1071.5 1121.2,1071.4 1122.9,1071.7 1124.6,1072.0 1126.3,1072.6 1127.9,1073.0 1129.6,1073.0 1131.2,1073.0 1132.8,1073.5 1134.3,1074.2 1135.9,1074.0 1137.4,1074.5 1138.8,1074.7 1140.2,1074.8 1141.6,1075.2 1142.9,1075.1 1144.2,1075.6 1145.4,1076.1 1146.5,1075.6 1148.9,1076.3 1151.0,1077.2 1152.7,1077.6 1154.3,1077.0 1155.6,1077.7 1156.9,1077.9 1158.1,1078.3 1159.3,1078.1 1160.5,1078.0 1161.8,1078.3 1163.3,1078.9 1165.0,1079.1 1166.4,1078.8 1167.7,1079.4 1169.0,1079.6 1170.4,1079.8 1171.8,1079.4 1173.2,1079.9 1174.6,1080.0 1176.0,1080.4 1177.5,1080.4 1179.1,1080.4 1180.7,1081.0 1182.4,1080.9 1184.2,1081.5 1186.1,1081.3 1188.1,1081.7 1190.2,1082.1 1191.5,1081.6 1192.7,1082.2 1194.1,1081.7 1195.5,1082.6 1196.9,1081.9 1198.3,1082.6 1199.8,1082.4 1201.3,1082.3 1202.9,1082.6 1204.4,1082.8 1206.0,1082.8 1207.6,1082.7 1209.2,1083.1 1210.8,1083.0 1212.5,1083.7 1214.1,1083.3 1215.8,1083.4 1217.5,1083.3 1219.1,1084.1 1220.8,1083.6 1222.5,1084.0 1224.1,1084.3 1225.8,1084.0 1227.4,1084.5 1229.0,1084.1 1230.6,1084.1 1232.2,1084.2 1233.8,1084.7 1235.4,1085.2 1236.9,1084.7 1238.5,1085.0 1240.0,1085.5 1241.6,1085.2 1243.1,1085.2 1244.7,1085.7 1246.3,1085.7 1247.8,1086.3 1249.4,1086.5 1250.9,1086.0 1252.5,1086.5 1254.0,1086.5 1255.6,1086.3 1257.2,1086.8 1258.7,1087.4 1260.3,1087.0 1261.8,1087.4 1263.4,1087.6 1264.9,1087.2 1266.5,1088.1 1268.1,1087.5 1269.6,1087.8 1271.2,1088.3 1272.7,1087.8 1274.3,1088.3 1275.8,1088.2 1277.4,1088.6 1279.0,1088.3 1280.5,1088.5 1282.1,1088.6 1283.6,1088.6 1285.2,1088.7 1286.8,1088.9 1288.3,1089.2 1289.9,1089.0 1291.5,1089.6 1293.0,1089.3 1294.6,1089.3 1296.2,1089.3 1297.7,1089.9 1299.3,1089.3 1300.9,1089.9 1302.4,1089.4 1304.0,1090.2 1305.5,1089.8 1307.1,1090.0 1308.7,1090.3 1310.2,1089.7 1311.8,1089.7 1313.3,1090.4 1314.9,1090.3 1316.4,1090.5 1317.9,1090.2 1319.5,1090.4 1321.0,1090.2 1322.6,1090.5 1324.3,1090.5 1326.0,1090.8 1327.7,1090.6 1329.5,1090.7 1331.2,1091.1 1333.0,1090.7 1334.9,1091.4 1336.7,1091.2 1338.5,1091.1 1340.3,1091.1 1342.1,1091.5 1343.9,1091.6 1345.6,1091.9 1347.3,1091.6 1349.0,1091.7 1350.6,1092.3 1352.2,1091.8 1353.7,1092.5 1355.1,1092.5 1356.5,1092.6 1357.8,1092.7 1359.1,1092.1 1360.2,1092.6 1361.2,1092.5 1362.2,1092.2 1363.0,1092.5" fill="none" stroke="#050582" stroke-width="3.7" stroke-linejoin="round"/><rect x="661.0" y="905.8" width="9.7" height="9.7" fill="#050582"/><rect x="704.7" y="985.3" width="9.7" height="9.7" fill="#050582"/><rect x="748.3" y="996.7" width="9.7" height="9.7" fill="#050582"/><rect x="792.0" y="1002.6" width="9.7" height="9.7" fill="#050582"/><rect x="835.6" y="1010.7" width="9.7" height="9.7" fill="#050582"/><rect x="879.3" y="1020.8" width="9.7" height="9.7" fill="#050582"/><rect x="922.9" y="1033.1" width="9.7" height="9.7" fill="#050582"/><rect x="966.6" y="1034.3" width="9.7" height="9.7" fill="#050582"/><rect x="1010.2" y="1037.2" width="9.7" height="9.7" fill="#050582"/><rect x="1053.9" y="1047.8" width="9.7" height="9.7" fill="#050582"/><rect x="1097.6" y="1062.3" width="9.7" height="9.7" fill="#050582"/><rect x="1141.2" y="1071.1" width="9.7" height="9.7" fill="#050582"/><rect x="1184.8" y="1076.9" width="9.7" height="9.7" fill="#050582"/><rect x="1228.5" y="1079.8" width="9.7" height="9.7" fill="#050582"/><rect x="1272.2" y="1083.7" width="9.7" height="9.7" fill="#050582"/><rect x="1315.8" y="1085.6" width="9.7" height="9.7" fill="#050582"/><path d="M655.0,894.5 655.7,895.6 656.8,896.3 657.9,897.7 659.0,899.0 659.5,899.7 660.1,901.4 660.6,902.1 661.1,903.4 661.6,905.0 662.2,906.2 662.7,908.0 663.1,909.4 663.5,910.2 663.9,912.0 664.3,913.1 664.7,914.8 665.1,916.4 665.6,917.9 666.0,918.9 666.4,920.4 666.8,922.3 667.3,923.5 667.8,925.1 668.3,926.5 668.9,928.2 669.4,929.7 669.9,931.1 670.4,932.4 671.0,934.0 671.5,935.4 672.0,936.6 672.6,938.6 673.1,940.0 673.6,941.3 674.2,942.9 674.7,944.0 675.3,945.8 675.8,946.8 676.3,948.6 676.8,949.9 677.2,951.4 677.6,952.6 678.1,954.0 678.6,955.0 679.1,957.0 679.8,958.5 680.6,960.4 681.1,961.6 681.6,963.1 682.2,964.5 682.8,965.9 683.4,967.2 684.0,968.3 684.7,969.9 685.4,971.7 686.1,973.0 686.8,974.7 687.4,976.0 688.1,977.6 688.8,979.5 689.5,980.6 690.2,982.4 690.8,983.4 691.4,984.9 692.2,986.2 693.1,987.8 693.9,989.3 694.7,990.5 695.5,992.2 696.2,993.5 697.0,994.5 697.8,996.4 698.5,997.3 699.3,998.2 700.0,1000.0 700.8,1000.6 701.8,1002.1 702.7,1003.3 703.6,1004.6 704.5,1006.3 705.4,1007.4 706.3,1008.4 707.3,1009.3 708.4,1010.4 709.5,1011.8 710.6,1012.3 711.8,1013.5 712.9,1014.2 714.2,1014.4 715.5,1015.6 716.8,1015.6 718.1,1016.7 719.5,1017.4 720.8,1017.9 722.2,1018.3 723.6,1019.1 725.0,1019.1 726.4,1019.9 727.9,1020.2 729.4,1020.7 730.9,1021.0 732.4,1021.7 733.9,1021.9 735.5,1022.3 737.0,1022.4 738.4,1022.5 739.8,1022.7 741.1,1022.6 742.5,1022.3 743.9,1022.0 745.3,1022.3 746.7,1021.8 748.2,1021.4 749.7,1021.5 751.4,1021.7 753.1,1021.9 754.4,1021.8 755.8,1021.8 757.3,1022.1 758.7,1022.1 760.3,1022.1 761.8,1022.2 763.4,1022.6 765.0,1022.4 766.6,1022.4 768.1,1023.0 769.7,1023.3 771.3,1023.0 772.9,1023.5 774.4,1023.8 775.9,1023.3 777.5,1023.5 779.1,1023.8 780.7,1023.8 782.3,1024.4 783.8,1024.5 785.4,1024.2 787.0,1024.5 788.5,1024.5 790.1,1024.3 791.6,1025.0 793.1,1024.5 794.5,1024.5 796.0,1024.9 797.4,1024.7 799.0,1025.1 800.5,1025.2 801.9,1025.7 803.2,1025.4 804.6,1025.8 805.9,1025.9 807.3,1025.9 808.6,1025.7 810.1,1025.9 811.6,1026.1 813.2,1026.1 815.0,1026.4 816.3,1026.4 817.6,1026.3 818.9,1026.5 820.2,1026.8 821.5,1026.3 822.9,1026.4 824.3,1026.2 825.7,1026.2 827.2,1026.2 828.7,1026.5 830.3,1026.8 831.9,1026.8 833.6,1027.0 835.4,1027.0 837.3,1026.9 839.2,1027.0 841.2,1026.8 842.5,1027.1 843.8,1027.1 845.1,1027.5 846.5,1027.2 848.0,1027.6 849.4,1027.6 850.9,1027.8 852.4,1027.8 854.0,1027.7 855.5,1028.3 857.1,1028.4 858.7,1028.4 860.4,1028.2 862.0,1028.7 863.7,1029.0 865.3,1029.3 867.0,1029.2 868.6,1028.9 870.3,1029.6 872.0,1029.7 873.6,1029.6 875.3,1030.2 876.9,1030.3 878.5,1030.5 880.2,1030.3 881.8,1030.7 883.3,1030.8 884.9,1031.0 886.5,1031.5 888.0,1031.7 889.6,1031.7 891.3,1032.2 892.9,1032.7 894.5,1032.8 896.2,1033.3 897.8,1033.4 899.5,1034.1 901.1,1033.7 902.8,1034.4 904.4,1034.8 906.1,1035.3 907.7,1035.8 909.3,1035.9 910.9,1036.1 912.5,1036.6 914.0,1036.9 915.6,1037.3 917.1,1037.8 918.5,1037.4 920.0,1038.0 921.4,1038.6 922.8,1038.3 924.1,1039.1 925.4,1038.8 926.6,1039.4 927.8,1039.7 930.0,1039.6 932.1,1040.0 933.9,1040.1 935.7,1040.7 937.3,1040.7 938.8,1040.9 940.2,1040.8 941.6,1041.0 942.9,1041.3 944.3,1041.2 945.6,1041.3 947.0,1040.8 948.5,1041.0 950.0,1040.9 951.6,1040.9 953.2,1041.2 954.9,1040.7 956.6,1040.9 958.3,1041.0 960.0,1041.0 961.6,1040.2 963.3,1040.3 964.9,1040.3 966.5,1040.4 968.0,1039.7 969.4,1039.9 970.8,1039.4 972.1,1039.2 973.8,1039.1 975.2,1038.0 976.4,1037.8 977.5,1037.1 978.6,1036.5 979.7,1036.0 981.1,1035.5 982.8,1034.6 985.0,1033.2 986.0,1033.2 987.2,1032.5 988.3,1031.7 989.6,1031.6 990.9,1031.0 992.3,1030.0 993.7,1029.8 995.2,1029.1 996.7,1028.0 998.2,1027.1 999.7,1027.0 1001.2,1026.3 1002.8,1025.1 1004.3,1024.9 1005.9,1024.2 1007.4,1023.4 1008.9,1022.9 1010.3,1022.4 1011.7,1021.3 1013.1,1021.1 1014.4,1020.6 1015.7,1019.7 1017.4,1019.3 1019.0,1018.6 1020.6,1018.1 1022.1,1017.3 1023.6,1016.6 1025.1,1016.0 1026.6,1015.7 1028.0,1014.9 1029.4,1014.9 1030.8,1014.5 1032.2,1013.6 1033.6,1013.6 1034.9,1013.2 1036.3,1012.4 1037.6,1012.6 1039.0,1012.3 1040.7,1011.6 1042.3,1011.2 1043.8,1011.1 1045.4,1011.3 1046.9,1010.9 1048.5,1011.0 1050.0,1010.5 1051.5,1010.4 1053.0,1010.6 1054.5,1011.0 1056.1,1010.6 1057.7,1010.6 1059.3,1011.3 1060.7,1011.0 1062.2,1011.6 1063.6,1011.5 1065.1,1011.9 1066.6,1012.5 1068.1,1013.1 1069.6,1013.1 1071.1,1013.6 1072.7,1013.7 1074.2,1014.4 1075.7,1014.8 1077.2,1015.6 1078.7,1016.1 1080.1,1016.6 1081.6,1016.9 1083.0,1017.5 1084.3,1017.5 1085.6,1018.1 1086.8,1018.5 1087.9,1018.9 1089.1,1019.6 1090.3,1019.7 1091.5,1020.3 1092.8,1020.8 1094.2,1021.8 1095.6,1022.3 1097.2,1022.9 1099.0,1023.6 1100.8,1024.9 1102.9,1025.9 1104.0,1026.1 1105.1,1026.8 1106.3,1027.6 1107.6,1027.8 1108.9,1028.5 1110.2,1029.1 1111.6,1030.1 1113.1,1031.1 1114.5,1031.5 1116.0,1032.5 1117.5,1033.7 1119.1,1034.2 1120.6,1035.0 1122.2,1036.1 1123.8,1037.0 1125.4,1037.5 1126.9,1038.2 1128.5,1039.4 1130.1,1040.4 1131.6,1041.3 1133.1,1042.0 1134.6,1042.6 1136.1,1043.5 1137.6,1044.1 1139.0,1045.0 1140.4,1045.7 1141.7,1046.7 1143.0,1047.4 1144.2,1048.1 1145.4,1048.3 1146.5,1049.2 1148.5,1049.6 1150.4,1051.1 1152.2,1051.7 1153.9,1052.6 1155.4,1052.9 1156.9,1053.9 1158.4,1053.8 1159.7,1054.9 1161.0,1055.4 1162.3,1055.5 1163.6,1056.3 1164.8,1056.3 1166.1,1057.2 1167.4,1057.5 1168.7,1057.9 1170.0,1058.3 1171.5,1059.3 1172.9,1059.8 1174.1,1060.0 1175.3,1061.1 1176.5,1061.1 1177.7,1061.7 1178.8,1062.3 1180.1,1062.9 1181.4,1063.6 1182.8,1064.2 1184.4,1064.6 1186.1,1065.0 1188.0,1065.4 1190.2,1066.0 1191.3,1066.6 1192.5,1067.0 1193.7,1067.3 1195.0,1068.0 1196.3,1067.9 1197.7,1068.3 1199.1,1068.7 1200.5,1068.9 1202.0,1069.8 1203.5,1069.9 1205.0,1070.3 1206.6,1070.6 1208.1,1070.8 1209.7,1071.3 1211.3,1071.8 1213.0,1072.1 1214.6,1072.9 1216.2,1073.0 1217.9,1073.1 1219.5,1073.4 1221.1,1073.9 1222.8,1074.4 1224.4,1075.1 1226.0,1075.5 1227.6,1075.4 1229.2,1076.2 1230.7,1076.3 1232.3,1076.7 1233.8,1077.0 1235.4,1077.0 1236.9,1077.4 1238.5,1078.1 1240.0,1078.5 1241.6,1078.6 1243.1,1079.3 1244.7,1079.5 1246.3,1079.5 1247.8,1079.6 1249.4,1080.3 1250.9,1080.6 1252.5,1080.6 1254.0,1080.8 1255.6,1081.4 1257.2,1081.4 1258.7,1082.2 1260.3,1082.4 1261.8,1082.4 1263.4,1082.9 1264.9,1083.0 1266.5,1083.3 1268.1,1083.6 1269.6,1084.3 1271.2,1084.4 1272.7,1084.9 1274.3,1084.9 1275.8,1085.6 1277.4,1085.8 1279.0,1086.1 1280.5,1086.3 1282.1,1086.8 1283.6,1086.9 1285.2,1087.8 1286.8,1087.9 1288.3,1088.2 1289.9,1088.6 1291.5,1088.6 1293.0,1089.1 1294.6,1089.4 1296.2,1090.2 1297.7,1090.0 1299.3,1090.7 1300.9,1091.4 1302.4,1091.7 1304.0,1092.0 1305.5,1092.0 1307.1,1092.3 1308.7,1093.0 1310.2,1093.1 1311.8,1093.7 1313.3,1093.8 1314.9,1094.4 1316.4,1094.6 1317.9,1095.0 1319.5,1095.5 1321.0,1095.3 1322.6,1096.0 1324.3,1095.6 1326.0,1096.5 1327.7,1096.2 1329.5,1096.8 1331.2,1097.0 1333.0,1097.5 1334.9,1097.5 1336.7,1097.6 1338.5,1098.3 1340.3,1098.4 1342.1,1098.7 1343.9,1098.8 1345.6,1098.7 1347.3,1099.4 1349.0,1099.2 1350.6,1099.6 1352.2,1099.5 1353.7,1099.9 1355.1,1100.3 1356.5,1100.6 1357.8,1100.6 1359.1,1100.6 1360.2,1101.0 1361.2,1101.1 1362.2,1100.9 1363.0,1101.2" fill="none" stroke="#0505f0" stroke-width="3.7" stroke-linejoin="round"/><circle cx="665.9" cy="918.9" r="5.0" fill="#0505f0"/><circle cx="709.5" cy="1011.5" r="5.0" fill="#0505f0"/><circle cx="753.2" cy="1021.6" r="5.0" fill="#0505f0"/><circle cx="796.8" cy="1025.0" r="5.0" fill="#0505f0"/><circle cx="840.5" cy="1027.1" r="5.0" fill="#0505f0"/><circle cx="884.1" cy="1031.0" r="5.0" fill="#0505f0"/><circle cx="927.8" cy="1039.5" r="5.0" fill="#0505f0"/><circle cx="971.5" cy="1039.3" r="5.0" fill="#0505f0"/><circle cx="1015.1" cy="1020.1" r="5.0" fill="#0505f0"/><circle cx="1058.8" cy="1011.1" r="5.0" fill="#0505f0"/><circle cx="1102.4" cy="1025.4" r="5.0" fill="#0505f0"/><circle cx="1146.0" cy="1048.7" r="5.0" fill="#0505f0"/><circle cx="1189.7" cy="1066.1" r="5.0" fill="#0505f0"/><circle cx="1233.3" cy="1076.9" r="5.0" fill="#0505f0"/><circle cx="1277.0" cy="1085.6" r="5.0" fill="#0505f0"/><circle cx="1320.7" cy="1095.3" r="5.0" fill="#0505f0"/><path d="M652.5,894.0 652.9,894.8 653.4,896.0 654.0,897.3 654.6,898.4 655.3,900.0 655.9,901.5 656.5,902.7 657.0,904.2 657.4,905.7 657.8,906.8 658.2,907.8 658.6,909.5 659.1,910.7 659.7,913.0 660.1,913.8 660.5,915.1 660.9,916.7 661.4,918.4 661.8,919.8 662.3,921.9 662.8,923.6 663.3,924.7 663.7,926.6 664.2,928.1 664.7,929.4 665.1,930.5 665.7,932.8 666.3,934.3 666.9,935.0 667.4,936.6 668.0,937.9 668.5,939.2 669.2,940.8 669.8,942.9 670.3,943.5 670.8,945.5 671.3,946.5 671.8,947.8 672.3,949.9 672.9,951.0 673.4,952.5 673.9,954.0 674.4,955.7 674.9,957.0 675.4,958.4 675.8,959.8 676.2,961.6 676.6,962.8 676.8,964.0 677.1,965.4 677.3,966.9 677.6,968.1 677.9,969.2 678.3,971.0 678.7,972.5 679.3,974.0 679.7,975.2 680.2,976.4 680.7,977.6 681.2,979.5 681.8,980.8 682.4,981.9 683.0,984.0 683.6,985.5 684.3,986.5 684.9,988.5 685.6,989.7 686.2,991.4 686.9,993.0 687.5,994.1 688.1,995.5 688.7,996.9 689.5,998.2 690.3,1000.0 691.1,1001.3 691.8,1003.1 692.6,1003.9 693.4,1005.6 694.2,1006.4 695.0,1007.8 695.8,1009.0 696.5,1010.2 697.3,1011.7 698.1,1012.7 698.9,1014.4 699.7,1015.3 700.5,1017.0 701.3,1018.4 702.1,1019.2 702.9,1020.5 703.7,1022.1 704.6,1023.1 705.5,1024.5 706.4,1025.2 707.5,1026.2 708.6,1027.6 709.9,1028.1 711.2,1029.3 712.5,1030.1 713.9,1030.4 715.3,1031.4 716.7,1032.3 718.1,1032.4 719.5,1033.5 720.9,1034.1 722.2,1034.6 723.7,1035.1 725.2,1035.2 726.6,1036.2 728.1,1036.0 729.5,1036.8 731.0,1037.1 732.5,1037.1 734.0,1037.6 735.7,1037.6 737.1,1038.1 738.6,1037.8 740.0,1038.5 741.5,1038.3 743.0,1038.7 744.6,1038.6 746.2,1038.9 747.9,1038.6 749.6,1038.9 751.3,1038.7 753.1,1039.1 754.5,1038.9 755.9,1039.5 757.3,1039.5 758.8,1039.5 760.3,1039.9 761.9,1040.0 763.5,1040.1 765.0,1039.6 766.6,1040.2 768.2,1040.3 769.8,1040.3 771.3,1039.9 772.9,1040.6 774.4,1040.3 775.9,1040.5 777.5,1040.6 779.1,1040.2 780.7,1040.1 782.3,1040.6 783.8,1040.1 785.4,1039.9 787.0,1039.9 788.5,1040.4 790.1,1040.2 791.6,1039.7 793.1,1039.6 794.5,1040.1 796.0,1039.9 797.4,1039.8 799.0,1039.4 800.5,1039.5 801.9,1039.9 803.2,1039.2 804.6,1039.4 805.9,1039.1 807.3,1039.7 808.6,1039.1 810.1,1039.6 811.6,1039.5 813.2,1039.3 815.0,1038.8 816.3,1039.2 817.6,1039.0 818.9,1038.9 820.2,1038.5 821.5,1038.7 822.9,1038.8 824.3,1038.2 825.7,1038.6 827.2,1038.2 828.7,1038.0 830.3,1037.9 831.9,1038.0 833.6,1038.0 835.4,1037.9 837.3,1038.1 839.2,1037.9 841.2,1037.9 842.5,1038.3 843.8,1037.8 845.1,1037.7 846.5,1037.9 848.0,1038.0 849.4,1037.9 850.9,1038.1 852.4,1037.9 854.0,1038.6 855.5,1038.4 857.1,1038.7 858.7,1038.7 860.4,1038.8 862.0,1038.9 863.7,1038.7 865.3,1039.1 867.0,1038.8 868.6,1039.2 870.3,1039.3 872.0,1039.5 873.6,1039.2 875.3,1039.5 876.9,1040.0 878.5,1040.1 880.2,1040.4 881.8,1039.9 883.3,1040.1 884.9,1040.2 886.4,1040.8 888.0,1041.0 889.5,1041.1 891.1,1041.4 892.6,1041.5 894.1,1041.7 895.6,1042.2 897.2,1042.2 898.7,1042.5 900.2,1042.6 901.7,1042.8 903.3,1043.3 904.8,1043.4 906.3,1043.3 907.8,1043.8 909.4,1044.1 910.9,1044.3 912.4,1044.7 913.9,1044.8 915.5,1045.1 917.0,1045.4 918.5,1045.6 920.1,1046.3 921.6,1045.9 923.1,1046.1 924.7,1046.9 926.2,1046.9 927.8,1047.2 929.3,1047.5 930.9,1047.6 932.5,1047.7 934.1,1047.8 935.7,1048.7 937.4,1049.0 939.1,1048.8 940.8,1049.2 942.5,1049.4 944.2,1049.4 945.9,1050.3 947.6,1050.5 949.3,1050.4 951.0,1050.6 952.7,1051.2 954.3,1051.5 955.9,1051.6 957.5,1051.7 959.1,1051.9 960.6,1052.5 962.1,1052.8 963.6,1053.0 965.0,1052.7 966.3,1053.2 967.6,1053.7 968.8,1053.7 970.0,1053.7 971.1,1053.6 972.1,1053.7 974.8,1054.5 976.7,1054.3 978.1,1055.0 979.0,1055.0 979.8,1054.9 980.5,1055.3 981.5,1055.4 983.0,1055.2 985.0,1055.0 986.1,1055.5 987.3,1055.5 988.5,1055.5 989.8,1056.1 991.1,1056.1 992.5,1055.8 993.9,1056.0 995.4,1056.2 996.9,1056.6 998.4,1056.5 1000.0,1056.8 1001.6,1057.2 1003.3,1056.8 1005.0,1057.3 1006.7,1057.2 1008.4,1057.7 1010.2,1057.8 1012.0,1057.4 1013.9,1057.7 1015.7,1057.3 1017.0,1057.5 1018.4,1057.7 1019.8,1057.7 1021.3,1057.5 1022.7,1057.2 1024.2,1057.2 1025.7,1057.5 1027.2,1057.2 1028.8,1057.2 1030.3,1057.4 1031.9,1057.5 1033.5,1057.2 1035.1,1056.9 1036.7,1057.1 1038.3,1056.8 1039.9,1057.1 1041.6,1056.5 1043.2,1056.5 1044.8,1056.6 1046.5,1056.8 1048.1,1056.2 1049.7,1056.1 1051.3,1056.0 1053.0,1055.9 1054.6,1055.9 1056.2,1055.8 1057.7,1056.0 1059.3,1055.6 1060.9,1055.6 1062.4,1055.4 1064.0,1055.6 1065.5,1055.5 1067.1,1055.1 1068.6,1055.3 1070.2,1054.7 1071.8,1055.1 1073.3,1054.7 1074.9,1054.7 1076.4,1054.3 1078.0,1054.1 1079.5,1053.9 1081.1,1054.3 1082.7,1053.8 1084.2,1053.8 1085.8,1053.5 1087.3,1053.4 1088.9,1053.1 1090.4,1052.9 1092.0,1052.8 1093.6,1052.9 1095.1,1052.7 1096.7,1052.1 1098.2,1052.5 1099.8,1052.1 1101.3,1051.7 1102.9,1051.6 1104.5,1051.4 1106.1,1051.7 1107.7,1051.3 1109.3,1050.9 1111.0,1050.7 1112.7,1050.5 1114.4,1050.3 1116.1,1050.1 1117.8,1050.2 1119.5,1050.0 1121.2,1049.7 1122.9,1049.6 1124.6,1049.2 1126.3,1048.6 1127.9,1048.3 1129.6,1048.1 1131.2,1048.0 1132.8,1048.0 1134.3,1047.9 1135.9,1047.6 1137.4,1047.2 1138.8,1046.9 1140.2,1047.2 1141.6,1046.9 1142.9,1046.4 1144.2,1046.0 1145.4,1046.5 1146.5,1045.8 1148.9,1045.9 1151.0,1045.1 1152.7,1045.2 1154.3,1044.8 1155.6,1045.0 1156.9,1044.4 1158.1,1044.1 1159.3,1044.0 1160.5,1044.2 1161.8,1044.1 1163.3,1043.5 1165.0,1043.2 1166.3,1042.7 1167.5,1042.4 1168.8,1041.9 1170.1,1042.2 1171.4,1041.2 1172.7,1041.3 1174.0,1040.7 1175.3,1040.3 1176.7,1040.1 1178.2,1040.0 1179.7,1039.2 1181.2,1038.7 1182.9,1038.7 1184.6,1038.3 1186.4,1037.9 1188.2,1037.3 1190.2,1037.5 1191.5,1036.7 1192.8,1036.6 1194.3,1036.4 1195.8,1036.4 1197.3,1036.2 1199.0,1036.0 1200.6,1035.9 1202.3,1035.8 1204.1,1035.3 1205.8,1034.8 1207.6,1035.1 1209.4,1034.3 1211.2,1034.3 1213.0,1034.0 1214.8,1034.1 1216.6,1034.1 1218.3,1033.4 1220.0,1033.3 1221.7,1033.6 1223.4,1033.3 1224.9,1032.7 1226.4,1032.9 1227.9,1032.8 1229.2,1032.4 1230.5,1032.1 1231.7,1032.3 1232.8,1032.0 1233.8,1031.7 1237.0,1031.3 1238.3,1031.2 1238.7,1030.9 1239.0,1031.0 1239.9,1031.2 1242.5,1031.4 1243.5,1031.4 1244.7,1031.8 1245.9,1031.4 1247.1,1031.7 1248.5,1032.2 1249.9,1032.3 1251.4,1032.4 1252.9,1032.5 1254.5,1032.5 1256.1,1032.8 1257.8,1032.8 1259.5,1032.7 1261.2,1033.0 1263.0,1033.1 1264.7,1033.8 1266.5,1033.6 1268.4,1033.9 1270.2,1034.3 1272.0,1034.2 1273.8,1034.9 1275.6,1035.2 1277.4,1035.5 1278.8,1035.8 1280.3,1035.6 1281.7,1035.7 1283.2,1036.4 1284.7,1036.6 1286.2,1036.6 1287.7,1036.9 1289.3,1037.0 1290.8,1037.8 1292.4,1037.8 1294.0,1038.3 1295.6,1038.2 1297.2,1038.5 1298.8,1039.0 1300.4,1039.4 1302.0,1039.8 1303.6,1039.8 1305.2,1040.4 1306.8,1040.5 1308.4,1041.2 1310.0,1041.5 1311.6,1041.7 1313.2,1041.9 1314.8,1042.2 1316.4,1043.0 1317.9,1043.4 1319.5,1043.4 1321.0,1043.7 1322.6,1044.2 1324.1,1045.2 1325.8,1045.1 1327.5,1046.2 1329.1,1046.5 1330.9,1047.1 1332.6,1047.7 1334.3,1048.2 1336.1,1048.9 1337.8,1049.2 1339.6,1050.4 1341.3,1050.5 1343.0,1051.2 1344.7,1052.2 1346.4,1052.8 1348.0,1053.5 1349.6,1054.0 1351.2,1054.8 1352.7,1054.8 1354.1,1055.3 1355.5,1056.0 1356.8,1056.9 1358.1,1056.9 1359.2,1057.6 1360.3,1058.2 1361.3,1058.1 1362.2,1058.7 1363.0,1059.0" fill="none" stroke="#0cbcf0" stroke-width="3.7" stroke-linejoin="round"/><path d="M665.9,926.7 L671.4,936.7 L660.4,936.7Z" fill="#0cbcf0"/><path d="M709.5,1021.4 L715.0,1031.4 L704.0,1031.4Z" fill="#0cbcf0"/><path d="M753.2,1033.1 L758.7,1043.1 L747.7,1043.1Z" fill="#0cbcf0"/><path d="M796.8,1033.7 L802.3,1043.7 L791.3,1043.7Z" fill="#0cbcf0"/><path d="M840.5,1031.9 L846.0,1041.9 L835.0,1041.9Z" fill="#0cbcf0"/><path d="M884.1,1034.5 L889.6,1044.5 L878.6,1044.5Z" fill="#0cbcf0"/><path d="M927.8,1041.2 L933.3,1051.2 L922.3,1051.2Z" fill="#0cbcf0"/><path d="M971.5,1047.9 L977.0,1057.9 L966.0,1057.9Z" fill="#0cbcf0"/><path d="M1015.1,1051.6 L1020.6,1061.6 L1009.6,1061.6Z" fill="#0cbcf0"/><path d="M1058.8,1049.7 L1064.2,1059.7 L1053.2,1059.7Z" fill="#0cbcf0"/><path d="M1102.4,1045.8 L1107.9,1055.8 L1096.9,1055.8Z" fill="#0cbcf0"/><path d="M1146.0,1040.1 L1151.5,1050.1 L1140.5,1050.1Z" fill="#0cbcf0"/><path d="M1189.7,1031.3 L1195.2,1041.3 L1184.2,1041.3Z" fill="#0cbcf0"/><path d="M1233.3,1026.1 L1238.8,1036.1 L1227.8,1036.1Z" fill="#0cbcf0"/><path d="M1277.0,1029.3 L1282.5,1039.3 L1271.5,1039.3Z" fill="#0cbcf0"/><path d="M1320.7,1037.9 L1326.2,1047.9 L1315.2,1047.9Z" fill="#0cbcf0"/><path d="M651.0,893.5 651.2,894.8 651.4,895.7 651.7,896.5 652.0,898.0 652.3,899.3 652.7,901.6 653.0,903.1 653.4,904.7 653.8,906.0 654.2,908.3 654.6,909.7 655.0,911.8 655.3,912.9 655.7,915.0 656.0,916.2 656.4,917.6 656.8,919.4 657.2,921.2 657.5,922.4 657.9,924.4 658.3,924.9 658.7,927.3 659.0,928.6 659.4,929.7 659.8,931.6 660.1,932.2 660.5,933.8 660.9,935.8 661.3,937.5 661.8,938.5 662.2,940.7 662.7,941.9 663.1,942.7 663.5,944.2 663.9,945.6 664.3,947.5 664.7,948.5 665.0,949.7 665.4,951.5 665.7,952.4 665.9,954.5 666.2,955.6 666.4,956.4 666.7,957.6 667.0,959.0 667.5,961.1 667.8,962.0 668.2,964.0 668.5,965.4 668.9,966.5 669.4,968.2 669.8,968.9 670.2,970.5 670.7,972.4 671.2,973.8 671.6,975.7 672.1,977.9 672.6,979.3 673.0,981.0 673.5,981.7 674.0,983.2 674.4,984.4 674.9,986.1 675.3,987.3 675.8,989.2 676.3,990.4 676.8,992.3 677.3,993.5 677.8,995.0 678.2,996.1 678.7,998.0 679.3,999.4 679.8,1000.8 680.3,1002.0 680.8,1003.4 681.4,1004.6 682.0,1005.8 682.5,1007.7 683.1,1009.4 683.7,1010.3 684.3,1012.5 684.9,1014.0 685.5,1015.4 686.1,1016.8 686.7,1017.8 687.2,1018.9 687.8,1020.4 688.3,1022.3 688.9,1024.0 689.4,1024.5 689.9,1025.8 690.4,1027.7 690.9,1029.1 691.4,1030.8 691.9,1031.6 692.4,1033.8 692.8,1034.6 693.4,1036.6 693.9,1037.3 694.4,1038.5 695.0,1039.6 695.7,1042.0 696.4,1043.0 697.2,1044.6 698.0,1045.1 698.8,1047.0 699.6,1048.5 700.4,1050.0 701.2,1051.2 702.0,1051.4 702.7,1052.8 703.5,1054.5 704.5,1055.4 705.4,1057.1 706.4,1057.4 707.3,1058.2 708.2,1060.2 709.2,1060.3 710.4,1061.5 711.6,1062.1 712.7,1063.1 713.8,1064.1 714.9,1064.8 716.1,1065.3 717.4,1065.1 718.8,1066.3 720.4,1065.9 722.3,1066.8 724.5,1067.9 725.6,1067.4 726.9,1067.7 728.1,1068.2 729.4,1068.0 730.8,1068.8 732.2,1068.9 733.7,1068.5 735.2,1069.7 736.7,1068.9 738.3,1069.8 739.9,1069.6 741.6,1069.6 743.3,1069.7 745.0,1070.9 746.8,1070.9 748.6,1070.7 750.4,1071.3 752.3,1071.6 754.2,1071.8 755.6,1071.5 757.0,1071.3 758.6,1071.7 760.1,1072.3 761.8,1072.1 763.5,1072.2 765.2,1072.5 766.9,1072.1 768.7,1072.4 770.5,1072.8 772.3,1072.2 774.1,1073.0 775.9,1072.2 777.7,1072.8 779.5,1073.0 781.3,1072.6 783.0,1073.5 784.7,1073.1 786.3,1072.9 787.9,1073.2 789.4,1073.5 790.8,1073.4 792.2,1073.0 793.5,1073.2 794.7,1074.0 795.8,1073.4 796.8,1073.6 799.8,1074.6 801.0,1074.9 801.3,1075.2 801.5,1074.6 802.4,1074.7 805.0,1075.7 806.0,1075.6 807.1,1075.3 808.3,1075.0 809.5,1075.5 810.9,1075.3 812.3,1075.7 813.7,1076.1 815.2,1075.3 816.8,1075.2 818.4,1075.9 820.0,1075.2 821.7,1075.4 823.4,1075.6 825.2,1076.3 826.9,1075.5 828.7,1075.6 830.5,1075.8 832.3,1075.5 834.1,1075.8 835.9,1076.1 837.7,1075.8 839.5,1076.4 841.2,1075.8 842.6,1075.7 844.1,1076.4 845.6,1076.2 847.1,1076.8 848.6,1076.0 850.1,1076.7 851.6,1076.7 853.2,1076.5 854.7,1076.3 856.3,1076.9 857.9,1077.1 859.4,1076.9 861.0,1077.0 862.6,1077.3 864.2,1077.3 865.8,1077.2 867.4,1077.0 869.0,1077.4 870.6,1077.6 872.3,1078.1 873.9,1078.3 875.5,1078.0 877.0,1077.9 878.6,1077.9 880.2,1078.5 881.8,1078.7 883.3,1078.4 884.9,1079.0 886.4,1079.5 888.0,1079.0 889.5,1079.8 891.1,1079.5 892.6,1079.9 894.1,1080.3 895.6,1079.8 897.2,1080.2 898.7,1081.1 900.2,1080.4 901.7,1080.9 903.3,1081.3 904.8,1081.8 906.3,1082.0 907.8,1082.5 909.4,1082.5 910.9,1082.0 912.4,1082.4 913.9,1082.6 915.5,1083.3 917.0,1083.1 918.5,1083.9 920.1,1084.3 921.6,1084.1 923.1,1085.1 924.7,1084.9 926.2,1085.7 927.8,1085.3 929.3,1085.9 930.9,1086.1 932.5,1086.1 934.1,1086.9 935.7,1086.4 937.4,1086.9 939.1,1087.3 940.8,1088.2 942.5,1088.1 944.2,1087.9 945.9,1088.6 947.6,1089.2 949.3,1089.8 951.0,1089.3 952.7,1090.4 954.3,1090.2 955.9,1090.7 957.5,1090.9 959.1,1091.2 960.6,1092.1 962.1,1092.3 963.6,1092.5 965.0,1092.6 966.3,1092.8 967.6,1092.4 968.8,1092.5 970.0,1093.6 971.1,1093.6 972.1,1093.7 974.8,1093.8 976.7,1094.1 978.1,1095.0 979.0,1094.6 979.8,1094.1 980.5,1094.5 981.5,1094.5 983.0,1094.3 985.0,1095.4 986.1,1095.4 987.3,1095.4 988.5,1094.7 989.8,1095.2 991.1,1095.0 992.5,1095.8 993.9,1096.1 995.4,1096.2 996.9,1096.3 998.4,1095.7 1000.0,1095.7 1001.6,1095.9 1003.3,1096.9 1005.0,1097.0 1006.7,1096.8 1008.4,1096.6 1010.2,1097.4 1012.0,1096.7 1013.9,1097.0 1015.7,1096.8 1017.0,1097.9 1018.4,1097.3 1019.8,1097.8 1021.3,1097.9 1022.7,1097.7 1024.2,1098.2 1025.7,1098.0 1027.2,1098.2 1028.8,1098.3 1030.3,1097.4 1031.9,1098.2 1033.5,1097.6 1035.1,1097.8 1036.7,1097.8 1038.3,1098.6 1039.9,1097.6 1041.6,1098.0 1043.2,1097.7 1044.8,1098.7 1046.5,1098.2 1048.1,1098.4 1049.7,1098.3 1051.3,1098.6 1053.0,1098.1 1054.6,1098.2 1056.2,1098.6 1057.7,1098.5 1059.3,1098.7 1060.9,1098.1 1062.4,1098.7 1064.0,1098.5 1065.5,1098.3 1067.1,1098.1 1068.6,1098.3 1070.2,1097.7 1071.8,1097.7 1073.3,1097.9 1074.9,1097.7 1076.4,1097.6 1078.0,1098.2 1079.5,1098.2 1081.1,1098.0 1082.7,1097.5 1084.2,1098.1 1085.8,1098.1 1087.3,1097.9 1088.9,1097.4 1090.4,1097.7 1092.0,1097.5 1093.6,1097.3 1095.1,1097.1 1096.7,1097.9 1098.2,1097.6 1099.8,1097.8 1101.3,1097.0 1102.9,1097.0 1104.5,1097.3 1106.1,1096.7 1107.7,1097.0 1109.3,1097.2 1111.0,1097.1 1112.7,1097.6 1114.4,1097.2 1116.1,1097.2 1117.8,1097.1 1119.5,1097.3 1121.2,1096.8 1122.9,1096.4 1124.6,1097.4 1126.3,1097.2 1127.9,1096.4 1129.6,1096.4 1131.2,1096.5 1132.8,1096.9 1134.3,1096.3 1135.9,1096.1 1137.4,1096.6 1138.8,1096.1 1140.2,1096.3 1141.6,1096.4 1142.9,1096.2 1144.2,1095.9 1145.4,1096.2 1146.5,1096.1 1148.9,1096.1 1151.0,1096.1 1152.7,1096.0 1154.3,1095.8 1155.6,1095.4 1156.9,1096.2 1158.1,1096.0 1159.3,1095.7 1160.5,1095.0 1161.8,1095.2 1163.3,1095.9 1165.0,1095.4 1166.4,1095.1 1167.7,1095.7 1169.0,1095.8 1170.4,1095.0 1171.8,1095.4 1173.2,1095.5 1174.6,1095.1 1176.0,1095.3 1177.5,1095.7 1179.1,1095.8 1180.7,1095.7 1182.4,1095.7 1184.2,1095.4 1186.1,1095.1 1188.1,1094.9 1190.2,1095.8 1191.5,1095.7 1192.7,1095.7 1194.1,1094.7 1195.5,1095.4 1196.9,1094.7 1198.3,1094.8 1199.8,1094.5 1201.3,1095.1 1202.9,1095.0 1204.4,1094.9 1206.0,1094.3 1207.6,1094.7 1209.2,1093.9 1210.8,1094.1 1212.5,1094.1 1214.1,1093.5 1215.8,1093.5 1217.5,1093.1 1219.1,1093.7 1220.8,1092.9 1222.5,1092.8 1224.1,1092.8 1225.8,1093.1 1227.4,1093.0 1229.0,1092.8 1230.6,1093.0 1232.2,1092.9 1233.8,1092.2 1235.4,1092.5 1236.9,1092.0 1238.5,1092.0 1240.0,1091.9 1241.6,1091.8 1243.1,1092.0 1244.7,1092.6 1246.3,1092.3 1247.8,1091.7 1249.4,1091.8 1250.9,1092.2 1252.5,1092.1 1254.0,1091.5 1255.6,1091.6 1257.2,1092.1 1258.7,1092.1 1260.3,1091.5 1261.8,1092.2 1263.4,1091.6 1264.9,1092.0 1266.5,1091.9 1268.1,1091.6 1269.6,1092.3 1271.2,1091.6 1272.7,1091.6 1274.3,1091.7 1275.8,1091.9 1277.4,1092.0 1279.0,1091.7 1280.5,1091.4 1282.1,1091.5 1283.6,1091.3 1285.2,1091.6 1286.8,1091.5 1288.3,1091.1 1289.9,1090.4 1291.5,1090.7 1293.0,1090.4 1294.6,1090.0 1296.2,1090.5 1297.7,1089.8 1299.3,1090.2 1300.9,1089.8 1302.4,1089.6 1304.0,1089.8 1305.5,1089.7 1307.1,1089.9 1308.7,1089.8 1310.2,1089.4 1311.8,1088.7 1313.3,1089.1 1314.9,1088.8 1316.4,1089.2 1317.9,1088.6 1319.5,1088.5 1321.0,1088.1 1322.6,1088.5 1324.3,1088.6 1326.0,1088.3 1327.7,1088.1 1329.5,1088.5 1331.2,1088.1 1333.0,1088.2 1334.9,1088.6 1336.7,1088.5 1338.5,1088.7 1340.3,1088.8 1342.1,1088.7 1343.9,1088.4 1345.6,1088.4 1347.3,1089.0 1349.0,1089.5 1350.6,1088.8 1352.2,1089.0 1353.7,1089.0 1355.1,1089.5 1356.5,1089.3 1357.8,1089.7 1359.1,1088.8 1360.2,1089.0 1361.2,1089.1 1362.2,1089.3 1363.0,1089.5" fill="none" stroke="#088888" stroke-width="3.7" stroke-linejoin="round"/><path d="M665.9,960.0 L671.4,950.0 L660.4,950.0Z" fill="#088888"/><path d="M709.5,1066.2 L715.0,1056.2 L704.0,1056.2Z" fill="#088888"/><path d="M753.2,1077.2 L758.7,1067.2 L747.7,1067.2Z" fill="#088888"/><path d="M796.8,1079.9 L802.3,1069.9 L791.3,1069.9Z" fill="#088888"/><path d="M840.5,1082.1 L846.0,1072.1 L835.0,1072.1Z" fill="#088888"/><path d="M884.1,1084.8 L889.6,1074.8 L878.6,1074.8Z" fill="#088888"/><path d="M927.8,1091.5 L933.3,1081.5 L922.3,1081.5Z" fill="#088888"/><path d="M971.5,1099.5 L977.0,1089.5 L966.0,1089.5Z" fill="#088888"/><path d="M1015.1,1103.3 L1020.6,1093.3 L1009.6,1093.3Z" fill="#088888"/><path d="M1058.8,1104.3 L1064.2,1094.3 L1053.2,1094.3Z" fill="#088888"/><path d="M1102.4,1103.3 L1107.9,1093.3 L1096.9,1093.3Z" fill="#088888"/><path d="M1146.0,1102.4 L1151.5,1092.4 L1140.5,1092.4Z" fill="#088888"/><path d="M1189.7,1101.4 L1195.2,1091.4 L1184.2,1091.4Z" fill="#088888"/><path d="M1233.3,1098.5 L1238.8,1088.5 L1227.8,1088.5Z" fill="#088888"/><path d="M1277.0,1097.5 L1282.5,1087.5 L1271.5,1087.5Z" fill="#088888"/><path d="M1320.7,1094.6 L1326.2,1084.6 L1315.2,1084.6Z" fill="#088888"/><path d="M651.0,892.8 651.2,893.5 651.4,894.6 651.6,896.7 651.9,897.3 652.2,899.1 652.5,901.2 652.8,902.5 653.2,904.2 653.5,906.3 653.9,907.4 654.2,908.8 654.5,911.8 654.9,912.9 655.2,914.5 655.5,915.2 655.9,917.8 656.2,918.9 656.6,920.9 656.9,922.0 657.3,924.4 657.6,925.1 658.0,926.4 658.3,928.7 658.7,929.2 659.0,930.6 659.4,932.3 659.7,934.4 660.1,934.8 660.6,936.5 661.0,938.9 661.5,939.4 661.9,941.4 662.3,943.4 662.8,944.8 663.2,946.3 663.6,946.7 663.9,949.1 664.3,949.9 664.5,951.9 664.8,952.7 665.0,954.5 665.2,955.2 665.5,956.2 665.8,957.7 666.3,960.0 666.6,960.6 667.0,962.0 667.4,964.4 667.8,965.4 668.2,967.2 668.7,967.8 669.2,969.8 669.7,971.3 670.2,972.4 670.7,974.2 671.2,976.7 671.6,978.0 672.1,979.2 672.6,980.9 673.1,982.7 673.5,984.2 674.0,985.2 674.4,985.9 674.9,988.4 675.4,988.9 675.8,990.4 676.3,991.7 676.8,993.7 677.3,995.2 677.8,996.4 678.3,997.9 678.8,998.9 679.3,1001.1 679.8,1002.3 680.4,1003.4 681.0,1005.6 681.5,1007.2 682.1,1008.6 682.7,1010.1 683.3,1010.3 683.9,1012.2 684.5,1013.7 685.1,1014.9 685.7,1017.0 686.2,1018.6 686.8,1019.0 687.3,1020.9 687.8,1023.1 688.4,1024.5 688.9,1025.4 689.3,1026.4 689.8,1028.4 690.3,1030.0 690.7,1031.9 691.2,1032.5 691.7,1034.1 692.2,1036.5 692.7,1036.6 693.2,1038.8 693.8,1039.4 694.5,1041.8 695.2,1042.8 695.9,1044.9 696.7,1045.3 697.4,1047.6 698.2,1048.1 699.0,1049.1 699.8,1050.5 700.5,1051.7 701.2,1053.4 701.9,1055.3 702.6,1055.6 703.5,1057.7 704.2,1058.2 704.9,1060.3 705.6,1061.7 706.3,1062.3 707.1,1064.1 708.0,1065.0 709.0,1065.9 710.1,1067.4 711.0,1068.0 712.1,1067.8 713.2,1068.4 714.5,1068.9 716.1,1069.7 718.1,1070.8 720.6,1072.0 721.7,1072.2 722.8,1072.4 724.0,1071.6 725.3,1072.9 726.6,1073.2 728.0,1073.1 729.4,1074.1 730.9,1073.9 732.4,1073.6 733.9,1074.0 735.5,1074.2 737.2,1075.2 738.8,1075.6 740.5,1076.2 742.2,1075.3 744.0,1075.6 745.7,1077.3 747.5,1076.6 749.3,1076.9 751.1,1078.0 752.9,1077.2 754.3,1078.3 755.7,1078.6 757.1,1078.3 758.6,1078.6 760.0,1077.9 761.5,1078.9 763.0,1079.1 764.6,1079.4 766.1,1079.2 767.7,1078.8 769.3,1079.1 770.9,1079.9 772.5,1079.2 774.1,1079.4 775.7,1079.7 777.3,1080.6 779.0,1080.4 780.6,1080.3 782.2,1081.2 783.9,1080.8 785.5,1080.5 787.2,1081.0 788.8,1081.6 790.4,1081.0 792.0,1081.2 793.6,1081.5 795.2,1082.2 796.8,1081.8 798.4,1081.3 800.0,1081.9 801.5,1081.6 803.1,1081.9 804.7,1082.3 806.3,1081.4 807.9,1082.2 809.5,1082.0 811.1,1082.4 812.6,1082.8 814.2,1082.4 815.8,1082.7 817.4,1082.2 819.0,1082.2 820.6,1082.7 822.2,1082.7 823.8,1082.4 825.4,1083.2 827.0,1082.9 828.6,1082.7 830.1,1082.6 831.7,1083.5 833.3,1083.7 834.9,1083.8 836.5,1082.9 838.0,1082.7 839.6,1083.6 841.2,1082.8 842.8,1084.1 844.3,1083.9 845.9,1083.5 847.5,1083.8 849.1,1084.2 850.6,1083.6 852.2,1084.0 853.8,1084.6 855.3,1084.6 856.9,1084.6 858.5,1084.0 860.0,1084.2 861.6,1084.4 863.1,1084.2 864.7,1085.1 866.3,1085.2 867.8,1085.8 869.4,1085.4 870.9,1086.0 872.5,1085.5 874.0,1085.7 875.6,1085.5 877.2,1085.9 878.7,1086.7 880.3,1086.3 881.8,1085.8 883.4,1086.4 884.9,1086.4 886.4,1087.2 888.0,1087.2 889.5,1087.3 891.1,1088.1 892.6,1088.1 894.1,1087.4 895.6,1087.5 897.2,1088.6 898.7,1088.7 900.2,1089.0 901.7,1089.0 903.3,1088.6 904.8,1089.4 906.3,1090.2 907.8,1090.1 909.4,1089.5 910.9,1089.9 912.4,1091.3 913.9,1091.0 915.5,1090.8 917.0,1091.8 918.5,1092.4 920.1,1092.6 921.6,1092.6 923.1,1093.1 924.7,1092.4 926.2,1093.2 927.8,1094.0 929.3,1093.7 930.9,1093.8 932.5,1095.1 934.1,1095.3 935.7,1094.7 937.4,1095.2 939.1,1096.3 940.8,1097.3 942.5,1097.3 944.2,1098.1 945.9,1097.4 947.6,1098.5 949.3,1098.4 951.0,1099.1 952.7,1099.3 954.3,1100.2 955.9,1100.0 957.5,1101.3 959.1,1101.7 960.6,1102.5 962.1,1102.7 963.6,1102.2 965.0,1103.6 966.3,1103.6 967.6,1104.4 968.8,1104.1 970.0,1103.9 971.1,1105.0 972.1,1104.5 974.8,1106.3 976.7,1106.2 978.1,1107.0 979.0,1106.6 979.8,1106.5 980.5,1107.1 981.5,1107.3 983.0,1107.2 985.0,1107.4 986.1,1107.8 987.3,1108.5 988.5,1108.1 989.8,1108.2 991.1,1109.0 992.5,1109.5 993.9,1109.0 995.4,1109.6 996.9,1110.9 998.4,1110.2 1000.0,1111.3 1001.6,1110.9 1003.3,1111.0 1005.0,1111.9 1006.7,1112.7 1008.4,1112.9 1010.2,1112.2 1012.0,1113.5 1013.9,1113.7 1015.7,1113.8 1017.0,1114.2 1018.4,1114.3 1019.8,1114.0 1021.3,1114.9 1022.7,1114.4 1024.2,1114.8 1025.7,1115.8 1027.2,1115.7 1028.8,1115.8 1030.3,1116.3 1031.9,1116.2 1033.5,1116.3 1035.1,1116.8 1036.7,1116.2 1038.3,1116.9 1039.9,1116.7 1041.6,1118.2 1043.2,1118.3 1044.8,1118.2 1046.5,1117.7 1048.1,1118.9 1049.7,1118.3 1051.3,1119.2 1053.0,1119.1 1054.6,1119.3 1056.2,1119.6 1057.7,1119.1 1059.3,1120.1 1060.9,1119.8 1062.4,1120.3 1064.0,1120.5 1065.5,1119.8 1067.1,1120.2 1068.6,1120.2 1070.2,1120.0 1071.8,1121.2 1073.3,1121.0 1074.9,1120.9 1076.4,1121.1 1078.0,1121.6 1079.5,1120.6 1081.1,1121.1 1082.7,1121.6 1084.2,1121.5 1085.8,1121.6 1087.3,1121.3 1088.9,1121.3 1090.4,1122.1 1092.0,1121.7 1093.6,1122.6 1095.1,1122.6 1096.7,1122.8 1098.2,1121.9 1099.8,1122.3 1101.3,1121.9 1102.9,1122.3 1104.5,1122.0 1106.1,1122.7 1107.7,1123.4 1109.3,1123.2 1111.0,1122.7 1112.7,1122.7 1114.4,1123.7 1116.1,1122.6 1117.8,1123.8 1119.5,1123.9 1121.2,1122.8 1122.9,1124.2 1124.6,1123.8 1126.3,1123.5 1127.9,1123.7 1129.6,1124.0 1131.2,1123.9 1132.8,1124.5 1134.3,1124.6 1135.9,1123.9 1137.4,1123.5 1138.8,1124.6 1140.2,1124.5 1141.6,1124.5 1142.9,1123.8 1144.2,1123.8 1145.4,1125.0 1146.5,1124.3 1148.9,1124.5 1151.0,1125.3 1152.7,1124.2 1154.3,1124.8 1155.6,1124.0 1156.9,1124.7 1158.1,1124.9 1159.3,1124.1 1160.5,1124.9 1161.8,1125.2 1163.3,1124.9 1165.0,1124.9 1166.4,1125.1 1167.7,1124.8 1169.0,1124.6 1170.4,1125.1 1171.8,1125.1 1173.2,1124.9 1174.6,1124.9 1176.0,1124.3 1177.5,1124.6 1179.1,1124.6 1180.7,1125.4 1182.4,1125.3 1184.2,1124.6 1186.1,1125.6 1188.1,1124.4 1190.2,1124.4 1191.5,1124.8 1192.7,1124.4 1194.1,1125.7 1195.5,1124.8 1196.9,1124.9 1198.3,1125.5 1199.8,1125.1 1201.3,1125.3 1202.9,1125.0 1204.4,1125.0 1206.0,1125.7 1207.6,1124.8 1209.2,1125.1 1210.8,1125.1 1212.5,1124.6 1214.1,1124.6 1215.8,1125.1 1217.5,1125.5 1219.1,1125.0 1220.8,1124.5 1222.5,1125.7 1224.1,1124.6 1225.8,1125.6 1227.4,1124.4 1229.0,1125.3 1230.6,1124.5 1232.2,1124.7 1233.8,1124.9 1235.4,1125.3 1236.9,1124.9 1238.5,1124.8 1240.0,1124.8 1241.6,1124.9 1243.1,1124.5 1244.7,1125.4 1246.3,1124.3 1247.8,1124.2 1249.4,1124.8 1250.9,1124.5 1252.5,1124.9 1254.0,1123.9 1255.6,1124.8 1257.2,1124.3 1258.7,1125.0 1260.3,1124.1 1261.8,1124.3 1263.4,1124.1 1264.9,1124.3 1266.5,1123.9 1268.1,1124.4 1269.6,1124.0 1271.2,1124.4 1272.7,1123.7 1274.3,1123.9 1275.8,1124.0 1277.4,1124.2 1279.0,1124.1 1280.5,1123.7 1282.1,1123.2 1283.6,1123.2 1285.2,1123.2 1286.8,1123.2 1288.3,1123.2 1289.9,1123.8 1291.5,1123.3 1293.0,1124.1 1294.6,1123.1 1296.2,1123.0 1297.7,1122.9 1299.3,1122.8 1300.9,1123.5 1302.4,1123.3 1304.0,1122.8 1305.5,1123.6 1307.1,1123.3 1308.7,1122.9 1310.2,1123.1 1311.8,1123.1 1313.3,1122.8 1314.9,1122.2 1316.4,1122.5 1317.9,1123.3 1319.5,1122.4 1321.0,1122.7 1322.6,1121.8 1324.3,1122.7 1326.0,1122.7 1327.7,1121.9 1329.5,1121.8 1331.2,1121.9 1333.0,1121.4 1334.9,1121.2 1336.7,1121.0 1338.5,1121.6 1340.3,1121.3 1342.1,1121.8 1343.9,1121.6 1345.6,1121.4 1347.3,1121.3 1349.0,1121.1 1350.6,1119.8 1352.2,1119.8 1353.7,1120.9 1355.1,1120.6 1356.5,1120.2 1357.8,1120.1 1359.1,1119.7 1360.2,1119.6 1361.2,1119.1 1362.2,1119.6 1363.0,1119.5" fill="none" stroke="#10cc10" stroke-width="3.7" stroke-linejoin="round"/><path d="M665.9,952.3 L667.3,956.2 L671.4,956.3 L668.1,958.8 L669.3,962.8 L665.9,960.4 L662.5,962.8 L663.7,958.8 L660.4,956.3 L664.5,956.2Z" fill="#10cc10"/><path d="M709.5,1060.5 L710.9,1064.5 L715.1,1064.6 L711.7,1067.1 L713.0,1071.0 L709.5,1068.6 L706.1,1071.0 L707.4,1067.1 L704.0,1064.6 L708.2,1064.5Z" fill="#10cc10"/><path d="M753.2,1071.9 L754.6,1075.9 L758.7,1075.9 L755.4,1078.4 L756.6,1082.4 L753.2,1080.0 L749.8,1082.4 L751.0,1078.4 L747.7,1075.9 L751.8,1075.9Z" fill="#10cc10"/><path d="M796.8,1075.8 L798.2,1079.7 L802.4,1079.8 L799.0,1082.3 L800.3,1086.3 L796.8,1083.9 L793.4,1086.3 L794.7,1082.3 L791.3,1079.8 L795.5,1079.7Z" fill="#10cc10"/><path d="M840.5,1077.7 L841.9,1081.6 L846.0,1081.7 L842.7,1084.2 L843.9,1088.2 L840.5,1085.8 L837.1,1088.2 L838.3,1084.2 L835.0,1081.7 L839.1,1081.6Z" fill="#10cc10"/><path d="M884.1,1080.9 L885.5,1084.9 L889.7,1085.0 L886.3,1087.5 L887.6,1091.4 L884.1,1089.0 L880.7,1091.4 L882.0,1087.5 L878.6,1085.0 L882.8,1084.9Z" fill="#10cc10"/><path d="M927.8,1087.8 L929.2,1091.7 L933.3,1091.8 L930.0,1094.3 L931.2,1098.3 L927.8,1095.9 L924.4,1098.3 L925.6,1094.3 L922.3,1091.8 L926.4,1091.7Z" fill="#10cc10"/><path d="M971.5,1099.0 L972.8,1103.0 L977.0,1103.0 L973.6,1105.5 L974.9,1109.5 L971.5,1107.1 L968.0,1109.5 L969.3,1105.5 L965.9,1103.0 L970.1,1103.0Z" fill="#10cc10"/><path d="M1015.1,1107.9 L1016.5,1111.8 L1020.6,1111.9 L1017.3,1114.4 L1018.5,1118.4 L1015.1,1116.0 L1011.7,1118.4 L1012.9,1114.4 L1009.6,1111.9 L1013.7,1111.8Z" fill="#10cc10"/><path d="M1058.8,1113.7 L1060.1,1117.7 L1064.3,1117.7 L1060.9,1120.2 L1062.2,1124.2 L1058.8,1121.8 L1055.3,1124.2 L1056.6,1120.2 L1053.2,1117.7 L1057.4,1117.7Z" fill="#10cc10"/><path d="M1102.4,1116.7 L1103.8,1120.6 L1107.9,1120.7 L1104.6,1123.2 L1105.8,1127.2 L1102.4,1124.8 L1099.0,1127.2 L1100.2,1123.2 L1096.9,1120.7 L1101.0,1120.6Z" fill="#10cc10"/><path d="M1146.0,1118.7 L1147.4,1122.6 L1151.6,1122.7 L1148.2,1125.2 L1149.5,1129.2 L1146.0,1126.8 L1142.6,1129.2 L1143.9,1125.2 L1140.5,1122.7 L1144.7,1122.6Z" fill="#10cc10"/><path d="M1189.7,1119.2 L1191.1,1123.1 L1195.2,1123.2 L1191.9,1125.7 L1193.1,1129.7 L1189.7,1127.3 L1186.3,1129.7 L1187.5,1125.7 L1184.2,1123.2 L1188.3,1123.1Z" fill="#10cc10"/><path d="M1233.3,1119.2 L1234.7,1123.1 L1238.9,1123.2 L1235.5,1125.7 L1236.8,1129.7 L1233.3,1127.3 L1229.9,1129.7 L1231.2,1125.7 L1227.8,1123.2 L1232.0,1123.1Z" fill="#10cc10"/><path d="M1277.0,1118.1 L1278.4,1122.0 L1282.5,1122.1 L1279.2,1124.6 L1280.4,1128.6 L1277.0,1126.2 L1273.6,1128.6 L1274.8,1124.6 L1271.5,1122.1 L1275.6,1122.0Z" fill="#10cc10"/><path d="M1320.7,1116.7 L1322.0,1120.7 L1326.2,1120.7 L1322.8,1123.2 L1324.1,1127.2 L1320.7,1124.8 L1317.2,1127.2 L1318.5,1123.2 L1315.1,1120.7 L1319.3,1120.7Z" fill="#10cc10"/><line x1="999.6" y1="855.2" x2="1062" y2="855.2" stroke="#000000" stroke-width="3.4" stroke-dasharray="13.7 10.7"/><line x1="1000" y1="888.9" x2="1063" y2="888.9" stroke="#050582" stroke-width="3.7" stroke-linecap="round"/><rect x="1026.7" y="884.0" width="9.7" height="9.7" fill="#050582"/><line x1="1000" y1="922.6" x2="1063" y2="922.6" stroke="#0505f0" stroke-width="3.7" stroke-linecap="round"/><circle cx="1031.5" cy="922.6" r="5.0" fill="#0505f0"/><line x1="1195" y1="855.2" x2="1258.3" y2="855.2" stroke="#0cbcf0" stroke-width="3.7" stroke-linecap="round"/><path d="M1226.7,849.2 L1232.2,859.2 L1221.2,859.2Z" fill="#0cbcf0"/><line x1="1195" y1="889" x2="1258.3" y2="889" stroke="#088888" stroke-width="3.7" stroke-linecap="round"/><path d="M1226.7,895.0 L1232.2,885.0 L1221.2,885.0Z" fill="#088888"/><line x1="1195" y1="922.7" x2="1258.3" y2="922.7" stroke="#10cc10" stroke-width="3.7" stroke-linecap="round"/><path d="M1226.7,916.9 L1228.0,920.8 L1232.2,920.9 L1228.8,923.4 L1230.1,927.4 L1226.7,925.0 L1223.2,927.4 L1224.5,923.4 L1221.1,920.9 L1225.3,920.8Z" fill="#10cc10"/><circle cx="1059.3" cy="938.3" r="5.2" fill="#0505f0"/><path d="M1054.1,946.8 L1064.3,946.8 L1064.3,972.3 L1068.7,972.3 L1059.5,1003 L1050.1,972.3 L1054.1,972.3Z" fill="#0505f0"/><path d="M1243,953.4 L1249,963.5 L1237.1,963.5Z" fill="#0cbcf0"/><path d="M1237.8,968.2 L1247.9,968.2 L1247.9,994.3 L1252,994.3 L1242.8,1024.5 L1233.8,994.3 L1237.8,994.3Z" fill="#0cbcf0"/>
</svg></body></html>
